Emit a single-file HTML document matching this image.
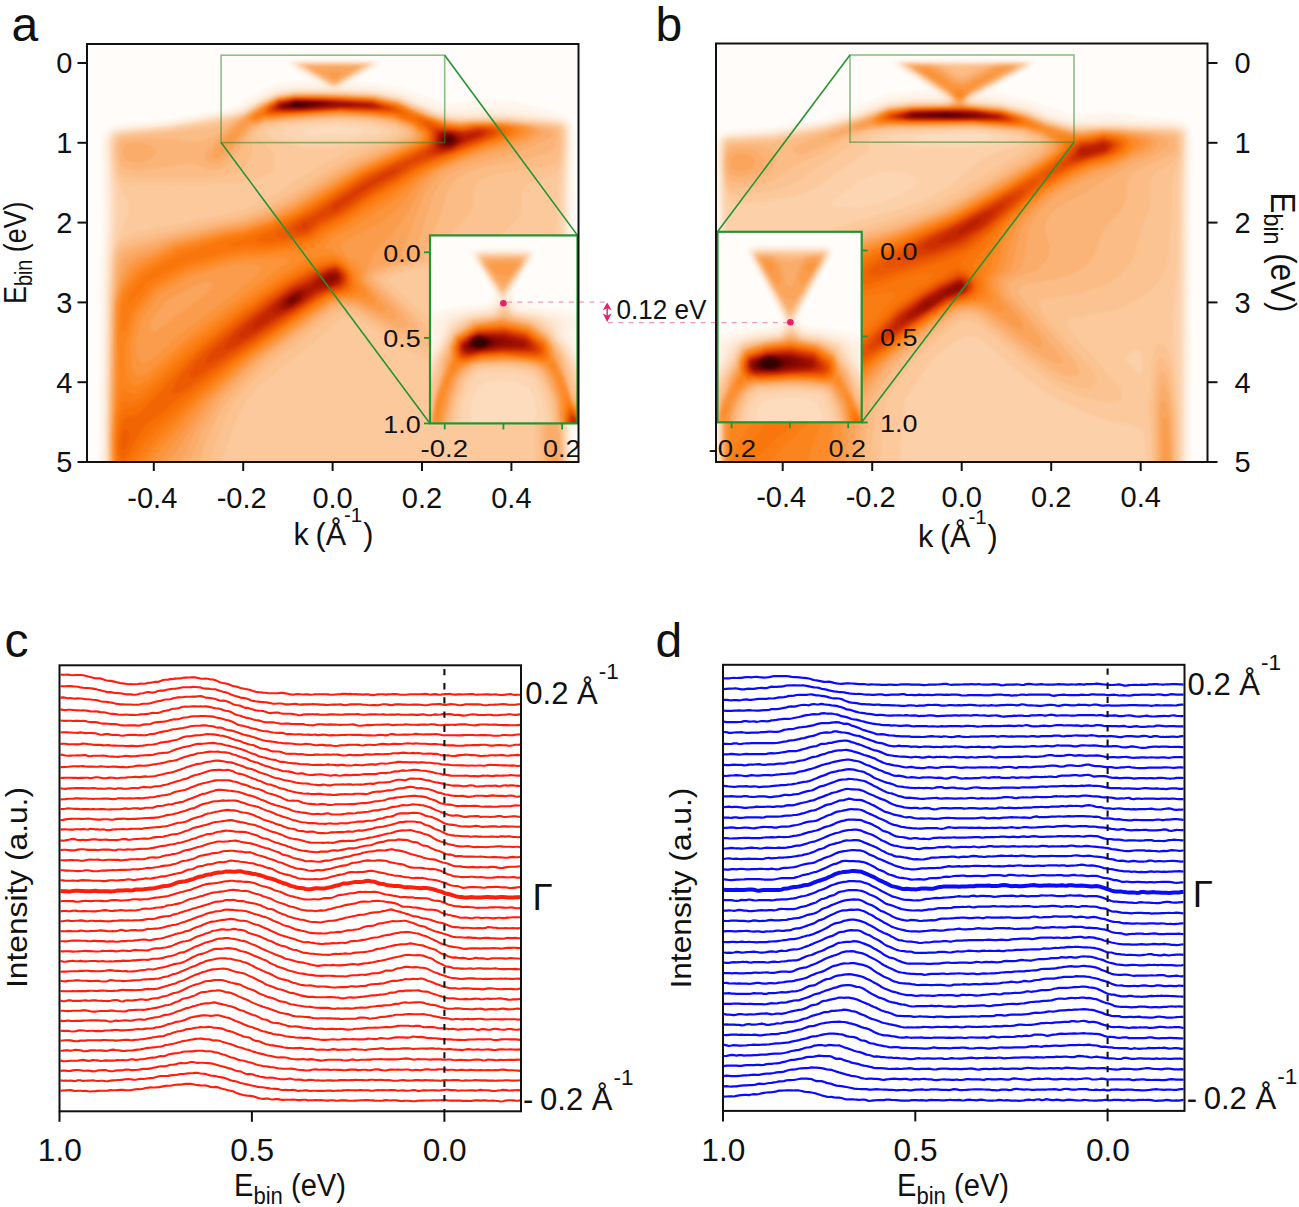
<!DOCTYPE html>
<html><head><meta charset="utf-8"><title>ARPES figure</title>
<style>
html,body{margin:0;padding:0;background:#fff;}
svg{display:block;}
text{font-family:"Liberation Sans",sans-serif;fill:#111;}
</style></head>
<body>
<svg width="1299" height="1207" viewBox="0 0 1299 1207">
<rect width="1299" height="1207" fill="#fff"/>
<defs><filter id="hb" x="-2%" y="-2%" width="104%" height="104%" color-interpolation-filters="sRGB"><feGaussianBlur stdDeviation="1.3"/></filter>
<clipPath id="cpa"><rect x="88" y="45" width="489.5" height="416"/></clipPath>
<clipPath id="cpb"><rect x="717" y="44.5" width="489.5" height="416.5"/></clipPath>
<clipPath id="cpia"><rect x="430" y="235.4" width="147.5" height="188"/></clipPath>
<clipPath id="cpib"><rect x="717.5" y="231.8" width="144.2" height="190.5"/></clipPath>
</defs>
<g clip-path="url(#cpa)"><g filter="url(#hb)"><rect x="84" y="41" width="498" height="425" fill="rgb(255,252,249)"/>
<path fill="#fff7ef" fill-rule="evenodd" d="M574 466l-475 0 1-196 2-48-2-74 1-10 3-6 6-5 8-3 52-5 60-11 9-4 13-9 22-11 20-3 15-1 0 0-2-2-15-10-4-4 0-2 2-2 8-1 68 0 10 1 4 2 0 2-1 2-19 12-3 2 0 2 17 1 28 4 34 13 8 3 10 0 18-3 20 0 22 1 44 11 8 4 4 4 3 4 1 10 0 152 0 180 0 0z"/>
<path fill="#fef3e9" fill-rule="evenodd" d="M572 466l-471 0 2-198 2-46-2-74 1-10 2-4 4-5 8-3 52-5 62-11 9-4 13-8 22-11 18-2 18-1 5 0-1-2-2-2-20-13-4-3 0-2 2-1 8-1 66 0 8 1 4 1-1 4-24 14-3 2 0 2 4 2 20 0 26 5 36 15 10 2 12 1 16-2 30 0 16 2 20 4 18 3 8 3 4 3 1 4 1 8-1 62 0 194 1 74 0 2z"/>
<path fill="#fef0e1" fill-rule="evenodd" d="M570 466l-467 0 2-198 2-48-2-72 1-10 2-4 4-4 6-2 52-6 65-12 8-2 11-8 22-11 18-2 24-1 4 0-1-2-4-4-23-13-2-3 0-2 2 0 6-1 64 0 10 1 2 2-1 2-24 14-5 4-1 2 5 1 24 2 26 4 22 9 12 6 10 2 12 2 18-1 20-1 20 2 44 6 8 2 4 6 1 8-1 54 0 100 0 178z"/>
<path fill="#feead9" fill-rule="evenodd" d="M570 466l-466 0 1-162 1-42 2-42-1-72 0-8 2-6 3-3 8-2 50-5 66-12 8-4 12-7 20-10 18-3 31 0 1-2-1 0-3-4-25-14-4-4 0 0 1-2 8-1 62 0 10 1 1 2-2 2-27 16-4 4 0 2 4 1 28 1 26 5 35 15 10 2 11 2 38-1 20 1 44 5 4 1 4 2 3 4 1 8-2 56 0 154 2 122z"/>
<path fill="#fde6d0" fill-rule="evenodd" d="M568 466l-463 0 1-162 1-44 3-42 0-24-2-46 0-8 2-6 4-3 6-1 50-5 66-12 8-3 12-8 20-10 20-3 28 0 4-1 0-2-3-2-27-16-4-4 0 0 2-2 6 0 62 0 8 0 2 2 0 0-2 2-29 18-3 2-1 2 5 2 30 1 26 5 34 14 9 4 13 2 38-2 20 1 44 5 6 3 4 4 0 7-1 56 0 162 1 114z"/>
<path fill="#fde0c7" fill-rule="evenodd" d="M568 466l-462 0 1-162 2-44 2-26 0-16 0-24-2-44 0-10 2-4 4-4 7-2 48-4 64-12 10-4 12-7 22-10 18-3 30 0 6 0 1-2-34-20-3-4 0 0 2-1 6-1 60 0 6 0 2 2 0 0-2 2-26 16-9 6 0 2 7 1 32 1 26 5 36 15 16 4 10 1 32-1 12 0 50 5 8 3 3 4 1 6-2 54 0 122 0 76 2 80z"/>
<path fill="#fddbbd" fill-rule="evenodd" d="M336 87l-6-1-28-17-4-3-1-2 1 0 8-2 44 0 16 1 4 1 1 0-1 2-2 2-32 19zM566 466l-459 0 1-162 2-44 3-28 0-16 0-22-2-26-1-18 1-10 1-4 4-3 6-2 48-5 62-11 12-3 14-9 18-9 20-3 38 0 40 2 26 5 36 16 16 3 54 0 50 5 8 2 2 4 1 8-2 52-1 116 1 82 2 72 0 8-1 0z"/>
<path fill="#fcd5b3" fill-rule="evenodd" d="M336 86l-2 0-4-1-27-17-5-4 4-1 18 0 42 0 6 1 2 0-5 4-29 18zM566 466l-458 0-1-22 2-140 2-46 3-26 1-14 0-24-3-22-1-16 0-14 2-6 3-2 6-2 48-5 60-10 12-4 16-9 18-9 20-3 38 0 40 2 26 5 34 15 18 4 10 1 14-1 30 0 50 5 6 2 3 3 1 8-3 54 0 114 0 70 3 72 0 20 0 0zM346 136l13-2 3-2 1-2-4-2-5 0-18-2-21 2-10 2-3 2 2 2 12 2 14 0 16 0z"/>
<path fill="#fcd0a9" fill-rule="evenodd" d="M336 85l-2 0-4-1-26-16-3-2-1-2 4-1 16 0 42 0 6 1-1 2-3 2-28 17zM566 466l-458 0 0-22 2-142 2-46 5-26 1-16 0-18-4-22-2-16 0-14 2-7 4-3 6-1 46-5 58-10 15-4 15-10 18-9 20-3 38 0 40 2 26 5 35 15 17 5 10 1 14-1 30 0 48 5 8 2 2 4 1 6-1 22-3 34-1 172 1 22 3 36 2 44zM340 140l30-4 9-2 1-2 1-2-3-2-8-2-30-3-24 1-20 2-12 4-3 2 3 4 18 4 18 1 20-1z"/>
<path fill="#fcc99d" fill-rule="evenodd" d="M336 85l-4 0-2-2-25-15-3-2 0-1 12-1 46 0 6 0 1 2-1 0-3 2-27 17zM564 466l-455 0-1-20 2-114 3-72 3-15 12-31 1-6-1-6-10-18-2-9-3-23 1-8 2-6 3-2 5-2 46-4 56-10 18-6 14-9 18-9 20-3 38 0 40 2 24 5 38 15 16 5 10 0 14-1 30 1 48 4 7 2 2 2 1 4-1 20-1 12-4 24-1 42-3 26-6 43-13 47 2 4 9 8 4 7 4 7 2 6 4 22 3 22 1 44zM326 148l32-5 20-4 12-4 2-3 0-2 0-1-4-1-18-5-30-2-24 1-32 3-12 4-2-1-3 4 1 4 4 2 18 6 18 4 18 0z"/>
<path fill="#fbc391" fill-rule="evenodd" d="M336 84l-2 0-4-1-24-15-3-2 3-2 16 0 38 0 4 0 1 2-3 2-26 16zM220 466l-111 0 0-22 2-140 3-46 2-8 2-7 6-6 8-4 112-23 22-11 22-13 1-2 3-2 44-25 14-7 42-11 6-5 1-2-1-2-4-4-7-2-17-3-30-2-25 1-33 3-12 3-2 0-11 6 0 4 3 4 12 10 3 4 0 10-1 4-2 4-8 4-12 4-20 3-18 1-76 1-8-1-6-1-2-2-4-5-2-12-1-16 1-6 2-4 2-2 6-1 44-4 50-8 24-8 14-10 20-9 18-3 44 1 34 1 24 5 36 16 18 4 8 1 16-1 30 0 47 6 5 0 2 2 2 2 0 4 0 20-2 8-2 8-6 5-19 7-8 4-3 6 0 14-2 8-5 8-6 6-13 10-30 14-10 8-57 14-8 2-3 4 1 2 4 4 31 28 18 20 5 8 2 6 0 6-3 4-4 3-4 1-6-1-6-2-30-15-40-26-10-1-4 1-4 3-1 1-15 14-41 32-21 18-13 14-7 13-6 13-14 40zM564 466l-29 0-1-38 0-22 2-8 3-6 1-4 1-2 3-2 2 0 2 2 2 2 4 5 4 6 2 7 2 18 2 40 0 2z"/>
<path fill="#fbbc86" fill-rule="evenodd" d="M334 84l-4-1-21-13-3-2-1-2 5-1 12 0 36 0 5 1 0 0-2 2-23 14-4 2zM208 466l-98 0 0-22 2-140 3-44 2-8 2-4 5-5 6-3 92-21 20-3 19-8 7-2 24-13 42-27 18-9 14-6 32-11 6-4 2-4-4-4-10-4-22-4-19-2-11 0-24 1-34 3-14 2 0-1-14 7-1 4-2 6 1 10-1 6-3 6-4 5-6 4-8 3-8 2-10 1-74 0-12-1-4-2-2-2-3-12-1-12 1-6 2-2 4-2 5-2 42-3 38-4 8-2 28-11 14-10 18-9 20-3 44 0 34 2 24 5 28 12 14 5 10 3 10 1 16-1 32 0 44 5 4 2 3 2 2 6-1 14-2 9-4 4-6 3-54 8-4 2-11 4-3 4-2 2-1 6 0 12-2 8-5 6-14 14-6 8-6 9-5 11-44 12-7 2-4 4 0 2 4 6 27 24 13 14 5 8 3 6 1 4-1 4-4 2-4 0-20-7-12-6-30-19-10-4-10-1-6 2-61 47-21 19-19 21-7 12-7 16-13 38zM562 466l-22 0-1-38 0-14 3-11 2-3 2-2 4 1 4 2 2 5 4 10 2 16 1 32 0 2-1 0z"/>
<path fill="#fbb478" fill-rule="evenodd" d="M336 83l-6-1-20-12-4-4 4-1 14 0 32 0 4 1 2 0-6 4-20 13zM198 466l-87 0-1-22 3-140 4-42 1-6 2-4 4-5 8-2 40-11 52-12 18-3 26-10 24-12 42-26 20-11 50-21 6-3 0-4-1-2-3-2-12-5-24-5-30-1-24 1-50 4-12 6-5 6-9 16-10 12-8 6-8 2-6-1-14-5-6 0-38 5-14 1-8-1-6-3-3-8 0-10 1-4 2-3 2-1 6-1 18-1 24 1 20 3 10-1 12-5 17-12 13-8 15-10 13-6 6-3 18-3 44 1 34 1 24 5 28 13 14 5 10 2 10 1 16-1 32 1 18 2 23 4 5 1 3 1 1 6-2 7-2 6-6 4-20 6-40 7-14 4-6 2-10 6-6 6-4 6-7 24-13 30-5 16-37 10-7 4-4 2 0 4 3 4 25 24 11 12 5 10 0 2-1 3-4 1-4 1-12-4-14-7-24-14-8-4-12 0-7 2-66 50-16 16-23 24-8 12-8 16-7 16-7 22 0 0zM562 466l-18 0-2-38 2-14 2-4 2-2 4 0 2 3 4 6 1 7 3 36 0 6 0 0z"/>
<path fill="#faac6a" fill-rule="evenodd" d="M336 82l-4 0-2-2-18-10-3-2 1-2 14 0 34 0 1 2-3 2-20 12zM188 466l-77 0 0-22 3-139 4-40 4-9 2-3 6-3 42-13 52-12 18-3 28-10 24-12 40-25 22-12 51-23 5-2 2-4-1-2-3-4-16-7-24-4-30-1-58 4-14 2-2-1-8 4-6 1-16 22-12 11-6 5-4 0-4-1-2-1-2-4-1-2 1-4 7-8 15-16 8-6 24-15 18-10 18-2 20-1 58 3 24 5 26 12 16 5 10 3 10 1 16-1 32 0 23 4 17 4 4 2 1 2-3 4-16 8-22 8-46 12-16 8-6 4-4 6-4 6-4 8-19 62-33 9-6 4-3 5 0 2 4 6 21 20 8 10 4 6 0 4-2 1-6 1-8-3-32-16-10-4-10 0-10 3-69 52-16 16-24 24-8 14-10 16-15 36zM140 162l-10 0-6-3-1-3-1-4 1-4 1-3 6-2 10 0 10 2 5 3 2 4-3 4-6 4-8 2zM560 466l-13 0-1-40 2-6 2-2 4 1 3 5 3 22 0 20z"/>
<path fill="#faa45c" fill-rule="evenodd" d="M336 81l-4-1-16-10-2-2 0 0 4-1 26 0 10 0 0 1-2 2-16 11zM178 466l-66 0-1-22 2-52 1-88 6-30 2-8 2-6 3-2 5-3 40-15 52-13 18-3 28-9 25-13 39-24 24-13 52-23 5-4 1-4-1-2-5-5-16-7-24-3-30-2-24 1-50 4-8 4-7 2-15 17-6 6-8 7-6 2-2 0-2-2 4-10 14-16 9-8 21-15 18-9 18-3 20 0 58 2 24 6 25 11 15 5 10 3 12 1 16-1 18 0 14 1 23 3 6 2 4 4 1 2-3 2-9 6-20 7-41 11-15 6-14 8-9 10-7 10-25 66-23 7-6 4-3 5 0 4 5 6 22 24 3 6-1 3-4 1-6-2-26-12-10-3-12 0-8 3-73 54-18 16-23 24-18 27-20 39zM558 466l-7 0 1-20 0-7 2-1 2 9 2 19z"/>
<path fill="#fa9c4c" fill-rule="evenodd" d="M336 79l-4-1-6-6 2 0 4-1 8 1 2 0-6 7zM166 466l-53 0-1-22 2-54 1-86 3-13 2-12 4-8 3-5 3-4 4-3 40-17 50-13 20-3 26-9 26-12 40-25 22-13 54-25 6-4 1-2-2-4-5-6-18-7-22-3-32-2-24 1-34 3-14 2-2-1-8 4-8 1-5 4-13 16-6 3-4 1 0 0 0-2 2-6 8-8 7-8 7-5 4-5 16-10 12-6 18-3 20 0 58 3 24 5 18 9 22 8 10 3 12 1 16-1 28 0 22 3 6 2 3 2 1 2-1 2-7 5-18 6-26 7-22 8-21 10-12 8-8 10-15 27-8 11-6 8-18 18-2 4 0 4-4 6-3 8-1 4 0 2 19 24 3 4 0 3-4 1-4-1-20-8-10-3-8 1-6 1-5 2-8 6-67 50-35 32-8 8-10 14-35 52zM156 332l50-38 6-6 1-2 0-2-1-1-4-1-14 3-28 16-16 21 0 6 2 3 2 1 2 0z"/>
<path fill="#fb943b" fill-rule="evenodd" d="M156 466l-43 0 0-20 2-60 1-80 2-13 4-9 4-9 4-7 4-3 4-3 36-18 52-13 18-3 28-9 25-13 39-24 24-14 54-25 5-3 2-4 0-2-2-2-7-7-18-7-22-3-32-2-24 1-48 5-2-1-8 4-6 1-2-1-2-2 0-2 2-2 17-12 11-5 16-3 38 0 40 2 26 5 18 9 22 9 10 2 12 2 16-2 26 1 19 2 6 2 3 2 0 4-7 4-55 18-22 8-11 6-15 11-20 25-14 12-8 6-24 12-11 6-2 4 1 4 6 8 8 3 4 5 2 4-1 10 12 16 2 4 0 4-1 0-4 0-11-4-11-1-8 0-6 1-12 7-34 25-39 28-42 40-51 66zM145 364l9-6 26-23 72-55 8-8 1-4-1-1-2-2-6-1-12 0-8 1-20 5-22 7-30 17-18 24-4 13-2 15 0 9 4 7 2 2 3 0z"/>
<path fill="#fc8c2a" fill-rule="evenodd" d="M146 466l-32 0-1-10 0-20 4-56 0-50 1-25 2-9 3-10 5-8 6-8 4-3 10-7 28-14 50-13 18-3 28-9 26-13 38-24 24-15 56-25 6-4 1-4 0-2-2-2-9-8-18-7-22-3-32-1-24 1-46 4-6-1-6 3-4 1-2 0-2-1 0-2 2-2 16-12 10-5 16-3 32 0 46 2 26 6 18 9 30 11 14 1 16-1 24 0 18 3 4 1 3 2 0 2-2 2-9 5-32 9-14 6-36 16-12 8-20 18-10 7-40 26-11 5-7 4-7 8 0 2 1 2 4-1 10 6 6 4 4 5 6 4 2 4 1 8 7 10 1 6 0 2-3 0-18-1-10 1-8 3-38 27-43 32-45 40-56 66zM140 376l6-2 6-4 32-29 10-8 86-65 6-4 3-2 0-2-3-2-4-1-34 2-16 2-44 12-32 18-19 25-7 30 1 14 1 10 4 5 2 1 2 0z"/>
<path fill="#fc841c" fill-rule="evenodd" d="M140 466l-25 0-1-16 1-22 4-56-1-44 1-22 2-10 3-7 13-17 16-10 24-14 49-14 18-2 28-10 26-12 64-39 56-27 5-4 2-4-1-2-2-3-10-8-18-6-22-3-32-2-58 4-12 1-4 0-2-1-4 3-6 1-2-1 0-1 3-4 13-10 10-5 18-3 42 1 34 2 26 5 18 9 30 11 14 2 16-2 22 0 13 2 6 2 3 2 0 2-2 2-8 4-40 14-29 12-13 6-10 6-26 20-46 29-17 9-17 14-10 3-20 1-14 2-20 1-21 3-41 12-32 18-20 26-9 32 0 16 1 12 4 8 2 2 2 2 6-1 8-5 38-36 52-39 46-32 15-9 7-5 26-4 10 4 4 4 8 9 2 8 4 8 0 4-4 2-20 3-9 3-38 26-46 34-45 40-37 40-21 26 0 0z"/>
<path fill="#fa7d14" fill-rule="evenodd" d="M122 332l-1-4 0-10 0-10 1-7 6-12 14-17 36-21 48-14 18-4 28-9 27-12 63-40 58-27 4-4 2-3 0-4-1-2-13-10-18-6-22-3-32-1-58 3-12 1-6 0-6 2-3 0 0-2 3-2 10-8 8-6 2-1 18-2 42 0 34 2 26 6 18 9 30 11 14 1 16-1 20 0 14 2 3 1 2 2-1 4-6 3-39 13-32 14-12 6-7 4-22 15-17 11-33 22-22 12-14 10-10 2-32 5-20 1-18 2-46 13-33 19-20 26-5 16-2 3-2 1zM134 466l-18 0 0-6-1-16 1-26 4-21 2-7 2 0 6 3 4 1 4-1 6-4 13-11 31-30 12-10 42-32 44-30 22-13 24-5 8 2 7 6 3 4 3 6 2 12 0 2-1 1-10 4-10 1-8 3-37 25-49 36-28 24-28 26-26 27-12 14-12 15z"/>
<path fill="#f9760c" fill-rule="evenodd" d="M128 304l0-2 2-7 14-18 15-11 19-10 48-17 18-3 28-10 28-13 8-5 54-35 57-27 6-4 3-4 0-4-2-2-13-10-19-7-22-2-32-2-68 5-6-1-2-1-4 1 6-7 12-8 18-3 18 0 58 2 26 7 16 9 32 10 14 2 16-2 18 0 13 3 4 2-1 4-5 2-37 14-34 14-14 6-24 17-18 10-34 23-20 11-14 10-10 3-32 5-22 0-16 2-46 12-36 19-14 17-6 5zM130 466l-12 0-2-10 0-14 2-22 2-11 2-7 2-1 10 0 8-4 18-17 27-26 14-12 43-34 42-30 24-12 22-6 8 2 6 5 4 5 2 4 1 10-1 4-8 3-14 3-10 5-33 23-50 36-48 40-35 34-12 13-10 17-2 2z"/>
<path fill="#f76f05" fill-rule="evenodd" d="M270 246l-12 0-12-1-12 1-4 0-2-2 8-2 10-3 11-5 17-6 26-14 64-40 56-27 7-5 2-6-1-4-1-2-13-10-18-6-56-3-68 4-6 0-2-1 0-2 2-4 12-8 18-3 40 1 36 2 24 6 18 10 10 2 20 8 16 2 16-2 18 0 10 2 4 2-2 4-4 2-67 26-19 8-20 14-20 11-34 24-20 10-12 10-12 2-28 5zM122 466l-2-2-2-4-1-8 0-8 2-22 1-6 4-6 2-1 10-2 6-4 20-19 27-28 12-10 41-34 46-32 22-12 24-7 6 3 6 4 3 4 2 6 0 6-2 4-5 4-16 4-8 4-34 24-52 36-54 44-30 26-10 13-12 18-2 3-4 2z"/>
<path fill="#f26503" fill-rule="evenodd" d="M408 116l-12-3-56-3-68 4-6 0-1-2 4-6 9-5 18-3 20 0 58 2 22 7 12 9zM270 243l-10-1-3 0-1-2 5-4 13-6 38-20 52-35 50-23 12-7 4-5 0-4-1-4-2-4-10-8 0-2 7 2 18 6 14 2 8 0 12-2 12 0 10 2 3 0 3 2-1 4-8 4-63 23-16 8-20 13-21 12-33 23-20 10-14 10-10 2-28 4zM124 460l-2-1-2-2-2-11 2-16 2-7 2-4 2-2 12-2 4-4 44-47 9-10 16-14 31-26 28-20 18-12 22-12 16-5 8-2 6 2 6 5 3 4 1 4 0 6-2 4-6 3-16 4-10 6-79 55-45 33-16 11-14 13-18 13-6 10-11 20-3 4z"/>
<path fill="#ec5b02" fill-rule="evenodd" d="M292 113l-20 0-4-1-1-2 3-4 8-5 18-3 18 0 58 3 21 5 3 2 3 2 0 2-1 0-10 0-48-2-48 3zM294 238l-12 0-6-2-1 0 3-4 5-4 31-18 50-33 48-23 15-8 3-6 1-6-2-4-7-8 4-1 16 5 16 3 6 0 12-2 8 0 12 1 4 2 1 2-2 2-7 4-42 16-20 7-16 7-18 12-22 12-34 23-20 10-12 10-14 3zM174 394l-2-1-1-1 4-8 8-12 13-15 36-31 38-30 20-13 22-12 14-5 10-2 6 3 4 5 2 4 0 8-1 2-5 4-14 4-10 5-36 24-88 60-12 8-8 3zM124 450l-2 0-1-2 0-10 3-7 2-2 3 3 0 4-2 10-3 4z"/>
<path fill="#e75100" fill-rule="evenodd" d="M284 113l-12 0-3-1-1-2 3-4 7-5 18-3 34 1 42 2 16 5 5 2 2 2-3 1-6 0-46-2-56 4zM300 235l-12-1-3 0 0-2 6-6 13-8 12-6 23-16 27-18 24-12 20-9 14-8 6-5 2-4 0-6-2-8 0 0 30 4 6 0 12-3 14 1 5 2 0 2-2 2-6 4-37 15-24 7-14 6-19 12-21 12-34 24-20 9-12 10-8 2zM194 378l-4 0-1 0 0-2 1-4 9-12 9-10 37-32 41-31 26-15 16-6 6-1 2 0 5 3 4 4 2 4 0 6-1 2-4 5-14 4-10 5-106 69-18 11z"/>
<path fill="#df4600" fill-rule="evenodd" d="M296 112l-22 0-3 0-1-2 3-4 5-4 18-3 34 0 42 3 14 4 5 2-1 2-6 0-44-1-44 3zM304 232l-8-1-2-1 0-2 8-6 14-7 17-13 33-22 26-14 18-6 16-10 4-4 2-4 1-6 0-6 1-2 28 3 14-3 6 0 9 2 3 2-1 2-5 2-36 16-24 6-16 5-16 13-24 12-34 24-20 8-10 11-4 1zM210 363l-2 0-2-1 1-4 6-8 11-10 26-24 40-30 23-12 17-7 6-1 4 3 4 3 2 4 0 6-1 2-3 4-16 4-8 4-68 44-27 16-13 7z"/>
<path fill="#d73b00" fill-rule="evenodd" d="M286 112l-12-1-2-1-1-2 3-2 4-4 20-3 34 1 40 2 11 4 4 2 0 0-9 2-38-1-54 3zM436 155l-8 0-2-1 7-10 1-6 1-8 1-1 14 1 12 1 16-2 8 1 4 2 0 0-2 2-8 5-12 4-18 8-14 4zM336 210l-4 0-2 0 4-6 19-12 27-16 13-6 5-2-1 2-4 4-23 12-34 24zM306 228l-3 0-1-2 1-2 3-1 1 1-1 4zM228 349l-4 0 0-1 5-8 8-10 15-12 40-31 14-7 8-5 16-7 6-1 4 3 4 3 1 3 0 4-1 2-3 4-17 6-6 3-16 11-25 14-21 14-16 10-12 5z"/>
<path fill="#cf3000" fill-rule="evenodd" d="M300 111l-22 0-4-1-1-2 2-2 4-4 17-3 27 1 49 2 9 4 2 2-1 0-6 1-36-1-40 3zM442 153l-8 0-2-1 3-10 1-10 2-2 4 0 8 0 14 2 14-2 5 0 3 2-2 4-6 2-10 4-16 8-10 3zM244 338l-4 0-1-2 2-4 7-8 26-23 18-13 16-7 6-5 16-7 6-1 4 2 2 4 2 4-1 4-3 4-16 5-8 3-20 15-22 11-18 12-12 6z"/>
<path fill="#c42700" fill-rule="evenodd" d="M290 111l-12-1-3 0-1-2 6-5 16-4 32 1 44 3 4 1 4 2-2 2-4 0-34 0-50 3zM442 152l-6-1-1-1-1-2 3-14 3-3 10 0 14 2 14-2 4 1 0 2-4 3-10 4-16 8-10 3zM256 328l-4 0 3-6 25-24 12-9 16-6 7-5 14-8 7-1 5 5 2 4-3 6-24 9-22 15-20 10-18 10z"/>
<path fill="#b81f00" fill-rule="evenodd" d="M302 110l-20 0-4-1-2-1 1-2 3-3 16-3 32 0 41 4 5 0 2 2-4 2-32-1-38 3zM448 150l-8 0-3-2-1-2 2-10 1-2 1-2 10-1 16 4 12-2 1 1-1 1-8 3-14 8-8 4zM276 314l-2 0-2-2 1-2 3-6 8-8 10-6 16-6 6-5 14-8 6-1 5 4 0 4-2 6-5 2-18 5-4 3-10 9-8 4-10 5-8 2z"/>
<path fill="#ab1600" fill-rule="evenodd" d="M298 110l-16-1-4-1-1-2 3-2 16-4 40 2 32 2 4 2-3 0-29 1-42 3zM448 149l-6 0-4-1 0-4 0-4 1-4 1-3 4-1 8 0 12 6 0 2-5 4-11 5zM286 310l-6 0-2-2 0-2 5-6 9-7 6-3 14-4 4-5 9-7 4-2 7 0 3 2 1 4 0 2-2 3-8 3-16 3-14 13-8 5-6 3z"/>
<path fill="#9e1000" fill-rule="evenodd" d="M306 109l-24 0-2-1-2-2 2-2 16-4 33 2 26 2-4 2-11 0-34 3zM450 148l-6 0-4-2-1-4 0-4 1-3 2-1 4-1 6 0 9 5 0 2-2 2-5 4-4 2zM330 285l-8-1-2 0 0-2 4-4 4-4 6-1 4 1 1 2-1 4-3 2-5 3zM288 308l-4 0-3-2 1-4 5-4 9-6 6-2 4 1-1 3-4 6-7 5-6 3z"/>
<path fill="#900c00" fill-rule="evenodd" d="M300 109l-16-1-4 0-1-2 1-1 4-1 12-3 28 1 14 2 1 0-14 2-25 3zM450 147l-6 0-3-1-1-6 1-4 2-2 3-1 6 0 6 5 1 2-1 2-3 2-5 3zM332 283l-6-1-1 0 1-4 4-3 6 0 1 1 0 2-3 3-2 2zM290 306l-4 0-2-2 1-2 2-4 9-5 4-1 2 2 0 2-2 4-6 4-4 2z"/>
<path fill="#820800" fill-rule="evenodd" d="M306 108l-14 0-8 0-3-2 1 0 4-2 10-3 29 1 6 2 1 0-26 4zM450 146l-4 0-4-2-1-4 3-5 2-1 4 0 4 2 2 2 1 2-1 2-6 4zM332 280l-2 0 0-2 0 0 4-1 0 1-2 2zM292 304l-4 0-1 0 1-4 7-6 4 0 1 2-1 2-7 6z"/>
<path fill="#730400" fill-rule="evenodd" d="M302 108l-13 0-4-2 0 0 4-2 7-2 22 0 6 2 1 0-23 4zM450 145l-4 0-3-1-1-4 2-4 6-1 2 1 3 2 1 2-1 2-5 3zM292 302l-2 0 0-2 1-2 3-1 2 0-1 3-3 2z"/>
<path fill="#630300" fill-rule="evenodd" d="M306 107l-10 0-7-1-2 0 4-2 5-2 18 1 3 1 1 0-12 3zM450 144l-4 0-2-1-1-3 2-4 5 0 3 2 1 2-4 4z"/>
<path fill="#530100" fill-rule="evenodd" d="M300 107l-6 0-4-1 3-2 3-1 13 1 2 0-11 3zM450 143l-4 0-1-1 0-2 1-3 4 0 2 1 0 2-2 3z"/>
<path fill="#430000" fill-rule="evenodd" d="M300 106l-4 0-2 0-1-2 3-1 7 1-3 2zM448 141l-1-1 0 0 1-2 2 2-2 1z"/></g></g>
<g clip-path="url(#cpb)"><g filter="url(#hb)"><rect x="713" y="40" width="498" height="426" fill="rgb(255,252,249)"/>
<path fill="#fff7ef" fill-rule="evenodd" d="M1190 466l-476 0 0-144 2-58-1-110 0-12 3-6 4-5 6-1 46-3 43-7 12-4 15-5 20-8 22-9 24-3 18-1-1-2-2-2-25-16-5-4-1-2 2-3 2-1 6-1 116 0 10 1 4 1 1 1 0 2-3 3-31 17-7 6-2 2 40 8 20 8 20 6 12 0 16-2 10 0 48 6 18 1 8 3 4 3 3 5 1 10-1 326-1 0z"/>
<path fill="#fef3e9" fill-rule="evenodd" d="M1188 466l-472 0 0-146 2-58-1-106 0-12 3-7 2-3 6-2 46-3 55-9 17-6 40-16 26-3 22-1 1-2-4-4-29-19-6-5 0-2 2-1 8-1 112 0 12 1 2 1 1 2-3 3-40 23-4 2-1 2 1 2 18 2 26 6 20 9 22 6 10 0 20-2 6 1 20 2 48 2 4 1 4 2 5 5 1 10-1 44 0 282-1 0z"/>
<path fill="#fef0e1" fill-rule="evenodd" d="M1186 466l-469 0 0-146 2-60 0-50-1-52 0-14 2-6 4-3 4-1 46-4 53-8 19-6 42-16 24-3 24 0 4-1-1-2-4-4-33-21-4-5 0-2 2 0 6-1 112 0 10 0 3 3-3 3-40 23-6 4-2 2 4 2 18 2 26 6 22 9 22 6 12 1 20-2 72 4 8 2 2 2 2 4 1 10-1 44-1 280-1 0z"/>
<path fill="#feead9" fill-rule="evenodd" d="M1186 466l-468 0 0-146 2-62 0-48-1-52 0-14 2-6 3-2 4-1 46-3 54-10 27-8 33-12 24-3 26 0 5-1-1-2-5-6-33-21-5-5 0 0 1-2 8-1 64 1 44-1 12 1 2 2-2 3-43 23-7 6-1 2 0 0 25 4 18 4 10 2 21 10 21 5 38-1 64 3 6 1 3 2 4 4 0 10 0 42-1 282 0 0z"/>
<path fill="#fde6d0" fill-rule="evenodd" d="M1184 466l-466 0 1-146 2-42 0-22 0-46-2-50 1-14 2-6 2-3 4-1 46-3 55-9 27-8 32-13 24-3 30 0 3-2-1-2-5-4-35-23-4-5 0-1 2-1 8-1 60 1 46-1 10 1 2 1 1 1-3 3-43 23-8 6-1 2 0 2 4 1 24 2 16 4 12 3 20 8 22 6 40 0 62 2 6 1 2 1 3 2 1 4 0 8-1 42-1 282z"/>
<path fill="#fde0c7" fill-rule="evenodd" d="M1184 466l-465 0 0-146 3-42 0-24 0-44-2-50 1-14 1-6 4-2 4-1 44-3 54-9 28-9 32-12 24-2 30-1 5-1-1-4-4-4-36-23-5-5 1 0 1-2 7 0 60 1 44-1 11 0 2 2 1 0-2 3-42 23-11 6-1 4 2 1 28 3 16 4 10 3 22 9 22 5 40 0 62 2 8 2 3 5 1 8-2 42 0 282z"/>
<path fill="#fddbbd" fill-rule="evenodd" d="M1182 466l-462 0 0-148 3-42 0-24 0-42-2-50 1-14 1-6 3-2 4-1 44-2 50-9 34-10 30-11 24-3 30 0 6-2 1 0-1-2-4-4-38-26-4-4 2-1 6-1 58 1 46-1 10 1 2 1-1 2-42 24-11 6-2 2 0 2 4 2 28 3 14 3 12 4 20 8 24 6 42 0 60 2 4 1 4 1 2 4 1 8-2 42-1 282z"/>
<path fill="#fcd5b3" fill-rule="evenodd" d="M1182 466l-462 0 0-150 1-14 3-26 1-20 0-44-3-48 0-16 2-6 2-3 4-1 44-2 48-8 36-10 30-12 24-3 32 0 6-2-1-3-4-4-38-26-3-2-1-2 1-1 8 0 38 1 60-1 14 0 1 1-3 4-37 20-13 8-3 2 0 2 0 2 5 1 28 3 14 3 12 3 20 8 24 7 40-1 60 3 6 1 2 1 3 3 1 8-2 40-1 158 1 126zM975 142l14-2 3-1 2-1-3-2-4-2-12-2-7 0-40 2-10 2-5 2 0 0 5 2 12 2 22 1 23-1z"/>
<path fill="#fcd0a9" fill-rule="evenodd" d="M1180 466l-459 0 0-152 1-16 5-30 1-22-1-34-3-24-2-20 1-18 1-8 3-2 3-1 44-2 48-8 36-11 30-11 24-3 32-1 6-1 1-4-5-4-38-26-3-2 0-2 1 0 6-1 40 1 28 0 28-1 14 1 2 0 0 2-3 2-37 19-12 8-4 3 0 4 4 1 30 3 12 3 14 4 20 8 24 7 40-1 60 3 8 2 2 4 1 8-3 38 0 84-2 72 2 82 0 46 0 0zM973 148l27-4 8-2 2-4-2-2-9-2-25-3-41 1-27 1-14 2-3 1-2 2 1 3 4 2 20 4 28 1 33 0zM852 208l26-4 11-4 10-4 7-4 6-4 4-6-1-4-2-2-5-3-12-2-14 1-14 4-10 6-12 9-13 9-2 4 1 2 4 1 16 1z"/>
<path fill="#fcc99d" fill-rule="evenodd" d="M1178 466l-31 0-2-26-1-7-4-4-8-4-20-3-24-8-30-14-16-10-28-22-29-26-9-5-8-1-6 2-8 4-22 18-27 40-6 66-178 0 1-156 1-12 3-12 2-9 4-7 4-2 6-3 96-37 22-8 37-10 28-10 11-6 14-8 32-27 11-5 27-9 3-3 1-2-2-4-24-4-24-3-82 3-18 3-6 5 0 2 1 6 0 2-3 3-26 17-18 14-6 4-13 6-19 4-26 4-20 2-6-1-2-2-2-4-2-6-2-15-1-14 1-12 2-7 2-2 4-1 42-2 48-8 38-12 28-11 24-3 34 0 4-1 2-1-1-4-5-5-37-25-3-2 0-2 2 0 4-1 42 2 26 0 26-2 14 1 2 0 0 2-2 2-48 27-5 3 0 4 3 2 32 3 12 3 14 4 18 8 26 7 40-1 60 3 6 2 3 3 1 10-4 36 0 72-2 31-4 41 4 52 2 22 1 64 0 2-1 0zM1140 374l2-3 0-5 0-10-4-6-4 0-6 4-2 2 0 4 3 4 5 6 4 3 2 1z"/>
<path fill="#fbc391" fill-rule="evenodd" d="M880 466l-158 0 0-150 2-17 4-13 4-5 4-3 64-24 60-26 40-12 40-15 22-12 28-18 32-19 8-7 2-3 0-2-3-2-7-4-24-4-24-2-82 2-20 2-18 7-6 8-6 5-26 16-16 12-8 4-10 4-13 4-15 2-16 1-6 0-2-2-2-3-2-6-2-12 0-12 1-10 1-6 3-2 4 0 41-2 24-4 20-4 12-3 30-10 28-11 24-3 34-1 6-2 1-2-1-2-4-5-38-25-3-2 1-2 6 0 42 2 20 0 30-2 14 0 1 2-1 0-3 2-46 26-4 4-1 2 0 2 4 2 32 3 10 3 16 4 18 8 26 7 12 1 18-2 14 1 56 3 4 1 2 1 2 4 0 4 0 13-2 9-5 14-1 6 0 24-3 44-2 14-5 10-6 8-6 8-10 6-10 6-10 5-12 3-36 6-3 2-2 2 2 6 7 10 5 6 19 20 8 11 11 11 3 8 0 4-1 2-3 2-6 1-16-2-18-5-22-10-34-25-26-23-15-12-5-3-4-1-4-1-5 1-3 0-11 8-35 30-28 40-2 18-4 48 0 0zM1178 466l-26 0-1-28-3-26 0-8 5-50 3-7 2-3 2-1 4 2 4 6 3 9 3 17 3 43 1 46z"/>
<path fill="#fbbc86" fill-rule="evenodd" d="M870 466l-148 0 1-148 1-16 4-12 2-3 6-3 64-25 60-26 40-12 46-17 20-11 58-36 14-10 1-3 1-2-5-4-13-6-46-5-84 1-20 2-20 6-32 18-28 13-14 11-9 4-13 5-18 1-4 0-4-1-2-2-2-6-1-9 0-10 1-9 2-5 2-2 6-1 38-1 22-3 34-9 34-12 24-10 24-3 34 0 4-1 3-2 1-2-1-2-5-5-40-27 0 0 2-1 4-1 16 0 20 3 12 1 12-1 26-3 18 1 1 1-3 2-46 26-4 4-1 2 0 2 5 3 32 3 12 3 14 4 18 8 26 7 12 0 18-1 14 0 54 5 6 2 2 3 1 7-1 7-4 7-4 4-8 5-6 3-3 4-3 4 0 4 0 16-1 8-8 22-6 24-4 8-5 7-6 6-6 5-17 8-21 6-32 4-4 1-1 3 0 2 1 4 8 14 37 40 7 8 4 8 0 4-2 3-4 3-8 0-12-3-14-6-30-22-28-23-20-16-4-1-6-1-9 2-7 4-16 12-30 26-14 17-15 23-3 16-4 50zM1176 466l-22 0-2-54 1-14 3-32 2-6 4-3 2 3 4 6 3 12 1 10 3 32 1 44 0 2 0 0z"/>
<path fill="#fbb478" fill-rule="evenodd" d="M864 466l-141 0 0-146 1-17 4-9 2-4 6-2 64-25 60-27 40-11 36-13 16-8 16-8 65-40 9-6 2-4 0-2-3-6-17-7-50-5-84 1-18 2-20 4-36 17-16 5-4-1-2-2-1-2 1-4 15-6 55-21 24-10 24-3 34-1 8-2 1-1-1-2-6-7-33-23-5-4 0-1 6 0 12 0 11 1 9 3 10 6 4 1 4-1 12-6 10-3 16-1 12 0 1 1-3 4-44 24-5 4-1 4 2 2 4 1 32 3 10 3 14 4 20 9 26 7 12 0 18-2 16 1 32 3 20 3 4 2 2 2 0 6-2 4-2 4-35 16-3 2-4 4-3 8 0 12-3 8-4 8-12 12-4 6-3 6-5 16-4 6-4 6-8 6-10 5-14 4-28 5-6 2-3 4 0 4 4 6 15 18 28 32 10 12 3 8 0 2-1 3-4 1-6 0-8-2-8-4-24-16-27-22-21-16-6-3-6 0-6 0-6 2-12 7-22 19-22 19-14 18-16 22-3 18-3 48zM746 182l-8 0-4 0-4-2-2-3-2-6 0-9 0-8 2-6 3-2 3-1 18 0 12 1 9 4 3 4 0 4-1 6-3 6-6 4-5 4-7 2-8 2zM1174 466l-18 0-1-64 3-24 2-6 2-1 4 3 2 6 4 22 2 18 0 46z"/>
<path fill="#faac6a" fill-rule="evenodd" d="M858 466l-135 0 1-144 1-14 3-11 2-3 6-3 64-25 60-26 40-12 40-16 14-6 45-26 38-22 9-8 2-4 0-2-2-4-4-4-18-6-50-4-84 0-18 2-12 3-8 0-20 7-5 0 0 0 1-2 12-6 30-12 8-4 10-5 24-3 36 0 7-2 1-2-1-2-5-7-36-23-3-4 2 0 13-1 12 2 6 3 12 8 6 1 4-1 16-8 7-2 11-2 10-1 4 1 2 0-5 4-27 15-14 8-6 7-1 2 0 2 5 2 32 3 10 2 16 5 20 8 26 8 10 0 22-2 16 1 31 3 13 4 4 2 1 4-1 2-14 9-8 4-14 5-22 13-12 7-10 7-28 15-5 4-7 8-3 8 0 6 5 16-1 6-1 4-11 12-21 8-4 4-3 2 0 6 3 6 43 52 7 10 1 4-1 1-4 1-6-2-20-11-36-27-14-11-8-2-6-1-6 1-7 1-11 8-16 12-33 28-16 18-15 22-3 20-3 46zM742 177l-8-1-4-2-1-2-1-6-1-6 1-5 2-3 6-3 10 0 8 1 7 4 2 2 2 4-1 4-2 4-2 3-6 3-12 3zM1172 466l-14 0 0-58 2-16 2-8 2 1 4 8 3 23 2 48 0 2-1 0z"/>
<path fill="#faa45c" fill-rule="evenodd" d="M852 466l-128 0 0-144 2-14 2-8 4-3 4-3 64-25 60-27 40-12 43-16 11-6 46-26 38-22 10-8 3-4 1-2-3-6-7-5-18-6-24-2-26-2-84 1-12 1-6-1-10 3-6 0-4-1 0-2 36-16 24-3 36-1 8-2 1-2-1-2-6-8-34-22-2-2 0-2 10 0 10 2 7 2 15 10 6 2 6-2 22-12 8-2 12 0 3 0 0 2-4 2-25 14-14 9-8 7-1 2 1 2 6 2 32 3 8 2 18 5 20 9 26 8 10 0 22-2 14 0 28 4 7 3 3 2 1 2 0 4-2 2-4 4-7 4-12 3-14 8-8 4-16 5-18 8-23 14-13 12-7 10-5 12-3 24-5 14-14 8-3 4 0 4 1 6 3 6 14 14 19 26 3 6-1 3-4 0-6-3-40-28-12-6-8-2-8 0-8 2-7 4-10 6-21 16-28 24-15 18-16 22-3 20-4 46zM744 171l-8-1-4-2-1-6 1-4 2-2 4-2 6 0 6 2 4 2 1 4-1 4-4 3-6 2zM1172 466l-12 0 0-50 1-12 3-5 0 1 2 4 4 16 2 46z"/>
<path fill="#fa9c4c" fill-rule="evenodd" d="M960 101l-2 0-10-11-29-20-3-2 8-1 9 1 21 14 8 2 6-2 27-14 9-1 6 1-3 2-37 21-4 3-6 7zM846 466l-121 0 0-142 1-14 3-6 3-4 4-2 64-25 60-28 40-13 54-22 46-26 40-24 11-8 2-2 2-4-1-2-2-4-8-6-20-6-50-4-30 1-54 0-12 1-6-1-12 2-2-1 0 0 12-6 8-6 10-4 24-3 36-1 12-2 8 2 32 4 8 1 18 6 20 9 26 7 10 1 22-3 10 1 26 4 6 2 4 2 1 2 0 4-3 2-4 3-12 5-6 4-8 4-10 3-16 5-16 8-24 14-16 14-9 10-5 8-3 8-8 36-11 7-2 3 0 4 3 12 18 22 4 8 0 2-1 1-2 0-6-2-23-15-9-4-12-2-12 1-4 2-8 5-25 18-33 28-6 6-15 16-14 18-4 24-3 42zM1170 466l-8 0 1-46 1-3 3 3 3 46z"/>
<path fill="#fb943b" fill-rule="evenodd" d="M960 100l-2-1-10-11-21-14-5-4 4-1 4 1 22 14 6 2 4 0 8-2 26-12 4-2 2 0-30 18-4 4-6 7-2 1zM838 466l-113 0 1-140 2-13 2-7 2-2 5-2 51-20 26-11 46-23 40-14 54-22 48-26 39-24 12-10 3-2 1-4 0-2-3-4-10-7-20-6-50-3-62 1-22-1-12 1-7-1 0-2 1-2 8-6 10-4 22-3 36 0 12-2 8 2 32 3 6 1 20 7 20 9 24 7 12 1 20-3 12 1 22 4 8 3 2 4-3 4-4 2-7 3-8 5-16 7-16 5-18 7-24 15-17 14-12 14-6 8-3 8-9 34-7 6-3 6 1 6 9 20 0 2 0 2-5-1-16-6-6-1-14 1-10 3-19 12-17 14-32 26-12 12-24 28-5 22-5 44 0 0z"/>
<path fill="#fc8c2a" fill-rule="evenodd" d="M960 98l-2 0-1-2-3-4 0-2 8-1 3 1-1 4-4 4zM828 466l-101 0 1-136 1-12 3-6 6-5 48-19 32-14 42-23 40-15 55-22 50-28 37-24 14-10 2-2 2-4-1-2-3-4-12-9-20-4-50-4-94 1-6-2-1 0 1-2 5-4 11-5 22-3 36-1 12-1 40 4 6 2 20 6 20 10 24 7 12 1 20-3 8 0 14 2 14 5 2 4-2 2-14 11-16 6-17 5-18 8-25 14-17 14-13 14-6 8-5 8-5 14-5 22-5 4-2 4-1 8 4 12-1 4-4 1-14-1-11 2-9 2-6 4-33 22-33 28-24 24-15 16-5 10-5 20-5 36 0 0z"/>
<path fill="#fc841c" fill-rule="evenodd" d="M960 97l-2-1-1-2 1-2 4 2-1 2-1 1zM1040 128l-6 0-10-2-12 0-38-3-30 1-62-1-4-1-3-2 4-4 11-5 22-3 36-1 12-1 40 5 6 1 18 6 13 8 3 2zM806 466l-78 0 3-56 2-72 1-10 3-4 6-4 29-11 14-8 26-17 8-4 18-14 22-12 92-38 57-32 36-22 14-10 3-4 0-4-1-2-4-6 1-1 16 2 16-1 14-3 6 1 14 2 8 6 2 2-1 2-5 6-4 2-16 8-18 4-19 8-23 15-24 19-16 18-4 6-5 10-7 18-2 10-3 4-1 2 1 16-1 5-4 2-24 5-11 4-33 24-45 36-27 27-6 5-3 6-14 22-6 16-7 22z"/>
<path fill="#fa7d14" fill-rule="evenodd" d="M1030 125l-18 0-38-3-62 1-28-1-5 0-1-2 2-4 7-4 11-2 14-2 36 0 12-1 42 4 18 7 9 4 1 3zM766 466l-35 0 1-12 6-12 18-24 54-53 40-35 7-8 3-4 0-4-3-2-21-5-4 2-4 0-4-2-4-4-1-5 1-4 6-5 3-7 7-8 11-8 13-9 94-40 56-31 34-21 14-11 5-6 3-9 24-2 14-3 16 2 4 2 4 2 1 4 0 2-3 4-4 4-14 6-18 5-20 8-24 14-18 15-17 16-8 10-7 10-10 18-3 8 0 6-1 4 2 16-2 4-8 4-20 6-8 4-33 22-19 16-19 14-44 40-31 31-16 15-18 20z"/>
<path fill="#f9760c" fill-rule="evenodd" d="M1022 124l-12 0-36-2-66 0-24-1-3-1-1 0 2-4 6-4 12-2 12-1 48-2 42 5 19 6 3 4 0 0-2 2zM746 466l-4-1-1-1 0-4 12-20 14-18 50-52 57-50 21-24 0-2 0-2-3 0-38 6-8 0-6-2-2-2-2-2 0-4 1-4 4-6 9-10 8-6 16-8 50-23 30-13 56-31 30-19 17-12 7-6 4-8 2-1 34-6 14 2 4 2 4 2 1 3-1 4-2 3-6 3-10 5-18 5-20 8-24 14-18 14-21 20-10 12-23 30-1 4 6 12 2 6-1 6-4 5-4 3-22 6-38 26-18 15-21 15-81 66-16 12-18 19-12 9z"/>
<path fill="#f76f05" fill-rule="evenodd" d="M1014 124l-40-2-30 0-38 0-20-1-4-1 0-2 2-2 6-3 18-3 52-2 40 4 15 4 6 4 1 2-1 0-7 2zM796 410l-1 0 0-2 7-12 8-10 12-14 54-48 18-18 22-18 14-8 4-6 0-2-2 0-6 0-18 4-34 12-14 3-10-1-3-4-1-2 1-4 4-6 9-9 14-9 18-8 32-16 30-13 56-31 26-16 20-13 8-7 6-8 2-2 8-2 12-2 12-2 12 2 7 4 2 2-1 4-3 2-4 4-11 4-18 5-18 8-26 14-37 33-29 29-16 13-1 4 8 6 7 8 2 4 0 6-2 4-2 2-8 5-14 3-9 6-31 21-20 15-68 51-14 9-14 6z"/>
<path fill="#f26503" fill-rule="evenodd" d="M1016 123l-10 0-32-2-66 1-22-2-2-1 0-1 6-5 22-4 48-1 42 4 15 6 2 2 0 2-3 1zM868 284l-8-1-2-2-1-3 1-4 2-4 9-6 16-10 23-12 48-22 74-42 16-10 14-11 14-14 6-3 12-1 12-3 11 2 4 2 3 2 0 2 0 4-3 2-5 4-8 3-18 5-20 8-24 14-37 32-23 22-10 8-10 6-12 6-18 6-28 8-26 9-12 3zM822 387l-1-1 2-4 6-10 8-8 41-38 18-18 22-16 32-20 6-3 6 1 4 1 6 7 3 4 1 6-1 4-3 2-6 4-14 4-7 4-33 22-20 16-46 31-18 10-6 2z"/>
<path fill="#ec5b02" fill-rule="evenodd" d="M1014 122l-8 0-32-1-62 0-20-1-5-2-1 0 1-2 3-2 22-4 48-1 40 4 14 5 2 2 0 0-2 2zM880 276l-8 0-3 0-1-2 1-4 3-2 11-10 33-18 40-19 82-46 24-17 10-12 4-2 4-3 12-1 12-3 10 3 4 2 2 2 0 2-1 2-7 6-6 2-18 5-20 7-26 14-54 50-12 9-12 8-32 12-52 15zM846 370l-4 0-1-2 2-2 19-22 18-17 16-17 24-17 20-12 18-9 8 2 6 6 2 4 0 4 0 3-4 3-6 3-14 5-6 3-34 22-28 21-36 22z"/>
<path fill="#e75100" fill-rule="evenodd" d="M1010 122l-36-1-62 0-18-2-6-1 0-2 2-1 3-1 19-4 48-1 40 4 10 3 4 4-1 0-3 2zM1046 177l-2 0-1-1 21-18 10-12 6-3 24-5 9 2 4 4 1 2-2 2-3 4-7 3-18 5-20 7-22 10zM892 268l-7 0-1-2 0-2 7-6 18-12 17-10 28-13 70-38 10-5 5 0-3 4-22 22-28 24-18 14-8 4-28 10-18 5-22 5zM864 356l-4 0-1 0 0-2 3-6 5-6 31-31 22-16 20-12 18-9 4 0 4 2 5 4 2 4 0 4-1 2-3 4-5 2-12 4-7 4-35 22-22 17-14 9-10 4z"/>
<path fill="#df4600" fill-rule="evenodd" d="M1010 121l-8 0-28-1-62 1-16-2-6-1 0-2 0-1 5-1 17-4 48-1 16 1 24 3 10 5 1 2-1 1zM1064 166l-2 0-1 0 13-18 6-5 12-1 12-3 8 3 3 2 0 2-1 2-8 6-18 5-14 4-10 3zM912 260l-9 0-2-2 0-2 5-6 10-6 12-7 28-13 52-29 13-5 4 0-2 4-9 10-28 24-16 11-10 6-16 6-18 5-14 4zM870 350l-2 0 0-2 0-2 8-10 22-24 22-16 20-12 18-8 8 1 4 5 2 2 0 4-4 5-22 10-36 23-20 14-12 7-8 3z"/>
<path fill="#d73b00" fill-rule="evenodd" d="M1004 121l-30-1-30 1-32-1-16-1-4-3 0 0 5-2 15-3 48-1 16 1 24 3 7 2 2 2-1 2-4 1zM1076 162l-6 0-2-2 7-10 6-6 11-1 12-3 6 2 3 2 0 2-1 2-6 5-30 9zM920 255l-6-1-2 0 0-2 5-6 10-6 27-14 48-26 9-4 3 0 1 0-3 6-20 20-8 6-14 9-10 6-10 4-16 5-14 3zM880 343l-4 0 1-3 14-18 9-9 22-16 20-12 16-8 6 1 6 4 1 4-1 2-1 2-3 3-22 9-36 23-16 11-12 7z"/>
<path fill="#cf3000" fill-rule="evenodd" d="M1004 120l-92 0-12-2-6-2 1 0 4-2 13-3 48-1 16 1 24 3 6 4 0 0-2 2zM1078 160l-4-1-2-1 1-2 4-6 5-5 10-1 12-3 4 1 3 2 0 2-1 2-4 4-28 8zM934 249l-8 0-2-1-1 0 2-4 5-4 44-24 22-10 6-3 3 1-3 4-11 12-7 6-10 6-16 9-24 8zM890 336l-4 0-1-2 4-6 7-10 4-4 22-16 20-12 14-7 4-1 2 1 4 1 2 2 1 6-1 2-3 2-21 9-46 30-8 5z"/>
<path fill="#c42700" fill-rule="evenodd" d="M956 120l-44-1-12-1-3-2 0 0 5-2 10-3 46-1 18 1 15 3 9 1 4 3 0 1-4 0-44 1zM1084 157l-6 0-2 0 0-1 2-6 4-4 12-1 10-3 3 2 2 2-1 2-2 3-22 6zM944 243l-6 0-1-1 0 0 7-6 28-16 14-8 8-2 0 2-5 6-6 6-8 6-17 9-14 4zM896 330l-2 0-2 0 1-4 7-10 23-18 19-11 16-7 2-1 2 1 5 4 1 2 0 2-4 5-20 7-14 10-34 20z"/>
<path fill="#b81f00" fill-rule="evenodd" d="M1000 119l-56 0-32 0-10-1-2-2 0 0 4-2 8-2 48-1 16 1 23 4 3 2-2 1zM1084 155l-4 0-1-1 1-4 2-2 12-1 10-3 2 2 0 3-22 6zM960 234l-2 0-2 0 6-6 10-6 8-3 2 0 0 1-3 2-7 6-12 6zM900 325l-1-1 0 0 3-7 22-18 18-11 14-7 6-1 4 4 1 4-3 4-20 7-19 13-25 13z"/>
<path fill="#ab1600" fill-rule="evenodd" d="M964 119l-20 0-32 0-7-1-2-2-1 0 4-2 6-2 46-1 18 1 22 4 0 2-6 0-28 1zM908 319l-2-1 0 0 2-4 16-14 32-18 4-1 3 1 2 2 0 4-3 3-18 7-17 12-12 6-7 3z"/>
<path fill="#9e1000" fill-rule="evenodd" d="M952 119l-40-1-6-1-1-1 3-2 4-2 46 0 18 1 10 1 6 2-5 2-35 1zM916 313l-1-1 1-2 8-8 14-7 6-5 14-7 3-1 3 2 0 4-2 2-18 7-16 11-12 5z"/>
<path fill="#900c00" fill-rule="evenodd" d="M966 118l-22 0-31 0-5-2-1 0 1-2 4-1 34-1 28 1 11 3-1 1-18 1zM946 294l-2 0 0 0 0-2 11-6 5-2 3 2-1 2-2 2-14 4zM924 307l0-1 2-3 5-1-3 4-4 1z"/>
<path fill="#820800" fill-rule="evenodd" d="M954 118l-42-1-2-1 2-2 34-2 25 2 7 0 1 2-25 2zM956 290l-1-2 1 0 4-1-1 1-3 2z"/>
<path fill="#730400" fill-rule="evenodd" d="M962 117l-18 0-32-1 3-2 31-1 17 1 7 0 1 2-9 1z"/>
<path fill="#630300" fill-rule="evenodd" d="M950 117l-23-1 2-2 15-1 18 1-1 2-11 1z"/>
<path fill="#530100" fill-rule="evenodd" d="M948 116l-6 0 4-2 1 0 1 2 0 0z"/></g></g>
<g clip-path="url(#cpia)"><g filter="url(#hb)"><rect x="427" y="232" width="154" height="195" fill="rgb(255,252,249)"/>
<path fill="#fff7ef" fill-rule="evenodd" d="M580 427l-153-1 1-113 22-5 20-3 16-2 4-2 4-5-2-6-20-32-1-6 3-2 6-2 24 0 22 0 6 2 3 2-1 6-20 32-1 4 1 4 4 4 4 2 36 4 12 3 10 3 0 21-1 5 1 4 0 83z"/>
<path fill="#fef3e9" fill-rule="evenodd" d="M580 427l-153-1 1-75 4-9 2-6 0-4-4-6 0-4 2-3 5-3 11-4 22-4 18-2 4-2 4-6 0-2-2-5-20-33-1-4 1-3 6-1 24-1 22 1 6 1 1 3-1 4-20 32-1 6 1 2 4 6 4 2 22 3 16 4 12 3 4 3 2 3 0 4-3 6-1 4 3 8 5 9 0 74z"/>
<path fill="#fef0e1" fill-rule="evenodd" d="M580 427l-153-1 1-69 10-20 1-5-1-6 1-4 5-4 8-4 18-4 20-2 4-3 4-6 0-3-2-5-21-33-1-4 2-2 6-2 42 0 6 1 2 2 0 3-1 2-19 32-3 4 0 4 5 6 4 4 22 3 14 3 9 4 4 4 1 4-1 6 0 4 13 23 0 68z"/>
<path fill="#feead9" fill-rule="evenodd" d="M580 427l-153-1 1-64 13-24 4-16 5-4 12-4 10-2 18-3 4-2 5-7 0-4-3-4-20-32-1-4 1-4 6-1 42 0 4 1 3 2 0 2-1 4-20 30-2 6 0 2 6 9 3 3 31 6 8 2 5 4 1 4 1 10 6 8 11 20 0 63z"/>
<path fill="#fde6d0" fill-rule="evenodd" d="M580 427l-153-1 1-59 16-29 4-14 4-4 10-4 10-3 20-3 4-2 5-8-4-10-20-30-1-4 2-3 6-1 38 0 6 0 2 2 0 2-2 4-19 30-3 8 0 2 7 8 3 3 18 3 10 2 8 4 5 4 3 12 8 10 10 18 2 6 0 57z"/>
<path fill="#fde0c7" fill-rule="evenodd" d="M504 298l-4-2-20-32-3-8 1-2 6-1 38 0 4 0 3 1 0 4-3 6-20 32-2 2zM580 427l-152 0 0-54 2-9 8-14 4-7 9-19 5-4 12-4 24-4 4-3 4-6 4-2 4 2 4 7 4 2 22 4 8 4 5 2 3 4 4 10 8 10 10 18 4 12 0 51z"/>
<path fill="#fddbbd" fill-rule="evenodd" d="M504 296l-2 0-2-2-17-26-5-10 0-2 1-2 5-1 38 0 4 1 2 2 0 2-3 6-21 32zM580 427l-152 0 0-49 4-12 20-40 6-4 10-5 26-4 2-3 4-5 4-2 2 1 6 7 4 2 20 4 8 3 4 4 4 3 5 11 10 14 8 14 5 15 0 46z"/>
<path fill="#fcd5b3" fill-rule="evenodd" d="M504 295l-2-1-2-2-18-26-3-8 0-2 1-1 4-1 36 0 4 0 3 2 0 2-3 8-18 26-2 3zM580 427l-48-1 4-6 1-10-2-10-5-11-7-5-5-2-16-2-16 2-6 3-4 5-4 11-2 9 1 10 4 6-47 1 0-43 6-18 18-37 8-6 10-5 24-4 3-2 5-6 2-1 2 1 6 6 2 2 18 4 8 2 5 4 5 5 6 10 9 11 9 16 6 20 0 41z"/>
<path fill="#fcd0a9" fill-rule="evenodd" d="M504 294l-4-2-17-26-3-8 0-3 6 0 34 0 4 0 2 1 0 4-3 6-17 25-2 3zM580 427l-33-1-4-24-7-17-4-7-4-2-8-3-18-1-22 1-2 1-4 6-4 6-7 16-3 24-32 1 0-37 7-22 3-10 14-27 6-5 9-6 7-2 20-3 2-2 6-5 2-1 2 1 4 5 4 2 18 4 10 5 8 8 10 14 2 3 10 19 8 23 0 36z"/>
<path fill="#fcc99d" fill-rule="evenodd" d="M504 293l-4-2-17-25-2-6-1-2 2-2 4-1 32 0 5 1 2 0 0 4-2 6-17 24-2 3zM580 427l-28-1-6-27-6-16-6-8-4-3-10-2-18-2-18 1-6 1-2 2-4 4-6 7-6 19-5 24-27 1 0-29 0-5 12-35 13-26 7-6 9-6 7-1 18-3 3-2 7-5 2 0 4 5 4 2 18 4 8 4 10 10 12 16 8 18 6 16 4 11 0 32z"/>
<path fill="#fbc391" fill-rule="evenodd" d="M504 291l-2 0-2-1-14-22-4-8-1-2 1-1 6-1 30 0 4 0 2 2 0 2-2 6-18 25zM580 427l-26-1-4-26-7-18-7-9-4-3-12-2-18-2-18 1-8 2-8 6-4 7-7 18-5 26-24 1 0-17 3-16 11-36 12-24 8-7 8-6 6-2 18-2 3-1 7-5 2 1 8 5 16 4 8 4 12 10 10 16 4 7 10 28 6 12 0 29z"/>
<path fill="#fbbc86" fill-rule="evenodd" d="M504 290l-2 0-2-2-12-17-5-9-1-4 1 0 5-1 30 0 4 0 2 1-1 4-2 4-17 24zM580 427l-24-1-4-28-7-18-7-9-6-3-10-2-20-2-20 1-8 3-3 2-9 10-2 7-5 13-5 26-22 0 0-2 0-5 4-10 2-15 5-18 3-16 5-10 2-6 5-10 6-4 12-8 6-2 16-2 10-4 10 4 16 4 6 4 13 10 13 20 10 34 8 11 0 26z"/>
<path fill="#fbb478" fill-rule="evenodd" d="M504 289l-4-2-14-20-2-5-1-2 1-2 4 0 30 0 4 0 0 1 0 5-4 5-12 17-2 3zM580 427l-22-1-2-19-2-9-7-18-7-10-8-4-10-2-20-1-20 1-8 2-4 3-6 5-4 6-2 4-5 16-6 26-17 0 0-4 2-5 4-25 6-17 2-15 4-8 2-8 4-9 6-4 12-9 6-1 16-2 10-3 10 4 16 3 4 3 14 11 12 19 12 39 2 3 6 5 0 24z"/>
<path fill="#faac6a" fill-rule="evenodd" d="M504 287l-4-2-10-14-5-7 0-2 1-2 4-1 26 0 4 0 1 1-1 4-4 7-12 16zM580 427l-21-1-3-28-8-19-7-11-7-3-12-2-20-1-20 1-10 2-7 5-7 9-6 16-7 31-14 0 0-4 5-28 6-19 4-15 3-6 1-8 5-10 19-13 20-3 10-3 10 4 14 3 5 2 15 11 6 11 1 4 4 6 13 40 2 3 6 4 0 22z"/>
<path fill="#faa45c" fill-rule="evenodd" d="M504 283l-4-2-8-9-5-8 0-2 1-1 28-1 3 2 0 4-5 6-6 8-4 3zM580 427l-20-1-3-28-7-20-7-10-9-4-12-2-20-1-20 1-10 2-9 6-6 8-7 20-7 28-11 0 0-6 4-24 14-42 1-8 4-10 19-12 20-3 8-2 26 6 4 1 15 12 5 9 20 53 2 3 6 3 0 21z"/>
<path fill="#fa9c4c" fill-rule="evenodd" d="M508 275l-8 0-4-1-5-6-2-4 5-1 20 0 2 0 1 3-3 3-2 3-4 3zM580 427l-19-1-2-28-7-20-7-10-11-5-12-2-20-1-20 1-10 2-10 6-7 9-6 16-7 30-1 2-8 0 0-4 3-23 15-43 0-8 5-11 4-3 14-9 28-5 24 5 4 2 16 12 5 7 3 10 10 21 8 25 2 3 6 3 0 19z"/>
<path fill="#fb943b" fill-rule="evenodd" d="M580 427l-18-1-2-30-7-20-7-10-10-4-14-2-20-1-20 1-10 2-12 6-6 8-4 10-4 12-6 26-2 2-3 0-1-2-1-4 3-19 8-22 8-21 0-10 4-10 20-13 26-4 24 5 4 2 16 12 4 6 2 4 1 6 11 23 8 24 2 3 6 3 0 18z"/>
<path fill="#fc8c2a" fill-rule="evenodd" d="M580 427l-17-1-1-30-6-20-8-11-12-4-2 0-12-2-18-1-22 1-11 3-11 5-9 11-7 18-6 23-1 3-1 0-1-6 1-11 8-23 4-8 5-16 0-10 3-10 18-11 4-2 26-3 26 7 16 11 2 4 2 6 1 8 3 2 5 14 3 6 6 14 4 10 2 3 6 3 0 17z"/>
<path fill="#fc841c" fill-rule="evenodd" d="M452 371l0-1-1-2 3-8-1-12 4-8 3-4 14-8 4-2 26-2 24 5 17 13 4 10 1 7-2 2-2 1-4 0-6-2-14-2-18-1-22 1-12 3-12 4-6 6zM554 368l-3-2 0-2 1-1 0 0 2 2 0 3zM580 427l-16-1 0-10 2-22 8 15 6 3 0 15z"/>
<path fill="#fa7d14" fill-rule="evenodd" d="M464 363l-6 0-2-1 0-2-2-10 2-8 2-3 3-3 13-7 4-2 26-2 24 5 16 12 3 6 1 4 0 6-4 3-22-3-20-2-20 2-18 5zM580 427l-15-1 0-12 1-8 2-5 0 0 2 2 6 8 4 2 0 14z"/>
<path fill="#f9760c" fill-rule="evenodd" d="M464 362l-6-1-2-5-1-8 2-8 3-2 14-8 4-2 26-2 24 5 16 12 3 9-1 6-4 1-20-2-20-1-20 1-18 5zM580 427l-14-1-1-4 1-7 1-7 1-3 2 0 6 7 4 2 0 13z"/>
<path fill="#f76f05" fill-rule="evenodd" d="M464 361l-5-1-3-4 0-8 2-8 16-10 4-1 26-2 22 5 18 12 2 6-1 6-1 1-2 1-40-3-20 1-18 5zM580 427l-13-1-1-4 0-6 2-6 2-3 2 1 4 5 4 3 0 11z"/>
<path fill="#f26503" fill-rule="evenodd" d="M464 360l-4-1-3-5-1-6 2-7 16-10 4-2 26-2 22 5 17 12 1 6 0 4-3 2-3 0-2 1-34-3-20 1-18 5zM580 427l-13-1 0-4 0-6 1-5 2-2 2 1 4 5 4 2 0 10z"/>
<path fill="#ec5b02" fill-rule="evenodd" d="M466 359l-6-1-2-4-1-6 2-6 15-11 4-1 26-2 22 5 16 13 1 2 0 4-1 2-6 2-34-3-20 2-16 4zM580 427l-12-1-1-4 1-4 1-4 1-3 2 0 4 5 4 2 0 9z"/>
<path fill="#e75100" fill-rule="evenodd" d="M466 358l-4-1-3-3-1-6 1-6 15-10 4-1 26-2 22 5 11 8 5 6-1 4-5 3-34-2-20 1-16 4zM580 427l-11-1-1-4 0-4 2-3 1-3 1 1 4 4 4 3 0 6 0 1z"/>
<path fill="#df4600" fill-rule="evenodd" d="M466 357l-4 0-2-3-1-6 1-6 10-7 8-4 26-1 22 5 10 9 4 4-1 4-3 1-34-1-22 2-14 3zM578 427l-8-1-1-6 3-6 2 1 2 4 4 2 0 3-2 3z"/>
<path fill="#d73b00" fill-rule="evenodd" d="M470 356l-6 0-2-2-3-4 1-6 2-3 7-5 9-4 26-1 22 5 9 8 3 4-2 3-4 1-30-1-22 2-10 3zM576 427l-5-1-1-1 0-5 1-4 1 0 2 1 4 5 0 2-2 3z"/>
<path fill="#cf3000" fill-rule="evenodd" d="M472 355l-4 0-6-1-2-4 1-6 9-8 8-3 26-1 22 5 6 5 3 6 0 2-1 0-4 1-28 0-22 2-8 2zM576 427l-4-1-1-2 0-4 1-3 2 1 2 4 1 2-1 3z"/>
<path fill="#c42700" fill-rule="evenodd" d="M472 354l-4 0-4-1-3-3 0-6 8-6 9-5 26 0 20 5 2 1 3 3 3 4 0 3-4 1-26 0-22 2-8 2zM574 426l-1 0-1-2 0-4 2-1 2 3 0 3-2 1z"/>
<path fill="#b81f00" fill-rule="evenodd" d="M468 354l-4-1-1-1-1-4 0-4 8-6 8-4 26 0 5 2 17 4 2 2 2 4-2 2-4 1-22 0-22 2-12 3z"/>
<path fill="#ab1600" fill-rule="evenodd" d="M468 353l-2-1-2-2-2-5 8-7 8-4 26 1 22 6 1 3-1 2-2 2-22 0-34 5z"/>
<path fill="#9e1000" fill-rule="evenodd" d="M470 352l-4 0-1-2-2-2 1-2 7-8 7-3 26 2 15 5 5 2-1 2-5 0-16 1-32 5z"/>
<path fill="#900c00" fill-rule="evenodd" d="M482 350l-14 0-2 0-2-3 6-7 8-5 26 4 9 3 0 2-3 0-12 2-16 4z"/>
<path fill="#820800" fill-rule="evenodd" d="M478 350l-8-1-2-1-1-2 1-2 2-4 6-4 4 0 6 0 16 6 0 0-2 2-8 2-14 4z"/>
<path fill="#730400" fill-rule="evenodd" d="M482 349l-6 0-6-1-1-2 0-2 3-5 6-3 9 2 5 2 3 2-1 2-3 2-9 3z"/>
<path fill="#630300" fill-rule="evenodd" d="M484 348l-6 0-6 0-2-2 0-2 3-4 5-3 8 1 5 2 1 2-1 2-7 4z"/>
<path fill="#530100" fill-rule="evenodd" d="M480 348l-4 0-4-2-1-2 1-2 2-3 4-2 6 1 5 2 1 2-1 2-4 2-5 2z"/>
<path fill="#430000" fill-rule="evenodd" d="M482 347l-4 0-4-1-2-2 0-2 2-2 4-2 6 1 3 1 1 2-1 2-5 3z"/>
<path fill="#340000" fill-rule="evenodd" d="M478 347l-2-1-3-2 1-2 2-2 2-2 4 1 2 1 3 2 0 2-1 1-8 2z"/></g></g>
<g clip-path="url(#cpib)"><g filter="url(#hb)"><rect x="714" y="228" width="151" height="198" fill="rgb(255,252,249)"/>
<path fill="#fff7ef" fill-rule="evenodd" d="M864 426l-150 0 0-90 26-6 34-4 4-2 3-4-1-3-2-5-30-56-1-6 0-2 2-2 7-1 68 0 6 1 3 2 0 4-2 6-29 52-2 4 0 4 2 5 6 3 34 4 22 6 0 90z"/>
<path fill="#fef3e9" fill-rule="evenodd" d="M864 426l-150 0 0-64 2-4-2-12 1-2 3-2 4-2 16-6 10-2 28-4 4-2 3-4-1-4-2-7-30-53-2-6 1-2 1-2 8-2 64 0 6 1 3 3 0 4-2 6-29 51-2 5 0 4 4 5 4 3 24 4 14 3 14 5 6 4 0 6-1 8 1 7 0 61z"/>
<path fill="#fef0e1" fill-rule="evenodd" d="M864 426l-150 0 0-57 5-9 2-10 1-4 7-6 11-4 16-3 20-3 5-2 3-6 0-4-4-7-28-51-2-8 0-2 2-1 6-2 64 0 4 1 4 2 0 4-2 6-28 51-3 7 0 4 3 5 4 3 20 3 18 4 10 4 5 5 1 2 1 12 5 11 0 55z"/>
<path fill="#feead9" fill-rule="evenodd" d="M864 426l-150 0 0-53 7-11 6-16 6-4 9-5 36-5 4-4 4-4-1-4-3-9-29-51-2-8 1-2 6-2 64 0 4 1 3 1 0 4-2 6-29 51-2 7-1 4 5 6 4 4 16 2 18 4 8 4 6 4 5 16 7 13 0 51z"/>
<path fill="#fde6d0" fill-rule="evenodd" d="M864 426l-150 0 0-49 9-13 7-16 6-6 8-3 14-3 20-3 5-3 4-6-1-4-4-10-28-50-3-6 1-4 6-1 60 0 6 0 4 1 1 4-3 6-28 50-4 12 6 8 4 3 16 2 16 5 7 2 5 6 7 16 9 16 0 46z"/>
<path fill="#fde0c7" fill-rule="evenodd" d="M864 426l-150 0 0-45 19-33 5-5 6-3 14-3 22-3 4-3 5-7-35-64-2-6 2-4 6 0 60 0 6 0 1 2 1 2-3 6-27 50-6 14 8 8 2 2 16 2 14 4 8 3 4 5 17 28 3 8 0 42z"/>
<path fill="#fddbbd" fill-rule="evenodd" d="M790 321l-2-1-2-3-30-55-3-8 0-2 1-1 6-1 60 0 4 1 3 1-1 4-2 6-30 56-4 3zM864 426l-150 0 0-41 4-8 13-19 3-8 6-6 4-3 8-2 26-4 4-2 6-6 4-1 10 9 16 3 10 2 10 4 4 4 18 30 4 10 0 38z"/>
<path fill="#fcd5b3" fill-rule="evenodd" d="M792 319l-2 0-3-3-30-54-3-6 0-2 2-2 6-1 26 1 32-1 4 0 2 1 0 4-2 6-32 57zM864 426l-41 0-1-12-3-8-3-4-8-4-18-1-26 3-4 4-4 8 0 8 0 6-42 0 0-37 6-11 12-19 4-9 4-5 6-3 8-2 26-4 2-2 6-5 4-1 2 2 8 6 16 2 8 3 10 4 4 3 18 30 6 14 0 34z"/>
<path fill="#fcd0a9" fill-rule="evenodd" d="M792 318l-2 0-2-2-26-46-7-12 0-4 1-2 6 0 28 0 28 0 6 0 1 2 0 4-2 4-31 56zM864 426l-31 0-5-16-4-10-4-5-12-2-18-1-29 2-7 6-5 10-4 16-31 0 0-33 8-15 11-18 4-8 3-6 6-3 8-2 26-4 4-2 4-5 4 0 10 7 20 4 10 3 6 4 18 31 8 17 0 30z"/>
<path fill="#fcc99d" fill-rule="evenodd" d="M790 317l-2-2-28-47-4-10-1-4 1-1 8-1 34 1 20-1 4 1 2 1 0 6-6 9-26 46-2 2zM864 426l-27 0-5-18-5-10-5-6-2-1-12-1-18-1-28 2-2-1-6 5-6 8-3 7-4 16-27 0 0-28 13-26 7-10 4-10 4-5 4-3 10-2 24-4 8-6 4-1 9 7 19 3 10 4 7 5 6 12 3 2 4 8 14 28 0 26z"/>
<path fill="#fbc391" fill-rule="evenodd" d="M790 316l-1 0-1-2-26-46-6-10 0-2 2-2 8-1 14 1 16 1 22-2 4 0 2 1-1 4-5 10-26 46-2 2zM864 426l-24 0-5-18-7-14-6-4-14-2-18-1-28 2-2-1-4 1-7 7-6 12-5 18-24 0 0-19 3-9 10-22 7-12 3-8 5-8 4-3 8-2 12-3 14-2 10-5 2 0 10 6 14 2 8 3 6 3 6 4 6 12 7 9 9 20 6 11 0 23z"/>
<path fill="#fbbc86" fill-rule="evenodd" d="M790 314l0 0-2-2-26-43-5-11 0-2 1-2 8 0 16 2 12 0 24-2 4 0 1 2-1 4-4 9-26 43-2 2zM864 426l-22 0-5-18-6-14-7-6-14-2-20 0-30 1 0-1-4 2-6 3-3 5-5 9-7 21-20 0-1-11 2-4 4-13 8-22 7-12 3-8 4-7 6-3 10-3 22-4 10-5 2 0 9 6 15 2 5 2 7 3 8 5 6 12 6 10 9 22 7 10 0 20z"/>
<path fill="#fbb478" fill-rule="evenodd" d="M790 312l0 0-2-2-24-40-6-10 0-2 1-2 3-1 6 0 18 3 12 0 16-3 6 0 2 1-1 4-5 10-26 42zM864 426l-20 0-5-20-7-13-6-6-16-2-20-1-30 2-2-1-4 2-4 3-5 4-5 8-2 4-5 20-16 0-1-6 6-22 8-22 6-10 2-8 4-8 4-2 6-2 14-4 14-2 10-4 2 0 10 4 14 3 4 1 8 4 7 6 6 12 6 8 9 26 3 4 5 4 0 18z"/>
<path fill="#faac6a" fill-rule="evenodd" d="M792 308l-2 0-2 0-12-18-14-25-3-5 1-4 4 0 6 0 14 5 6 1 6-1 14-5 8 0 2 1 1 3-5 9-14 23-10 16zM864 426l-19 0-5-20-6-14-4-4-4-2-16-2-20-1-30 2-2-1-6 2-4 2-4 6-6 8-2 4-5 20-13 0-1-4 5-22 6-12 4-14 5-6 2-10 4-8 5-2 8-3 10-2 14-2 10-4 12 4 16 3 8 4 8 6 4 8 2 6 5 6 11 29 4 4 4 3 0 16z"/>
<path fill="#faa45c" fill-rule="evenodd" d="M794 299l-4 0-4 0-6-7-16-25-3-7-1-2 1 0 5-1 6 1 4 2 3 2 3 6 4 16 2 2 2 1 2 0 2-3 4-16 4-6 4-4 4-1 6 0 4 1-1 2-1 5-10 15-8 13-6 6zM864 426l-17 0-5-20-7-14-4-6-3-1-18-3-20 0-30 2-2-1-6 2-4 2-6 5-5 8-2 6-5 16-2 4-9 0-1-4 4-20 12-28 4-5 1-9 5-8 4-3 12-4 6-2 14-1 10-4 12 4 14 3 10 4 8 7 4 8 2 5 3 7 15 31 2 2 4 3 0 14z"/>
<path fill="#fa9c4c" fill-rule="evenodd" d="M778 285l-4-5-8-10-3-8 0-2 3-1 5 1 3 2 2 2 3 6 2 8-1 5 0 1-2 1zM802 285l-2-1 0-1-1-5 2-8 3-6 2-2 3-2 5-1 3 1 0 2-3 8-8 10-4 5zM864 426l-16 0-4-22-7-12-5-7-10-2 0 0-12-2-20 0-32 2 0-1-10 3-8 7-6 12-6 18-1 2-1 2-6 0-1-6 3-16 13-28 3-6 1-8 5-10 4-3 14-4 18-3 10-2 12 3 14 2 18 11 3 8 2 8 19 36 2 4 4 2 0 12z"/>
<path fill="#fb943b" fill-rule="evenodd" d="M772 271l-2 0-2-4-2-3 0-1 4 0 2 2 1 3-1 3zM810 271l-2 0-1-1 0-2 0-2 3-3 4 0 0 3-4 5zM864 426l-15 0-4-24-6-12-7-7-22-2-20-1-32 2 0-1-12 3-7 8-7 10-6 20-2 2-2 0-2-2 0-2 2-13 17-35 1-10 4-9 6-4 16-4 14-2 10-2 26 5 17 10 3 8 2 8 19 38 3 4 4 2 0 10z"/>
<path fill="#fc8c2a" fill-rule="evenodd" d="M864 426l-14 0-3-22-3-10-2-4-4-4-4-5-10 0-2 0-12-1-20 0-32 1-2 0-10 1-11 10-7 10 0 0 2-6 3-6 4-12 3-4 0-10 4-10 4-3 18-5 14-2 10-2 24 5 6 2 13 9 3 8 0 9 4 3 3 10 5 6 10 19 2 3 4 3 0 7zM724 418l-2 0 0 0 0-6 6-10 0 0 0 6-4 10z"/>
<path fill="#fc841c" fill-rule="evenodd" d="M740 385l-2-1 0-2 2-5 1-1 0-10 1-6 3-6 5-3 16-5 24-3 24 4 6 3 12 8 3 8 0 6-1 5-1 1-3 2-6 0-2 0-12-1-20 0-32 2-2-1-6 1-6-1-4 5zM862 426l-10 0-2-12 0-6 1-2 3 2 6 10 4 2 0 4-1 2-1 0z"/>
<path fill="#fa7d14" fill-rule="evenodd" d="M766 380l-8 0-2-1-8 1-3-2-1-1-2-5-1-6 3-8 2-4 20-7 26-3 24 5 16 11 2 6 0 6 0 3-2 3-4 1-6 0-12-1-20 0-24 2zM860 426l-7 0-1-4 0-6 0-4 2-2 2 2 5 10 1 2-2 2z"/>
<path fill="#f9760c" fill-rule="evenodd" d="M772 379l-22 0-4-2-3-3-1-6 1-6 3-6 4-3 16-5 26-3 24 4 15 11 2 6 0 8-1 2-4 1-4 1-14-1-20 0-18 2zM860 426l-5 0-1-2-1-4 1-6 2 1 4 5 0 4 0 2z"/>
<path fill="#f76f05" fill-rule="evenodd" d="M758 379l-2-1-8 0-3-2-2-6 1-8 2-6 2-1 18-7 24-2 24 4 5 2 11 10 2 4 0 4-1 4-3 2-4 1-14 0-20 0-32 2zM858 425l-2 0-1-1 0-4 1-2 0 0 2 2 0 5z"/>
<path fill="#f26503" fill-rule="evenodd" d="M764 378l-14-1-2-1-2-2-2-2 0-6 1-4 2-6 5-2 14-5 26-2 22 4 16 11 1 4 0 4-1 4-6 3-34-1-26 2z"/>
<path fill="#ec5b02" fill-rule="evenodd" d="M772 377l-16 0 0-1-6 0-2-1-2-3-2-4 1-6 2-4 5-3 14-5 24-3 24 5 16 12-1 8-5 3-34 0-18 2z"/>
<path fill="#e75100" fill-rule="evenodd" d="M758 377l-8-2-3-3-2-6 1-6 2-3 2-1 18-6 22-2 24 4 10 8 5 6-1 4-4 4-34 0-32 3z"/>
<path fill="#df4600" fill-rule="evenodd" d="M766 376l-10 0-8-3-1-3-1-4 2-8 4-2 16-5 22-2 24 5 10 8 4 6-1 2-1 2-4 1-32 1-24 2z"/>
<path fill="#d73b00" fill-rule="evenodd" d="M774 375l-18 0-2-1-4 0-2-2-1-4 0-4 1-4 4-3 16-5 22-2 24 4 7 8 4 6-1 2-6 2-28 1-16 2z"/>
<path fill="#cf3000" fill-rule="evenodd" d="M778 374l-22 0-2-1-2 0-3-3-1-2-1-4 1-4 4-2 16-6 22-1 24 5 6 6 3 4-1 4-6 1-38 3z"/>
<path fill="#c42700" fill-rule="evenodd" d="M770 374l-14 0-4-2-2-2-2-2 1-8 3-2 16-5 22-1 24 5 4 5 2 4-1 2-5 2-24 2-20 2z"/>
<path fill="#b81f00" fill-rule="evenodd" d="M774 373l-20 0-2-2-2-3-1-2 0-4 3-3 16-5 22-1 22 5 3 2 2 4 0 2-1 2-6 2-20 1-16 2z"/>
<path fill="#ab1600" fill-rule="evenodd" d="M778 372l-10 0-14 0-4-4 0-6 2-2 16-6 22 0 22 5 3 5 0 2-5 3-20 1-12 2z"/>
<path fill="#9e1000" fill-rule="evenodd" d="M774 372l-8 0-12-1-3-3-1-6 12-6 6-1 4 0 18 0 17 5 6 2-1 4-2 1-36 5z"/>
<path fill="#900c00" fill-rule="evenodd" d="M776 371l-10 0-12-1-2-3-1-3 10-6 9-3 21 1 12 4 4 4-2 2-4 0-25 5z"/>
<path fill="#820800" fill-rule="evenodd" d="M772 371l-8 0-8-2-2-1-2-2 0-2 8-6 8-2 22 2 7 2 2 2-1 2-3 2-23 5z"/>
<path fill="#730400" fill-rule="evenodd" d="M774 370l-6 0-8-1-4-1-1-2 0-2 5-4 8-4 10 1 12 3 2 2 0 2-2 0-16 6z"/>
<path fill="#630300" fill-rule="evenodd" d="M772 370l-6 0-6-2-3-2 0-2 4-4 7-3 10 1 7 4 0 2-2 2-5 2-6 2z"/>
<path fill="#530100" fill-rule="evenodd" d="M774 369l-6 0-6-1-3-2-1-2 4-4 6-3 8 1 6 4 0 2-1 2-7 3z"/>
<path fill="#430000" fill-rule="evenodd" d="M770 369l-4-1-4-1-2-3 0-2 4-2 4-2 8 1 4 3 0 2-1 2-4 2-5 1z"/>
<path fill="#340000" fill-rule="evenodd" d="M772 368l-4 0-4-1-3-3 0-2 3-2 4-1 7 1 3 2 1 2-3 2-4 2z"/></g></g>
<rect x="221.1" y="55.2" width="223.6" height="87.4" fill="none" stroke="#2f8a2f" stroke-opacity="0.55" stroke-width="1.6"/>
<rect x="850" y="55.0" width="224" height="87.2" fill="none" stroke="#2f8a2f" stroke-opacity="0.55" stroke-width="1.6"/>
<line x1="221.1" y1="142.6" x2="430" y2="423.4" stroke="#239433" stroke-width="1.6"/>
<line x1="444.7" y1="55.2" x2="577.5" y2="235.4" stroke="#239433" stroke-width="1.6"/>
<line x1="850" y1="55.0" x2="717.5" y2="231.8" stroke="#239433" stroke-width="1.6"/>
<line x1="1074" y1="142.2" x2="861.7" y2="422.3" stroke="#239433" stroke-width="1.6"/>
<rect x="430.0" y="235.4" width="147.5" height="188.0" fill="none" stroke="#239433" stroke-width="2.2"/>
<rect x="717.5" y="231.8" width="144.2" height="190.5" fill="none" stroke="#239433" stroke-width="2.2"/>
<line x1="424.0" y1="252.3" x2="430.0" y2="252.3" stroke="#239433" stroke-width="1.8"/>
<text x="420.8" y="261.6" font-size="23.8" text-anchor="end" fill="#111" textLength="37.5" lengthAdjust="spacingAndGlyphs">0.0</text>
<line x1="424.0" y1="337.9" x2="430.0" y2="337.9" stroke="#239433" stroke-width="1.8"/>
<text x="420.8" y="347.2" font-size="23.8" text-anchor="end" fill="#111" textLength="37.5" lengthAdjust="spacingAndGlyphs">0.5</text>
<line x1="424.0" y1="423.4" x2="430.0" y2="423.4" stroke="#239433" stroke-width="1.8"/>
<text x="420.8" y="432.7" font-size="23.8" text-anchor="end" fill="#111" textLength="37.5" lengthAdjust="spacingAndGlyphs">1.0</text>
<line x1="444.7" y1="423.4" x2="444.7" y2="429.4" stroke="#239433" stroke-width="1.8"/>
<line x1="503.4" y1="423.4" x2="503.4" y2="429.4" stroke="#239433" stroke-width="1.8"/>
<line x1="562.1" y1="423.4" x2="562.1" y2="429.4" stroke="#239433" stroke-width="1.8"/>
<clipPath id="clipA"><rect x="87.0" y="44.0" width="491.5" height="418.0"/></clipPath>
<g clip-path="url(#clipA)">
<text x="420.5" y="457.1" font-size="23" text-anchor="start" fill="#111" textLength="47.5" lengthAdjust="spacingAndGlyphs">-0.2</text>
<text x="543.0" y="457.1" font-size="23" text-anchor="start" fill="#111" textLength="37.5" lengthAdjust="spacingAndGlyphs">0.2</text>
</g>
<line x1="861.7" y1="250.5" x2="867.7" y2="250.5" stroke="#239433" stroke-width="1.8"/>
<text x="879.9" y="259.8" font-size="23.8" text-anchor="start" fill="#111" textLength="37.5" lengthAdjust="spacingAndGlyphs">0.0</text>
<line x1="861.7" y1="336.5" x2="867.7" y2="336.5" stroke="#239433" stroke-width="1.8"/>
<text x="879.9" y="345.8" font-size="23.8" text-anchor="start" fill="#111" textLength="37.5" lengthAdjust="spacingAndGlyphs">0.5</text>
<line x1="861.7" y1="422.5" x2="867.7" y2="422.5" stroke="#239433" stroke-width="1.8"/>
<text x="879.9" y="431.8" font-size="23.8" text-anchor="start" fill="#111" textLength="37.5" lengthAdjust="spacingAndGlyphs">1.0</text>
<line x1="731.6" y1="422.3" x2="731.6" y2="428.3" stroke="#239433" stroke-width="1.8"/>
<line x1="789.9" y1="422.3" x2="789.9" y2="428.3" stroke="#239433" stroke-width="1.8"/>
<line x1="848.2" y1="422.3" x2="848.2" y2="428.3" stroke="#239433" stroke-width="1.8"/>
<text x="708.5" y="456.5" font-size="23" text-anchor="start" fill="#111" textLength="47.5" lengthAdjust="spacingAndGlyphs">-0.2</text>
<text x="828.5" y="456.5" font-size="23" text-anchor="start" fill="#111" textLength="37.5" lengthAdjust="spacingAndGlyphs">0.2</text>
<line x1="507" y1="302.1" x2="606" y2="302.1" stroke="#f29ab6" stroke-width="1.3" stroke-dasharray="5,5.3"/>
<line x1="608" y1="322.6" x2="787" y2="322.6" stroke="#f29ab6" stroke-width="1.3" stroke-dasharray="5,5.3"/>
<circle cx="503.4" cy="303.3" r="3.3" fill="#e8206a"/>
<circle cx="790.4" cy="322.3" r="3.3" fill="#e8206a"/>
<line x1="607.2" y1="306" x2="607.2" y2="318.5" stroke="#e8206a" stroke-width="1.4"/>
<path d="M607.2,302.4 L611.6,310.2 L607.2,308.2 L602.8,310.2 Z M607.2,322 L611.6,313.6 L607.2,315.8 L602.8,313.6 Z" fill="#e8206a"/>
<text x="616.5" y="318.5" font-size="28" text-anchor="start" textLength="90" lengthAdjust="spacingAndGlyphs">0.12 eV</text>
<rect x="87.0" y="44.0" width="491.5" height="418.0" fill="none" stroke="#111" stroke-width="2"/>
<rect x="716.0" y="43.5" width="491.5" height="418.5" fill="none" stroke="#111" stroke-width="2"/>
<line x1="77.5" y1="63.0" x2="87.0" y2="63.0" stroke="#111" stroke-width="2"/>
<text x="72.5" y="73.3" font-size="29" text-anchor="end" >0</text>
<line x1="1207.5" y1="63.0" x2="1217.5" y2="63.0" stroke="#111" stroke-width="2"/>
<text x="1234.5" y="73.3" font-size="29" text-anchor="start" >0</text>
<line x1="77.5" y1="142.8" x2="87.0" y2="142.8" stroke="#111" stroke-width="2"/>
<text x="72.5" y="153.1" font-size="29" text-anchor="end" >1</text>
<line x1="1207.5" y1="142.8" x2="1217.5" y2="142.8" stroke="#111" stroke-width="2"/>
<text x="1234.5" y="153.1" font-size="29" text-anchor="start" >1</text>
<line x1="77.5" y1="222.6" x2="87.0" y2="222.6" stroke="#111" stroke-width="2"/>
<text x="72.5" y="232.9" font-size="29" text-anchor="end" >2</text>
<line x1="1207.5" y1="222.6" x2="1217.5" y2="222.6" stroke="#111" stroke-width="2"/>
<text x="1234.5" y="232.9" font-size="29" text-anchor="start" >2</text>
<line x1="77.5" y1="302.4" x2="87.0" y2="302.4" stroke="#111" stroke-width="2"/>
<text x="72.5" y="312.7" font-size="29" text-anchor="end" >3</text>
<line x1="1207.5" y1="302.4" x2="1217.5" y2="302.4" stroke="#111" stroke-width="2"/>
<text x="1234.5" y="312.7" font-size="29" text-anchor="start" >3</text>
<line x1="77.5" y1="382.2" x2="87.0" y2="382.2" stroke="#111" stroke-width="2"/>
<text x="72.5" y="392.5" font-size="29" text-anchor="end" >4</text>
<line x1="1207.5" y1="382.2" x2="1217.5" y2="382.2" stroke="#111" stroke-width="2"/>
<text x="1234.5" y="392.5" font-size="29" text-anchor="start" >4</text>
<line x1="77.5" y1="462.0" x2="87.0" y2="462.0" stroke="#111" stroke-width="2"/>
<text x="72.5" y="472.3" font-size="29" text-anchor="end" >5</text>
<line x1="1207.5" y1="462.0" x2="1217.5" y2="462.0" stroke="#111" stroke-width="2"/>
<text x="1234.5" y="472.3" font-size="29" text-anchor="start" >5</text>
<line x1="153.8" y1="462.0" x2="153.8" y2="471" stroke="#111" stroke-width="2"/>
<text x="152.3" y="508.2" font-size="29" text-anchor="middle" >-0.4</text>
<line x1="782.7" y1="462.0" x2="782.7" y2="471" stroke="#111" stroke-width="2"/>
<text x="781.2" y="506.5" font-size="29" text-anchor="middle" >-0.4</text>
<line x1="243.2" y1="462.0" x2="243.2" y2="471" stroke="#111" stroke-width="2"/>
<text x="241.7" y="508.2" font-size="29" text-anchor="middle" >-0.2</text>
<line x1="872.2" y1="462.0" x2="872.2" y2="471" stroke="#111" stroke-width="2"/>
<text x="870.7" y="506.5" font-size="29" text-anchor="middle" >-0.2</text>
<line x1="332.6" y1="462.0" x2="332.6" y2="471" stroke="#111" stroke-width="2"/>
<text x="332.6" y="508.2" font-size="29" text-anchor="middle" >0.0</text>
<line x1="961.7" y1="462.0" x2="961.7" y2="471" stroke="#111" stroke-width="2"/>
<text x="961.7" y="506.5" font-size="29" text-anchor="middle" >0.0</text>
<line x1="422.0" y1="462.0" x2="422.0" y2="471" stroke="#111" stroke-width="2"/>
<text x="422.0" y="508.2" font-size="29" text-anchor="middle" >0.2</text>
<line x1="1051.2" y1="462.0" x2="1051.2" y2="471" stroke="#111" stroke-width="2"/>
<text x="1051.2" y="506.5" font-size="29" text-anchor="middle" >0.2</text>
<line x1="511.4" y1="462.0" x2="511.4" y2="471" stroke="#111" stroke-width="2"/>
<text x="511.4" y="508.2" font-size="29" text-anchor="middle" >0.4</text>
<line x1="1140.7" y1="462.0" x2="1140.7" y2="471" stroke="#111" stroke-width="2"/>
<text x="1140.7" y="506.5" font-size="29" text-anchor="middle" >0.4</text>
<text x="293.5" y="545.4" font-size="30.5">k</text>
<text x="315.5" y="545.4" font-size="30.5">(Å</text>
<text x="344.0" y="522.3" font-size="20.5">-1</text>
<text x="363.2" y="545.4" font-size="30.5">)</text>
<text x="917.9" y="546.6" font-size="30.5">k</text>
<text x="939.9" y="546.6" font-size="30.5">(Å</text>
<text x="968.4" y="523.5" font-size="20.5">-1</text>
<text x="987.6" y="546.6" font-size="30.5">)</text>
<text transform="translate(25.6,304) rotate(-90)" font-size="31" textLength="102.5" lengthAdjust="spacingAndGlyphs">E<tspan font-size="23" dy="6.5">bin</tspan><tspan dy="-6.5"> (eV)</tspan></text>
<text transform="translate(1271.0,192.5) rotate(90)" font-size="35" textLength="120" lengthAdjust="spacingAndGlyphs">E<tspan font-size="26" dy="7.5">bin</tspan><tspan dy="-7.5"> (eV)</tspan></text>
<text x="11.5" y="40.5" font-size="48" text-anchor="start" >a</text>
<text x="655.5" y="40.5" font-size="48" text-anchor="start" >b</text>
<text x="4.5" y="656.5" font-size="48" text-anchor="start" >c</text>
<text x="655.5" y="656.5" font-size="48" text-anchor="start" >d</text>
<path d="M60.5 674.6l2.5 0.2 2.5-0.1 2.5-0.1 2.5 0.4 2.5 0.2 2.5-0.2 2.5 0 2.5 0 2.5 0.3 2.5 0.5 2.5 0.6 2.5 0.6 2.5 0.8 2.5 0.5 2.5 0.1 2.5 0 2.5 0.9 2.5 0.9 2.5 0.5 2.5 0.2 2.5 0.5 2.5 0.5 2.5 0.6 2.5 0.8 2.5 0.1 2.5 0.4 2.5 0.4 2.5-0.1 2.5 0.1 2.5 0 2.5-0.2 2.5-0.4 2.5 0.1 2.5-0.1 2.5-0.7 2.5-0.2 2.5-0.5 2.5-0.4 2.5 0.1 2.5-0.8 2.5-1.1 2.5-0.2 2.5-0.2 2.5-0.5 2.5-0.2 2.5-0.3 2.5-0.1 2.5-0.1 2.5-0.6 2.5-0.2 2.5-0.1 2.5-0.1 2.5-0.2 2.5 0.2 2.5 0.6 2.5 0.6 2.5 0.2 2.5-0.3 2.5 0.3 2.5 0.6 2.5 0.1 2.5 0.8 2.5 1.1 2.5 1.1 2.5 0.5 2.5 0.4 2.5 0.6 2.5 1 2.5 1.1 2.5 0.4 2.5 0.6 2.5 0.9 2.5 0.5 2.5 0.5 2.5 0.4 2.5 0.7 2.5 0.8 2.5 0.8 2.5 0.4 2.5 0.1 2.5 0.4 2.5 0.2 2.5 0.4 2.5 0.1 2.5 0 2.5-0.1 2.5 0.1 2.5-0.4 2.5 0 2.5 0.5 2.5 0.3 2.5 0.7 2.5 0.4 2.5-0.6 2.5-0.2 2.5 0.3 2.5 0.2 2.5-0.1 2.5 0 2.5 0.3 2.5-0.2 2.5-0.3 2.5 0.1 2.5 0 2.5-0.1 2.5 0.1 2.5 0.1 2.5 0.3 2.5 0 2.5-0.2 2.5-0.2 2.5-0.2 2.5-0.4 2.5 0.2 2.5 0.2 2.5-0.2 2.5 0.3 2.5-0.1 2.5 0.3 2.5 0 2.5 0.2 2.5-0.2 2.5-0.2 2.5 0.7 2.5 0.2 2.5-0.4 2.5-0.3 2.5-0.1 2.5 0 2.5 0.3 2.5-0.2 2.5-0.1 2.5-0.2 2.5-0.1 2.5 0.2 2.5 0.5 2.5 0 2.5 0.1 2.5-0.3 2.5-0.3 2.5 0 2.5 0 2.5 0.1 2.5 0 2.5-0.2 2.5-0.2 2.5 0.4 2.5 0.5 2.5-0.4 2.5-0.3 2.5 0.5 2.5 0.2 2.5-0.6 2.5-0.1 2.5-0.1 2.5-0.1 2.5 0.6 2.5 0.1 2.5-0.2 2.5-0.1 2.5 0.2 2.5-0.2 2.5-0.1 2.5-0.2 2.5 0.1 2.5 0.6 2.5-0.1 2.5-0.1 2.5 0 2.5-0.2 2.5 0.1 2.5 0.2 2.5-0.1 2.5-0.1 2.5 0.3 2.5 0.3 2.5-0.1 2.5-0.3 2.5-0.4 2.5-0.1 2.5 0.6 2.5 0.2 2.5-0.2 2 0.1 M60.5 686.2l2.5 0 2.5 0.1 2.5-0.2 2.5 0 2.5 0.3 2.5 0.1 2.5 0.2 2.5 0.7 2.5 0.4 2.5 0.2 2.5 0 2.5 0.3 2.5 0.3 2.5 0.5 2.5 0.6 2.5 0.5 2.5 0.7 2.5 0.7 2.5 0.5 2.5 0 2.5 0.5 2.5 0.4 2.5 0.1 2.5 0.1 2.5 0.5 2.5 0.6 2.5 0.1 2.5 0 2.5 0.2 2.5 0.1 2.5-0.5 2.5-0.7 2.5-0.3 2.5-0.7 2.5-0.5 2.5 0.4 2.5 0.2 2.5-0.7 2.5-0.9 2.5-0.4 2.5 0 2.5-0.5 2.5-0.6 2.5-0.4 2.5-0.3 2.5-0.2 2.5-0.3 2.5-0.6 2.5-0.4 2.5 0 2.5-0.1 2.5 0 2.5-0.3 2.5 0.1 2.5 0.2 2.5 0.2 2.5 0.8 2.5 0.4 2.5 0 2.5 0.4 2.5 0.2 2.5 0.1 2.5 0.9 2.5 0.9 2.5 0.6 2.5 0.5 2.5 0.9 2.5 1.1 2.5 1 2.5 0.8 2.5 0.7 2.5 0.9 2.5 0.3 2.5 0.3 2.5 0.7 2.5 1.3 2.5 0.7 2.5 0.4 2.5 0.3 2.5 0.3 2.5 0.2 2.5 0.2 2.5 0.3 2.5 0.5 2.5 0.6 2.5 0 2.5-0.2 2.5 0 2.5 0.3 2.5 0.6 2.5 0 2.5-0.2 2.5-0.2 2.5-0.1 2.5 0.4 2.5 0.3 2.5-0.2 2.5-0.1 2.5 0.1 2.5-0.1 2.5-0.2 2.5 0.1 2.5 0.2 2.5 0.2 2.5 0 2.5 0.3 2.5 0.1 2.5-0.3 2.5-0.2 2.5 0.1 2.5-0.1 2.5-0.1 2.5 0.5 2.5 0.3 2.5-0.4 2.5-0.4 2.5 0 2.5 0 2.5-0.2 2.5 0.1 2.5 0.4 2.5 0 2.5 0.3 2.5 0.2 2.5-0.2 2.5 0.1 2.5 0.1 2.5-0.5 2.5-0.4 2.5-0.1 2.5 0.4 2.5 0.5 2.5-0.2 2.5-0.5 2.5-0.2 2.5 0.2 2.5 0.2 2.5 0 2.5 0.1 2.5 0 2.5-0.2 2.5 0.1 2.5 0 2.5 0.1 2.5 0.3 2.5 0.2 2.5-0.2 2.5-0.5 2.5-0.3 2.5 0.1 2.5-0.3 2.5 0.1 2.5 0.7 2.5 0.1 2.5-0.4 2.5-0.4 2.5 0.2 2.5 0.2 2.5 0.5 2.5 0.3 2.5-0.4 2.5-0.6 2.5-0.1 2.5 0.2 2.5 0 2.5-0.1 2.5 0.1 2.5 0.1 2.5 0.5 2.5 0.2 2.5-0.2 2.5-0.3 2.5 0 2.5-0.1 2.5-0.1 2.5-0.2 2.5-0.2 2.5 0.1 2.5 0.4 2.5 0.1 2.5 0.1 2.5-0.1 2.5-0.5 2 0.1 M60.5 697.6l2.5-0.2 2.5 0.4 2.5 0.4 2.5-0.1 2.5 0.4 2.5 0.1 2.5-0.3 2.5 0.2 2.5 0.3 2.5 0.4 2.5 0.1 2.5 0.2 2.5 0.3 2.5 0.2 2.5 0.4 2.5 0.8 2.5 0.5 2.5 0 2.5 0.4 2.5 0.4 2.5 0.4 2.5 0.7 2.5 0.4 2.5 0.4 2.5-0.1 2.5 0.2 2.5 0 2.5 0 2.5 0.3 2.5 0 2.5-0.1 2.5-0.4 2.5-0.5 2.5-0.1 2.5-0.1 2.5-0.4 2.5-0.8 2.5-0.6 2.5-0.6 2.5-0.3 2.5-0.8 2.5-0.6 2.5 0 2.5-0.2 2.5-1 2.5-0.6 2.5-0.3 2.5-0.2 2.5 0 2.5-0.4 2.5-0.1 2.5 0.1 2.5-0.2 2.5 0 2.5-0.3 2.5-0.2 2.5 0.5 2.5 1 2.5 0.2 2.5 0.3 2.5 0.4 2.5 0.6 2.5 0.8 2.5 0.8 2.5-0.1 2.5 0.3 2.5 0.8 2.5 1.1 2.5 1.4 2.5 0.8 2.5 0.3 2.5 0.5 2.5 1.2 2.5 0.9 2.5 0 2.5 0.9 2.5 0.8 2.5 0.7 2.5 0.3 2.5 0.2 2.5 0.2 2.5 0.7 2.5 1.1 2.5 0.3 2.5-0.3 2.5-0.2 2.5 0 2.5 0.6 2.5 0.4 2.5 0.2 2.5 0 2.5 0 2.5 0.3 2.5 0.4 2.5 0.6 2.5 0.1 2.5-0.6 2.5-0.3 2.5 0.1 2.5-0.1 2.5 0 2.5 0.1 2.5 0 2.5 0.3 2.5 0.1 2.5 0 2.5-0.2 2.5-0.2 2.5-0.1 2.5 0.2 2.5 0.1 2.5 0.1 2.5-0.1 2.5-0.3 2.5 0.1 2.5-0.2 2.5 0.1 2.5 0 2.5-0.2 2.5 0.4 2.5 0.3 2.5-0.1 2.5-0.2 2.5-0.1 2.5-0.1 2.5 0.1 2.5 0.1 2.5 0 2.5-0.1 2.5 0.2 2.5 0.1 2.5-0.1 2.5 0 2.5 0 2.5-0.3 2.5 0.3 2.5 0.2 2.5 0 2.5-0.1 2.5-0.2 2.5 0.1 2.5 0.3 2.5 0 2.5-0.3 2.5-0.3 2.5 0.5 2.5 0.5 2.5-0.1 2.5-0.5 2.5-0.3 2.5 0.4 2.5-0.3 2.5-0.5 2.5 0.3 2.5-0.2 2.5 0 2.5 0.5 2.5 0.4 2.5-0.1 2.5 0.2 2.5 0.5 2.5-0.1 2.5-0.5 2.5-0.5 2.5-0.2 2.5 0.2 2.5 0.4 2.5 0.1 2.5 0 2.5 0 2.5-0.3 2.5 0.1 2.5 0.3 2.5 0.2 2.5 0 2.5-0.3 2.5-0.2 2.5-0.1 2.5-0.4 2.5-0.1 2.5 0.5 2.5 0.2 2.5-0.3 2-0.4 M60.5 709.4l2.5 0.5 2.5 0.2 2.5-0.3 2.5-0.1 2.5 0.3 2.5 0.3 2.5 0.1 2.5 0.1 2.5-0.2 2.5 0.2 2.5 0.4 2.5 0.5 2.5 0.1 2.5-0.2 2.5 0.3 2.5 0.5 2.5 0.1 2.5 0.3 2.5 0.8 2.5 0.4 2.5 0.2 2.5 0.2 2.5 0.4 2.5 0.2 2.5 0.1 2.5-0.2 2.5 0.1 2.5 0.2 2.5 0 2.5 0.1 2.5-0.2 2.5-0.4 2.5-0.1 2.5-0.2 2.5-0.2 2.5-0.6 2.5-0.4 2.5 0.1 2.5 0 2.5-0.7 2.5-1 2.5-0.5 2.5-0.4 2.5-0.8 2.5-0.8 2.5-0.2 2.5-0.4 2.5-0.8 2.5-0.6 2.5-0.2 2.5 0.1 2.5-0.2 2.5-0.1 2.5 0 2.5 0.1 2.5-0.1 2.5 0.1 2.5-0.1 2.5 0.2 2.5 0.5 2.5 0.7 2.5 0.4 2.5 0.3 2.5 0.6 2.5 0.8 2.5 0.8 2.5 0.3 2.5 0.8 2.5 1.3 2.5 1.5 2.5 0.7 2.5 0.4 2.5 1 2.5 0.9 2.5 0.3 2.5 0.6 2.5 0.9 2.5 0.6 2.5 0.4 2.5 0.5 2.5 0.9 2.5 0.5 2.5 0.1 2.5 0 2.5-0.1 2.5 0.5 2.5 0.4 2.5 0.4 2.5 0.2 2.5-0.2 2.5-0.1 2.5 0.4 2.5 0.1 2.5 0.1 2.5 0 2.5 0 2.5 0 2.5 0.6 2.5 0.3 2.5 0.3 2.5 0.1 2.5-0.6 2.5-0.5 2.5 0 2.5 0.1 2.5 0.2 2.5 0 2.5-0.2 2.5 0.2 2.5 0 2.5 0.2 2.5 0.1 2.5-0.1 2.5 0 2.5-0.1 2.5-0.2 2.5-0.1 2.5 0.5 2.5 0.7 2.5 0.2 2.5-0.3 2.5-0.3 2.5-0.3 2.5 0.2 2.5-0.1 2.5-0.2 2.5-0.1 2.5 0 2.5-0.1 2.5-0.1 2.5-0.1 2.5 0.3 2.5 0.5 2.5-0.3 2.5-0.2 2.5 0.1 2.5-0.1 2.5-0.3 2.5 0.1 2.5 0.3 2.5 0 2.5 0 2.5 0.1 2.5-0.3 2.5-0.1 2.5 0.1 2.5 0.1 2.5-0.4 2.5 0 2.5 0.3 2.5 0.4 2.5 0.2 2.5-0.1 2.5-0.4 2.5 0.2 2.5-0.1 2.5 0 2.5 0.1 2.5-0.4 2.5-0.2 2.5 0.1 2.5 0 2.5 0.3 2.5 0.3 2.5 0.2 2.5 0.2 2.5-0.5 2.5-0.4 2.5 0 2.5 0 2.5 0.1 2.5 0.2 2.5-0.2 2.5-0.1 2.5 0.4 2.5 0.1 2.5 0.1 2.5 0 2.5 0 2.5 0.1 2.5 0.1 2.5 0 2.5-0.2 2-0.2 M60.5 720.5l2.5 0.2 2.5 0.2 2.5-0.2 2.5 0.1 2.5 0.2 2.5-0.1 2.5 0 2.5 0.1 2.5-0.2 2.5 0.3 2.5 0.6 2.5 0.4 2.5 0 2.5 0 2.5 0.5 2.5 0.7 2.5 0.3 2.5 0 2.5 0.1 2.5 0.4 2.5 0 2.5 0 2.5 0.4 2.5 0.8 2.5 0.1 2.5 0.1 2.5-0.1 2.5 0 2.5-0.2 2.5 0.2 2.5 0.4 2.5-0.4 2.5-0.8 2.5-0.2 2.5-0.1 2.5-0.3 2.5-0.9 2.5-0.8 2.5-0.2 2.5-0.2 2.5-0.2 2.5-0.3 2.5-0.6 2.5-0.7 2.5-0.7 2.5 0 2.5-0.1 2.5-0.7 2.5-0.8 2.5-0.3 2.5-0.2 2.5-0.8 2.5-0.3 2.5 0.1 2.5-0.1 2.5-0.2 2.5 0 2.5 0 2.5 0.2 2.5 0.2 2.5 0.2 2.5 0.7 2.5 0.6 2.5 0.3 2.5 0.7 2.5 0.8 2.5 0.6 2.5 0.8 2.5 0.9 2.5 1.4 2.5 1.4 2.5 0.6 2.5 0.3 2.5 0.7 2.5 0.7 2.5 0.8 2.5 0.7 2.5 0.3 2.5 0.8 2.5 0.7 2.5 0.6 2.5 0.2 2.5 0.2 2.5 0.6 2.5 0.5 2.5 0.3 2.5 0.1 2.5-0.1 2.5 0.1 2.5 0.8 2.5 0.4 2.5 0 2.5 0.2 2.5 0.2 2.5-0.2 2.5-0.1 2.5 0.4 2.5 0.2 2.5-0.2 2.5 0.3 2.5-0.2 2.5-0.1 2.5 0.5 2.5-0.2 2.5-0.3 2.5 0.2 2.5 0.5 2.5 0.1 2.5-0.3 2.5 0.1 2.5 0 2.5-0.2 2.5 0 2.5 0 2.5-0.2 2.5 0 2.5 0.1 2.5 0 2.5-0.1 2.5 0.1 2.5 0.3 2.5 0.1 2.5 0.1 2.5 0 2.5 0.1 2.5 0 2.5-0.6 2.5 0 2.5 0.1 2.5 0.4 2.5-0.3 2.5-1 2.5 0 2.5 0.5 2.5 0.2 2.5-0.1 2.5-0.2 2.5 0.1 2.5 0 2.5-0.1 2.5-0.2 2.5-0.4 2.5 0.2 2.5 0.1 2.5 0.3 2.5-0.1 2.5-0.1 2.5 0.1 2.5-0.1 2.5-0.2 2.5 0.1 2.5 0.5 2.5 0.5 2.5 0.1 2.5 0 2.5 0 2.5-0.1 2.5 0 2.5 0.2 2.5 0 2.5-0.3 2.5-0.1 2.5 0 2.5 0 2.5 0 2.5 0.2 2.5 0 2.5-0.1 2.5-0.1 2.5 0.1 2.5 0.1 2.5 0.1 2.5 0.4 2.5 0 2.5 0.1 2.5-0.3 2.5-0.5 2.5 0 2.5 0.2 2.5 0 2.5-0.1 2.5-0.3 2.5-0.3 2 0 M60.5 732.5l2.5-0.2 2.5-0.1 2.5 0.2 2.5 0.1 2.5 0.2 2.5 0.1 2.5 0.1 2.5-0.5 2.5 0.3 2.5 0.4 2.5-0.1 2.5 0 2.5 0.1 2.5 0.2 2.5 0.6 2.5 0.8 2.5-0.1 2.5-0.5 2.5 0 2.5 0.5 2.5 0.4 2.5-0.1 2.5 0.1 2.5 0.5 2.5 0.2 2.5-0.4 2.5-0.3 2.5-0.1 2.5 0 2.5-0.1 2.5 0.4 2.5-0.1 2.5 0.1 2.5 0.1 2.5-0.5 2.5-0.7 2.5-0.2 2.5-0.3 2.5-0.9 2.5-0.6 2.5-0.5 2.5-0.4 2.5-0.3 2.5-1 2.5-0.6 2.5-0.1 2.5-0.4 2.5-0.4 2.5-0.4 2.5-0.5 2.5-0.5 2.5-0.8 2.5-0.2 2.5-0.2 2.5 0 2.5-0.2 2.5-0.3 2.5 0.1 2.5 0.4 2.5 0.2 2.5 0.3 2.5 0.9 2.5 0.4 2.5-0.1 2.5 0.8 2.5 1.2 2.5 0.5 2.5 0.4 2.5 0.5 2.5 0.8 2.5 0.8 2.5 0.9 2.5 1 2.5 0.7 2.5 0.5 2.5 0.7 2.5 0.8 2.5 0.7 2.5 0.9 2.5 0.9 2.5 0.6 2.5 0.5 2.5 0.4 2.5 0.3 2.5 0.3 2.5 0.4 2.5 0.5 2.5 0.2 2.5 0.5 2.5 0.1 2.5 0 2.5 0.1 2.5 0.3 2.5 0.3 2.5 0.2 2.5 0.2 2.5-0.3 2.5-0.3 2.5 0.1 2.5 0.2 2.5 0.6 2.5 0.4 2.5-0.1 2.5-0.4 2.5 0.2 2.5 0.5 2.5 0 2.5-0.1 2.5 0.4 2.5 0.3 2.5-0.2 2.5-0.4 2.5-0.1 2.5-0.1 2.5-0.3 2.5-0.2 2.5 0.1 2.5 0 2.5 0.1 2.5 0.4 2.5 0.2 2.5-0.5 2.5-0.2 2.5 0 2.5 0.2 2.5 0 2.5-0.5 2.5-0.4 2.5-0.2 2.5 0.2 2.5 0.3 2.5-0.2 2.5-0.3 2.5 0 2.5 0.2 2.5-0.1 2.5-0.2 2.5-0.3 2.5-0.3 2.5 0.3 2.5 0.3 2.5-0.4 2.5 0.1 2.5 0.3 2.5-0.1 2.5 0.1 2.5 0.2 2.5 0.2 2.5-0.1 2.5-0.1 2.5 0.3 2.5 0.2 2.5 0.2 2.5 0.4 2.5 0.3 2.5 0 2.5-0.1 2.5 0.3 2.5 0.2 2.5 0 2.5-0.1 2.5-0.3 2.5-0.1 2.5 0 2.5-0.3 2.5 0.1 2.5 0 2.5-0.2 2.5-0.2 2.5 0.1 2.5 0.4 2.5 0.4 2.5 0 2.5-0.3 2.5-0.2 2.5 0 2.5 0.1 2.5 0.1 2.5 0.3 2.5 0.1 2.5-0.4 2.5-0.5 2.5-0.1 2-0.1 M60.5 743.9l2.5-0.2 2.5 0 2.5 0.5 2.5 0 2.5 0 2.5 0.2 2.5 0 2.5-0.3 2.5-0.5 2.5 0.2 2.5 0.3 2.5 0.1 2.5 0.5 2.5 0.2 2.5-0.1 2.5 0.1 2.5 0.5 2.5-0.2 2.5-0.1 2.5 0.3 2.5 0.2 2.5 0 2.5 0.2 2.5-0.1 2.5 0 2.5 0.3 2.5 0.1 2.5-0.2 2.5 0 2.5 0.2 2.5 0.2 2.5-0.5 2.5-0.2 2.5-0.4 2.5-0.4 2.5-0.1 2.5-0.2 2.5-0.4 2.5-0.7 2.5-0.8 2.5-0.4 2.5-0.3 2.5-0.3 2.5-0.5 2.5-0.6 2.5-0.5 2.5-0.6 2.5-1.1 2.5-1.1 2.5-0.7 2.5-0.3 2.5 0 2.5-0.5 2.5-0.3 2.5-0.2 2.5-0.1 2.5-0.4 2.5-0.5 2.5-0.1 2.5 0.1 2.5 0.2 2.5 0.2 2.5 0.5 2.5 0.6 2.5 0.1 2.5 0.6 2.5 0.8 2.5 0.9 2.5 1 2.5 0.8 2.5 0.7 2.5 0.7 2.5 1.1 2.5 0.8 2.5 0.9 2.5 0.6 2.5 0.3 2.5 1 2.5 1.3 2.5 1 2.5 0.5 2.5 0.3 2.5 0.5 2.5 1.1 2.5 0.7 2.5 0.1 2.5 0 2.5 0.3 2.5 1 2.5 0.8 2.5 0.1 2.5 0.2 2.5-0.1 2.5 0 2.5 0.4 2.5-0.1 2.5 0.2 2.5 0.4 2.5 0.2 2.5 0.1 2.5-0.1 2.5-0.3 2.5 0 2.5 0.2 2.5-0.1 2.5-0.1 2.5 0 2.5 0.1 2.5-0.2 2.5 0 2.5 0.1 2.5 0.5 2.5 0.4 2.5 0 2.5-0.6 2.5 0 2.5 0.3 2.5-0.1 2.5 0 2.5 0.2 2.5-0.4 2.5-0.5 2.5 0 2.5 0.2 2.5-0.1 2.5-0.4 2.5 0 2.5 0.2 2.5 0 2.5-0.3 2.5 0 2.5-0.2 2.5-0.5 2.5 0 2.5 0.1 2.5-0.4 2.5-0.4 2.5 0.3 2.5 0.4 2.5-0.1 2.5-0.3 2.5 0.4 2.5-0.2 2.5 0.2 2.5 0.4 2.5 0 2.5-0.1 2.5-0.1 2.5 0.4 2.5-0.1 2.5 0.3 2.5 1 2.5 0.4 2.5 0 2.5-0.2 2.5 0.4 2.5 0.3 2.5-0.1 2.5-0.5 2.5-0.3 2.5-0.1 2.5-0.4 2.5 0.1 2.5 0.4 2.5 0 2.5 0.2 2.5 0.3 2.5 0.4 2.5-0.1 2.5-0.2 2.5-0.1 2.5-0.3 2.5 0 2.5 0.1 2.5-0.2 2.5-0.1 2.5 0 2.5 0.4 2.5 0.2 2.5-0.3 2.5-0.1 2.5-0.2 2.5-0.2 2 0.3 M60.5 754.7l2.5 0.2 2.5 0.6 2.5 0.3 2.5-0.2 2.5-0.1 2.5 0 2.5-0.2 2.5 0.2 2.5-0.4 2.5-0.1 2.5 1.1 2.5 0.1 2.5-0.5 2.5 0 2.5 0.1 2.5-0.1 2.5-0.2 2.5 0.3 2.5 0.4 2.5 0.3 2.5 0.1 2.5 0.2 2.5 0.1 2.5-0.4 2.5-0.3 2.5-0.4 2.5 0.2 2.5 0.4 2.5-0.2 2.5 0 2.5-0.3 2.5-0.4 2.5-0.1 2.5-0.2 2.5-0.1 2.5 0 2.5-0.4 2.5-0.7 2.5-0.6 2.5-0.2 2.5-0.3 2.5-0.1 2.5-0.2 2.5-1 2.5-1.1 2.5-0.9 2.5-0.9 2.5-0.8 2.5-0.6 2.5-0.6 2.5-0.4 2.5-0.5 2.5-0.8 2.5-0.7 2.5-0.5 2.5 0.1 2.5-0.2 2.5-0.2 2.5-0.2 2.5-0.2 2.5-0.2 2.5 0.4 2.5 0.5 2.5-0.1 2.5 0.7 2.5 0.8 2.5 0.4 2.5 0.7 2.5 0.7 2.5 0.5 2.5 0.8 2.5 0.7 2.5 0.8 2.5 1 2.5 1.1 2.5 1 2.5 0.8 2.5 0.8 2.5 1.4 2.5 0.9 2.5 0.5 2.5 0.4 2.5 0.7 2.5 0.8 2.5 0.4 2.5 0.3 2.5 1.2 2.5 0.8 2.5-0.2 2.5 0.5 2.5 0.5 2.5 0.3 2.5 0.4 2.5 0 2.5 0.4 2.5 0.5 2.5-0.1 2.5 0 2.5 0.2 2.5 0.3 2.5 0.3 2.5-0.1 2.5 0 2.5-0.1 2.5 0.2 2.5-0.2 2.5-0.4 2.5 0.3 2.5 0.1 2.5 0.3 2.5 0.3 2.5-0.5 2.5 0 2.5 0.5 2.5 0.1 2.5 0 2.5-0.3 2.5-0.4 2.5 0.2 2.5 0.3 2.5-0.1 2.5-0.4 2.5-0.2 2.5-0.2 2.5 0 2.5 0.2 2.5-0.5 2.5-0.6 2.5 0 2.5 0.2 2.5-0.2 2.5-0.5 2.5-0.3 2.5-0.3 2.5-0.5 2.5 0 2.5 0.3 2.5-0.1 2.5 0.1 2.5 0.2 2.5-0.2 2.5 0 2.5 0.4 2.5-0.2 2.5-0.1 2.5 0.3 2.5 0.2 2.5 0 2.5 0.4 2.5 0.2 2.5 0.1 2.5 0.6 2.5 0.4 2.5 0.1 2.5 0 2.5 0.4 2.5 0.3 2.5 0 2.5 0 2.5 0.1 2.5-0.1 2.5 0.2 2.5 0.3 2.5-0.3 2.5 0 2.5 0.2 2.5-0.2 2.5 0 2.5 0.2 2.5-0.1 2.5-0.6 2.5-0.1 2.5 0.1 2.5 0 2.5 0.1 2.5 0.1 2.5 0.2 2.5 0 2.5 0.1 2.5 0.1 2.5-0.2 2.5 0.3 2.5 0.3 2-0.2 M60.5 767.1l2.5-0.1 2.5 0 2.5-0.2 2.5-0.3 2.5-0.3 2.5 0.1 2.5 0.1 2.5-0.2 2.5-0.1 2.5 0.4 2.5 0.1 2.5-0.1 2.5 0.1 2.5 0.1 2.5 0 2.5-0.3 2.5 0.1 2.5 0.3 2.5 0.1 2.5-0.2 2.5-0.1 2.5 0 2.5 0.3 2.5 0.2 2.5-0.2 2.5 0.3 2.5-0.1 2.5-0.3 2.5-0.2 2.5-0.6 2.5-0.4 2.5 0 2.5 0.1 2.5-0.1 2.5-0.2 2.5-0.4 2.5-0.6 2.5-0.1 2.5-0.5 2.5-0.4 2.5-0.5 2.5-0.7 2.5-0.7 2.5-0.4 2.5-0.3 2.5-0.4 2.5-0.9 2.5-1.1 2.5-0.9 2.5-0.7 2.5-0.7 2.5-0.9 2.5-0.3 2.5-0.9 2.5-0.8 2.5-0.2 2.5-0.3 2.5-0.5 2.5-0.3 2.5-0.3 2.5 0.1 2.5 0 2.5-0.1 2.5 0.4 2.5 0.2 2.5 0.2 2.5 0.3 2.5 0.8 2.5 0.9 2.5 0.6 2.5 1.1 2.5 1 2.5 0.6 2.5 0.5 2.5 1.3 2.5 1.2 2.5 0.7 2.5 0.8 2.5 0.6 2.5 1.3 2.5 1 2.5 0.8 2.5 0.6 2.5 1 2.5 0.8 2.5 0.7 2.5 0.4 2.5 0.8 2.5 1 2.5 0 2.5 0.2 2.5 0.5 2.5 0.5 2.5 0.9 2.5 0.5 2.5-0.4 2.5 0 2.5 0.9 2.5 0.5 2.5 0.2 2.5-0.1 2.5-0.3 2.5-0.1 2.5-0.2 2.5 0.2 2.5 0.5 2.5 0.3 2.5 0.4 2.5-0.4 2.5-0.2 2.5 0.4 2.5 0.2 2.5-0.4 2.5-0.4 2.5 0.2 2.5 0.2 2.5-0.4 2.5-0.2 2.5 0.2 2.5-0.2 2.5-0.5 2.5-0.1 2.5-0.1 2.5 0.1 2.5 0 2.5 0 2.5-0.5 2.5-0.6 2.5 0 2.5 0.1 2.5-0.3 2.5-0.3 2.5-0.7 2.5-0.4 2.5 0 2.5-0.7 2.5-0.3 2.5 0.3 2.5-0.2 2.5-0.3 2.5-0.3 2.5-0.1 2.5 0.2 2.5 0.5 2.5 0.2 2.5 0.1 2.5 0.6 2.5 0.3 2.5 0.5 2.5 0.9 2.5 0.4 2.5 0.3 2.5 0.9 2.5 0.1 2.5 0.3 2.5 0.5 2.5 0.2 2.5-0.1 2.5 0.1 2.5-0.1 2.5 0.1 2.5-0.2 2.5 0.1 2.5 0.5 2.5-0.1 2.5 0 2.5 0.3 2.5-0.4 2.5-0.4 2.5 0.1 2.5-0.1 2.5 0.4 2.5 0.1 2.5-0.5 2.5-0.1 2.5 0.2 2.5-0.1 2.5-0.1 2.5 0 2.5-0.4 2.5 0.2 2.5 0.2 2.5 0.1 2 0 M60.5 778l2.5-0.1 2.5-0.1 2.5 0 2.5 0 2.5 0.1 2.5-0.1 2.5 0.3 2.5-0.2 2.5 0 2.5-0.2 2.5 0.1 2.5 0.4 2.5-0.5 2.5-0.5 2.5 0.1 2.5 0.5 2.5 0.5 2.5-0.1 2.5-0.3 2.5-0.3 2.5 0.2 2.5 0.3 2.5 0.1 2.5-0.4 2.5-0.1 2.5-0.1 2.5-0.3 2.5 0 2.5-0.3 2.5-0.3 2.5 0.4 2.5 0 2.5-0.5 2.5-0.2 2.5 0.3 2.5-0.2 2.5-0.2 2.5-0.3 2.5-0.8 2.5-0.4 2.5-0.6 2.5-0.6 2.5-0.6 2.5-0.4 2.5-0.5 2.5-0.9 2.5-0.9 2.5-0.8 2.5-0.9 2.5-1 2.5-0.8 2.5-0.8 2.5-0.8 2.5-0.8 2.5-0.5 2.5-0.2 2.5-0.6 2.5-0.9 2.5-0.5 2.5-0.1 2.5-0.6 2.5-0.4 2.5 0 2.5 0.3 2.5 0.4 2.5 0.4 2.5 0.5 2.5 0.2 2.5 0.5 2.5 0.8 2.5 1.1 2.5 0.6 2.5 0.9 2.5 1.2 2.5 0.9 2.5 0.4 2.5 0.7 2.5 1 2.5 1.2 2.5 1 2.5 0.8 2.5 0.8 2.5 0.8 2.5 1 2.5 1.2 2.5 0.7 2.5 0.2 2.5 0.7 2.5 0.8 2.5 0.7 2.5 0.4 2.5 0.4 2.5 0.6 2.5 0.7 2.5 0.4 2.5 0.3 2.5 0.3 2.5 0 2.5 0.1 2.5 0.6 2.5 0.3 2.5 0.2 2.5 0.4 2.5 0 2.5-0.5 2.5 0.2 2.5 0.6 2.5 0 2.5-0.6 2.5-0.3 2.5 0 2.5 0 2.5-0.1 2.5 0.1 2.5-0.2 2.5 0.1 2.5 0.3 2.5-0.2 2.5 0 2.5 0.1 2.5-0.1 2.5-0.4 2.5-0.4 2.5-0.1 2.5 0.3 2.5-0.5 2.5-0.8 2.5-0.1 2.5 0 2.5-0.1 2.5-0.1 2.5-0.6 2.5-0.8 2.5-0.6 2.5-0.5 2.5 0 2.5 0.2 2.5 0.2 2.5-0.9 2.5-0.8 2.5 0.1 2.5 0.2 2.5-0.1 2.5 0.2 2.5 0.5 2.5 0.6 2.5 0.4 2.5 0.5 2.5 0.8 2.5 0.5 2.5 0.4 2.5 0.5 2.5 0.7 2.5 0.7 2.5 0.2 2.5 0.5 2.5 0.4 2.5 0 2.5 0 2.5 0.1 2.5 0.5 2.5 0.1 2.5-0.5 2.5-0.5 2.5 0.2 2.5 0.7 2.5 0.3 2.5-0.2 2.5-0.1 2.5-0.4 2.5-0.1 2.5 0.2 2.5-0.1 2.5-0.2 2.5 0.5 2.5 0.1 2.5-0.7 2.5-0.1 2.5 0.2 2.5-0.2 2.5-0.2 2.5 0.6 2.5 0.1 2 0.1 M60.5 788.3l2.5 0.5 2.5 0.1 2.5-0.4 2.5-0.1 2.5-0.1 2.5-0.2 2.5 0 2.5 0 2.5-0.1 2.5 0.3 2.5 0.1 2.5-0.2 2.5-0.2 2.5 0.2 2.5 0.5 2.5-0.2 2.5 0.3 2.5-0.1 2.5-0.4 2.5-0.1 2.5 0.6 2.5 0.1 2.5-0.6 2.5 0 2.5 0.3 2.5 0.1 2.5 0.1 2.5-0.5 2.5-0.3 2.5 0 2.5 0.2 2.5-0.7 2.5-0.6 2.5 0.2 2.5 0.2 2.5 0.1 2.5-0.6 2.5-0.5 2.5 0 2.5-0.3 2.5-0.7 2.5-0.5 2.5-0.6 2.5-0.9 2.5-0.7 2.5-0.8 2.5-0.8 2.5-0.6 2.5-1 2.5-0.5 2.5-0.8 2.5-1.3 2.5-1.1 2.5-0.7 2.5-0.6 2.5-0.7 2.5-0.8 2.5-0.8 2.5-0.8 2.5-0.7 2.5-0.6 2.5 0.1 2.5-0.2 2.5 0 2.5 0.3 2.5-0.1 2.5-0.3 2.5 0.7 2.5 0.8 2.5 1.3 2.5 1 2.5 0.3 2.5 0.6 2.5 0.9 2.5 1.1 2.5 1.1 2.5 0.9 2.5 0.8 2.5 1.1 2.5 0.7 2.5 1.1 2.5 1.2 2.5 0.8 2.5 0.4 2.5 0.8 2.5 0.9 2.5 1.1 2.5 0.9 2.5 0.4 2.5 0.9 2.5 0.8 2.5 0.7 2.5 0.6 2.5 0.6 2.5 0.4 2.5 0.4 2.5 0.4 2.5 0.2 2.5-0.2 2.5 0.5 2.5 0.1 2.5 0 2.5-0.2 2.5 0 2.5 0.3 2.5 0.3 2.5 0.1 2.5 0 2.5 0.4 2.5-0.1 2.5-0.3 2.5-0.2 2.5-0.2 2.5-0.1 2.5 0.1 2.5 0.1 2.5-0.2 2.5-0.3 2.5-0.1 2.5 0 2.5 0.2 2.5 0.2 2.5-0.4 2.5-0.8 2.5-0.8 2.5-0.4 2.5-0.2 2.5 0.1 2.5-0.4 2.5-0.4 2.5-0.4 2.5-0.2 2.5-0.2 2.5-0.8 2.5-0.6 2.5-0.2 2.5-0.2 2.5-0.6 2.5-0.5 2.5-0.2 2.5 0.1 2.5 0.7 2.5 0.5 2.5-0.2 2.5 0.4 2.5 0.3 2.5 0.3 2.5 0.7 2.5 0.9 2.5 0.9 2.5 1.1 2.5 0.3 2.5 0.9 2.5 0.7 2.5 0.3 2.5 0.6 2.5 0.4 2.5 0.1 2.5 0.1 2.5-0.1 2.5-0.2 2.5 0.7 2.5 0.5 2.5-0.3 2.5-0.4 2.5-0.5 2.5 0 2.5 0 2.5 0.1 2.5 0.3 2.5-0.2 2.5-0.3 2.5-0.2 2.5 0.3 2.5 0.2 2.5-0.1 2.5 0.1 2.5 0.3 2.5-0.4 2.5-0.3 2.5 0.3 2.5 0.7 2.5 0.2 2-0.4 M60.5 799.5l2.5-0.2 2.5-0.2 2.5-0.3 2.5-0.1 2.5 0 2.5-0.3 2.5 0 2.5 0.2 2.5-0.1 2.5 0 2.5 0.2 2.5 0.1 2.5 0.2 2.5-0.2 2.5-0.1 2.5 0 2.5-0.1 2.5-0.1 2.5 0.1 2.5 0.3 2.5 0.2 2.5-0.2 2.5-0.6 2.5 0 2.5 0.1 2.5 0.1 2.5-0.1 2.5 0 2.5 0.1 2.5-0.2 2.5-0.2 2.5 0.3 2.5-0.2 2.5-0.4 2.5-0.2 2.5-0.3 2.5-0.1 2.5-0.5 2.5-0.6 2.5-0.4 2.5-0.4 2.5-0.2 2.5-0.5 2.5-0.7 2.5-1.1 2.5-1.1 2.5-0.4 2.5-0.6 2.5-0.4 2.5-0.5 2.5-1 2.5-1.2 2.5-0.9 2.5-0.9 2.5-1 2.5-0.9 2.5-0.7 2.5-0.4 2.5-0.6 2.5-0.6 2.5-0.7 2.5-0.5 2.5-0.2 2.5 0 2.5 0.1 2.5-0.1 2.5 0 2.5 0.4 2.5 0.9 2.5 0.3 2.5 0.7 2.5 1.1 2.5 0.8 2.5 0.5 2.5 0.9 2.5 1.2 2.5 0.8 2.5 0.7 2.5 0.6 2.5 0.6 2.5 1 2.5 1.4 2.5 1.1 2.5 0.6 2.5 0.6 2.5 0.8 2.5 1 2.5 0.9 2.5 1.3 2.5 1.2 2.5 0.9 2.5 0.2 2.5-0.1 2.5 0.1 2.5 0.1 2.5 0.9 2.5 1 2.5 0.6 2.5 0.4 2.5 0.2 2.5 0.2 2.5 0.3 2.5 0.1 2.5-0.4 2.5-0.1 2.5 0.2 2.5 0.7 2.5 0.1 2.5-0.3 2.5-0.5 2.5 0.1 2.5 0 2.5-0.1 2.5 0 2.5 0 2.5-0.1 2.5 0 2.5-0.2 2.5-0.4 2.5-0.2 2.5-0.2 2.5 0 2.5-0.4 2.5-0.3 2.5-0.6 2.5-0.5 2.5-0.1 2.5-0.5 2.5-0.2 2.5-0.6 2.5-1 2.5-0.5 2.5-0.3 2.5-0.5 2.5-0.4 2.5-0.1 2.5-0.3 2.5-0.3 2.5-0.3 2.5-0.2 2.5-0.2 2.5 0.1 2.5 0.3 2.5 0.2 2.5 0.2 2.5 0.5 2.5 0.9 2.5 0.9 2.5 0.8 2.5 0.9 2.5 1.4 2.5 1.3 2.5 0.4 2.5 0.6 2.5 0.3 2.5 0 2.5 0.6 2.5 0.5 2.5 0.4 2.5-0.1 2.5-0.2 2.5 0.1 2.5 0.1 2.5 0 2.5-0.1 2.5-0.1 2.5 0.2 2.5 0.5 2.5 0.3 2.5-0.2 2.5-0.1 2.5 0.1 2.5 0.1 2.5 0.1 2.5-0.2 2.5-0.3 2.5-0.1 2.5 0.1 2.5 0 2.5-0.2 2.5-0.4 2.5-0.3 2.5 0.1 2 0 M60.5 809l2.5 0.1 2.5-0.3 2.5-0.4 2.5 0.1 2.5 0.2 2.5 0.2 2.5 0 2.5 0.3 2.5-0.1 2.5-0.1 2.5 0.1 2.5 0.1 2.5-0.1 2.5 0.2 2.5 0 2.5-0.2 2.5 0 2.5 0.2 2.5 0.2 2.5-0.1 2.5-0.1 2.5 0 2.5-0.1 2.5 0 2.5-0.4 2.5-0.4 2.5 0.5 2.5-0.2 2.5-0.4 2.5 0 2.5 0.1 2.5 0.5 2.5-0.5 2.5-0.7 2.5 0.1 2.5 0 2.5-0.1 2.5-1 2.5-0.7 2.5 0 2.5-0.2 2.5-0.7 2.5-0.7 2.5 0.1 2.5-0.4 2.5-1.1 2.5-0.4 2.5-0.5 2.5-0.4 2.5-1.1 2.5-1.1 2.5-0.7 2.5-1 2.5-1.1 2.5-0.9 2.5-1.1 2.5-0.9 2.5-0.2 2.5-0.9 2.5-0.9 2.5-0.6 2.5-0.9 2.5-0.4 2.5 0 2.5 0.1 2.5 0.3 2.5 0.3 2.5 0.1 2.5 0.4 2.5 0.4 2.5 0.3 2.5 0.6 2.5 0.8 2.5 1.1 2.5 0.8 2.5 0.5 2.5 0.6 2.5 1.1 2.5 1 2.5 1.1 2.5 0.9 2.5 0.9 2.5 1.3 2.5 0.9 2.5 0.8 2.5 1 2.5 0.6 2.5 0.8 2.5 0.7 2.5 0.7 2.5 0.7 2.5 1 2.5 1.2 2.5 0.6 2.5 0.2 2.5 0.6 2.5 0.3 2.5 0.3 2.5 0.5 2.5 0.4 2.5 0.5 2.5-0.3 2.5-0.2 2.5 0.4 2.5-0.2 2.5-0.4 2.5-0.3 2.5 0.8 2.5 0.4 2.5 0 2.5 0 2.5 0 2.5-0.4 2.5-0.3 2.5-0.4 2.5 0 2.5 0.1 2.5-0.3 2.5-0.6 2.5 0 2.5-0.3 2.5-0.3 2.5-0.2 2.5-0.6 2.5-0.7 2.5-0.1 2.5 0 2.5-0.8 2.5-0.3 2.5-0.3 2.5-0.7 2.5-0.9 2.5-0.5 2.5-0.2 2.5-0.4 2.5-0.8 2.5-0.4 2.5 0.2 2.5-0.1 2.5-0.4 2.5-0.4 2.5 0.1 2.5 0.3 2.5 0.3 2.5 0.1 2.5 0.7 2.5 0.8 2.5 0.8 2.5 1.2 2.5 1.2 2.5 1 2.5 1 2.5 0.8 2.5 1.1 2.5 1 2.5 0.6 2.5 0.3 2.5-0.3 2.5 0 2.5 0.6 2.5 0.6 2.5 0.4 2.5-0.4 2.5-0.4 2.5 0.1 2.5-0.3 2.5 0.1 2.5 0.8 2.5-0.1 2.5-0.1 2.5 0.1 2.5 0.2 2.5-0.2 2.5-0.2 2.5-0.6 2.5 0 2.5 0.7 2.5 0.3 2.5-0.3 2.5-0.2 2.5-0.2 2.5 0 2.5 0.5 2 0 M60.5 820.2l2.5-0.3 2.5-0.5 2.5-0.4 2.5-0.1 2.5-0.1 2.5 0 2.5 0 2.5 0.1 2.5 0.1 2.5-0.2 2.5-0.2 2.5 0.2 2.5 0.4 2.5 0.2 2.5 0.2 2.5 0 2.5-0.3 2.5-0.1 2.5 0 2.5 0.6 2.5-0.1 2.5-0.6 2.5-0.2 2.5 0 2.5-0.3 2.5 0.1 2.5 0.4 2.5-0.1 2.5-0.1 2.5 0 2.5-0.3 2.5-0.1 2.5-0.3 2.5-0.2 2.5 0 2.5-0.1 2.5 0 2.5-0.3 2.5-0.2 2.5-0.7 2.5-0.5 2.5-0.8 2.5-0.5 2.5-0.2 2.5-0.4 2.5-0.8 2.5-0.5 2.5-0.9 2.5-0.7 2.5-0.6 2.5-1 2.5-1 2.5-0.4 2.5-0.9 2.5-1.3 2.5-1.2 2.5-1 2.5-0.6 2.5-0.3 2.5-0.8 2.5-0.8 2.5-0.2 2.5-0.1 2.5-0.5 2.5-0.3 2.5 0.3 2.5-0.1 2.5-0.1 2.5 0 2.5 0.1 2.5 0.5 2.5 0.8 2.5 0.8 2.5 0.9 2.5 0.8 2.5 0.8 2.5 0.6 2.5 0.5 2.5 0.6 2.5 1.1 2.5 1.1 2.5 1 2.5 1 2.5 0.7 2.5 1 2.5 1.2 2.5 1 2.5 0.8 2.5 1 2.5 0.6 2.5 0.7 2.5 1 2.5 1 2.5 0.4 2.5 0.8 2.5 0.7 2.5 0.3 2.5 0.2 2.5 0.6 2.5 0 2.5 0 2.5 0.2 2.5 0.3 2.5 0.1 2.5 0.1 2.5 0.1 2.5-0.4 2.5-0.1 2.5 0.3 2.5 0.1 2.5-0.2 2.5-0.4 2.5 0.1 2.5 0.1 2.5-0.2 2.5-0.7 2.5-0.2 2.5-0.3 2.5-0.5 2.5 0.1 2.5 0 2.5-0.5 2.5-0.3 2.5-0.1 2.5-0.2 2.5-0.6 2.5-0.9 2.5-0.4 2.5-0.4 2.5-0.9 2.5-0.5 2.5-0.2 2.5-0.5 2.5-1.3 2.5-1 2.5-0.4 2.5 0 2.5 0 2.5 0 2.5-0.4 2.5-0.2 2.5 0.1 2.5 0.1 2.5 0.5 2.5 0.9 2.5 1.3 2.5 0.6 2.5 0.4 2.5 0.9 2.5 1.1 2.5 1.1 2.5 1.3 2.5 1.4 2.5 1.2 2.5 0.6 2.5 0.3 2.5 0.3 2.5 0.4 2.5 0.5 2.5 0.4 2.5 0.3 2.5-0.1 2.5 0.2 2.5 0 2.5-0.4 2.5-0.4 2.5 0.2 2.5 0.6 2.5 0.3 2.5-0.1 2.5-0.2 2.5-0.2 2.5-0.2 2.5 0.2 2.5 0.3 2.5-0.1 2.5-0.2 2.5 0 2.5 0.2 2.5-0.1 2.5 0 2.5 0.3 2.5-0.1 2 0 M60.5 829.6l2.5-0.2 2.5 0 2.5 0.1 2.5 0.1 2.5 0 2.5-0.3 2.5 0 2.5 0.1 2.5-0.4 2.5 0.3 2.5 0.2 2.5-0.7 2.5 0.2 2.5 0.4 2.5 0 2.5 0.3 2.5-0.4 2.5 0.5 2.5 0.4 2.5-0.3 2.5-0.4 2.5-0.1 2.5-0.1 2.5 0 2.5-0.2 2.5 0.1 2.5 0.1 2.5-0.4 2.5-0.1 2.5 0 2.5-0.1 2.5 0.2 2.5-0.3 2.5-0.6 2.5-0.1 2.5-0.2 2.5-0.2 2.5-0.2 2.5-0.2 2.5-0.2 2.5-0.4 2.5-0.3 2.5-0.5 2.5-0.6 2.5-0.8 2.5-0.9 2.5-0.6 2.5-0.2 2.5-0.3 2.5-0.5 2.5-1 2.5-1.3 2.5-1 2.5-0.8 2.5-0.7 2.5-0.5 2.5-1 2.5-1.3 2.5-0.7 2.5-0.3 2.5-0.7 2.5-0.6 2.5-0.4 2.5-0.6 2.5-0.4 2.5-0.4 2.5-0.2 2.5 0.5 2.5 0 2.5 0.2 2.5 0.6 2.5 0.8 2.5 0.5 2.5 0.3 2.5 0.4 2.5 0.8 2.5 0.8 2.5 1.2 2.5 1.1 2.5 1 2.5 1.3 2.5 0.8 2.5 0.7 2.5 0.8 2.5 0.9 2.5 1.2 2.5 0.8 2.5 0.5 2.5 1.2 2.5 1 2.5 0.8 2.5 0.4 2.5 0.2 2.5 0.8 2.5 1.2 2.5 0.3 2.5 0.1 2.5 0.6 2.5 0.2 2.5-0.3 2.5 0 2.5 0.6 2.5 0.7 2.5 0.2 2.5 0 2.5 0.2 2.5-0.3 2.5-0.6 2.5 0 2.5-0.1 2.5-0.2 2.5 0 2.5 0 2.5-0.3 2.5-0.4 2.5 0.2 2.5 0.2 2.5-0.8 2.5-0.6 2.5 0.2 2.5 0 2.5-0.6 2.5-0.6 2.5-0.3 2.5-0.7 2.5-0.8 2.5-0.3 2.5-0.3 2.5-0.3 2.5-0.6 2.5-0.6 2.5-0.5 2.5-0.7 2.5-0.7 2.5-1 2.5-0.5 2.5 0 2.5-0.5 2.5-0.1 2.5 0 2.5 0 2.5 0.3 2.5 0.4 2.5 0.1 2.5 1.4 2.5 1.3 2.5 0.6 2.5 0.9 2.5 1.5 2.5 1.2 2.5 0.7 2.5 1.2 2.5 1.3 2.5 1.2 2.5 0.9 2.5 0.6 2.5 0.3 2.5 0.3 2.5 0.1 2.5 0.2 2.5 0.2 2.5 0 2.5 0.1 2.5 0.5 2.5-0.3 2.5-0.2 2.5 0.3 2.5 0 2.5 0.1 2.5 0 2.5 0 2.5-0.1 2.5-0.1 2.5 0.3 2.5 0.1 2.5-0.7 2.5 0.2 2.5 0.2 2.5-0.4 2.5 0.2 2.5 0.6 2.5 0 2.5 0.2 2-0.2 M60.5 840.4l2.5 0.3 2.5-0.3 2.5-0.5 2.5-0.6 2.5-0.4 2.5 0.5 2.5 0.6 2.5 0.1 2.5-0.3 2.5 0.3 2.5-0.2 2.5-0.3 2.5-0.4 2.5 0.2 2.5 0.3 2.5 0.2 2.5-0.2 2.5-0.2 2.5 0.4 2.5 0.1 2.5 0 2.5 0.1 2.5-0.1 2.5-0.5 2.5-0.5 2.5 0.1 2.5 0.5 2.5 0.1 2.5-0.4 2.5-0.3 2.5 0 2.5-0.2 2.5-0.2 2.5 0 2.5 0.2 2.5-0.5 2.5-0.7 2.5-0.5 2.5-0.1 2.5 0 2.5-0.3 2.5-0.7 2.5-0.5 2.5-0.7 2.5-0.5 2.5-0.2 2.5-0.4 2.5-0.6 2.5-1.2 2.5-0.9 2.5-0.6 2.5-1.1 2.5-1.2 2.5-0.7 2.5-0.5 2.5-0.7 2.5-0.7 2.5-0.5 2.5-0.7 2.5-0.9 2.5-0.8 2.5-0.6 2.5-0.2 2.5-0.3 2.5-0.4 2.5-0.3 2.5-0.4 2.5-0.3 2.5 0.3 2.5 0.7 2.5 0.5 2.5 0.5 2.5 0.3 2.5 0.7 2.5 0.7 2.5 0.5 2.5 0.3 2.5 0.7 2.5 0.9 2.5 0.8 2.5 1.1 2.5 1.1 2.5 0.9 2.5 1.1 2.5 0.7 2.5 0.7 2.5 0.8 2.5 0.9 2.5 1.1 2.5 1.1 2.5 1.1 2.5 0.6 2.5 0.5 2.5 0.4 2.5 0.4 2.5 0.6 2.5 0.7 2.5 0.7 2.5 0.6 2.5 0.5 2.5 0.2 2.5 0 2.5 0 2.5 0 2.5 0.1 2.5-0.1 2.5-0.3 2.5 0.2 2.5 0.2 2.5-0.7 2.5-0.6 2.5-0.5 2.5-0.2 2.5 0.2 2.5-0.2 2.5-0.1 2.5 0.1 2.5-0.3 2.5-0.9 2.5-0.3 2.5-0.4 2.5-0.5 2.5-0.6 2.5-0.4 2.5-0.3 2.5-0.7 2.5-0.6 2.5-0.5 2.5-0.6 2.5-0.8 2.5-0.5 2.5-0.3 2.5-0.8 2.5-0.8 2.5-0.6 2.5-0.4 2.5-0.2 2.5 0.1 2.5-0.2 2.5-0.2 2.5 0.6 2.5 0.8 2.5 0.4 2.5 0.7 2.5 1 2.5 0.7 2.5 0.7 2.5 1.2 2.5 1.6 2.5 1.5 2.5 1.3 2.5 0.8 2.5 0.6 2.5 1 2.5 0.9 2.5 0.7 2.5 0.4 2.5 0.8 2.5 0.5 2.5 0.1 2.5 0.1 2.5-0.3 2.5-0.1 2.5 0.4 2.5 0.5 2.5 0.1 2.5-0.2 2.5 0.1 2.5 0 2.5 0.2 2.5-0.2 2.5-0.2 2.5 0 2.5-0.3 2.5-0.2 2.5 0 2.5 0.3 2.5 0.1 2.5 0 2.5 0.1 2.5 0.2 2.5-0.3 2.5 0 2 0.5 M60.5 850.1l2.5-0.4 2.5 0 2.5 0.3 2.5 0.4 2.5 0 2.5-0.3 2.5-0.5 2.5-0.4 2.5 0.1 2.5 0.2 2.5 0.4 2.5 0 2.5-0.2 2.5 0.2 2.5 0.3 2.5-0.5 2.5-0.2 2.5 0.1 2.5 0 2.5 0.1 2.5 0.5 2.5 0 2.5-0.7 2.5 0 2.5 0.2 2.5-0.1 2.5-0.2 2.5 0.1 2.5 0.1 2.5-0.4 2.5-0.2 2.5-0.1 2.5-0.1 2.5-0.1 2.5 0 2.5-0.4 2.5-0.4 2.5-0.5 2.5-0.7 2.5-0.5 2.5-0.3 2.5-0.2 2.5-0.6 2.5-0.6 2.5-0.2 2.5-0.6 2.5-0.8 2.5-0.2 2.5-0.7 2.5-0.8 2.5-0.6 2.5-1 2.5-0.8 2.5-0.5 2.5-1.2 2.5-0.8 2.5-0.7 2.5-1 2.5-0.6 2.5-0.1 2.5-0.4 2.5-1.1 2.5-0.6 2.5-0.2 2.5-0.5 2.5-0.5 2.5 0.2 2.5 0.1 2.5 0.3 2.5 0.4 2.5 0.2 2.5 0.1 2.5 0 2.5 0.2 2.5 0.7 2.5 0.8 2.5 0.6 2.5 0.7 2.5 0.9 2.5 1.5 2.5 1 2.5 0.3 2.5 0.7 2.5 1.1 2.5 1.2 2.5 0.8 2.5 0.7 2.5 0.8 2.5 0.8 2.5 0.7 2.5 1.1 2.5 0.7 2.5 1 2.5 0.8 2.5 0.8 2.5 0.5 2.5 0.4 2.5 0.2 2.5 0.5 2.5 0.3 2.5 0.2 2.5 0.3 2.5-0.1 2.5-0.5 2.5 0 2.5 0 2.5 0 2.5-0.8 2.5-0.4 2.5 0 2.5 0.3 2.5-0.6 2.5-0.5 2.5-0.5 2.5-0.7 2.5 0 2.5 0 2.5-0.4 2.5-0.5 2.5-0.7 2.5-0.6 2.5-0.5 2.5-0.2 2.5-0.2 2.5-0.9 2.5-1 2.5-0.8 2.5-0.5 2.5-0.2 2.5-0.9 2.5-0.6 2.5-0.1 2.5 0 2.5-0.1 2.5-0.8 2.5 0.2 2.5 0.3 2.5-0.2 2.5 0.5 2.5 1 2.5 0.9 2.5 0 2.5 0.7 2.5 1.6 2.5 1.2 2.5 0.2 2.5 0.5 2.5 1.6 2.5 1.1 2.5 1 2.5 0.7 2.5 0.8 2.5 1.1 2.5 1.4 2.5 0.6 2.5-0.2 2.5 0.8 2.5 1 2.5-0.1 2.5-0.1 2.5 0.4 2.5 0.2 2.5 0 2.5 0 2.5 0 2.5 0.1 2.5 0.1 2.5-0.2 2.5 0.1 2.5 0.3 2.5 0.3 2.5-0.1 2.5-0.2 2.5 0.1 2.5 0.2 2.5 0.1 2.5 0.1 2.5 0.3 2.5-0.2 2.5-0.5 2.5-0.2 2.5 0.3 2.5 0 2-0.5 M60.5 860.2l2.5 0.1 2.5 0.1 2.5-0.1 2.5-0.3 2.5 0.1 2.5 0.1 2.5 0.1 2.5 0.4 2.5 0.1 2.5-0.5 2.5-0.5 2.5-0.3 2.5 0.3 2.5 0 2.5-0.2 2.5 0.4 2.5 0.2 2.5-0.2 2.5-0.2 2.5 0 2.5 0.1 2.5-0.2 2.5 0.2 2.5 0.5 2.5-0.2 2.5-0.3 2.5-0.3 2.5-0.4 2.5 0.1 2.5 0 2.5-0.3 2.5 0.2 2.5 0.1 2.5-0.4 2.5-1 2.5-0.4 2.5-0.1 2.5 0.2 2.5-0.1 2.5-0.6 2.5-0.9 2.5-0.6 2.5-0.2 2.5-0.5 2.5-0.6 2.5-0.4 2.5-0.5 2.5-0.9 2.5-1.2 2.5-0.9 2.5-0.3 2.5-0.5 2.5-0.8 2.5-0.9 2.5-0.7 2.5-0.5 2.5-0.8 2.5-0.9 2.5-0.9 2.5-0.6 2.5-0.5 2.5-0.7 2.5-0.6 2.5 0 2.5 0.2 2.5-0.2 2.5-0.1 2.5-0.4 2.5-0.3 2.5-0.1 2.5 0.5 2.5 0.7 2.5 0.4 2.5 0.4 2.5 0.4 2.5 0.4 2.5 0.5 2.5 0.8 2.5 0.9 2.5 0.8 2.5 0.8 2.5 0.7 2.5 0.6 2.5 0.9 2.5 1 2.5 1 2.5 0.6 2.5 1.3 2.5 1.5 2.5 0.4 2.5 0.5 2.5 1.1 2.5 1.1 2.5 0.6 2.5 0.6 2.5 0.5 2.5 0.7 2.5 1 2.5-0.1 2.5-0.2 2.5 0.2 2.5 0.3 2.5 0.2 2.5-0.1 2.5-0.5 2.5-0.5 2.5 0 2.5-0.4 2.5-0.7 2.5-0.6 2.5-0.4 2.5-0.4 2.5-0.5 2.5-0.7 2.5-0.3 2.5-0.5 2.5-0.9 2.5-0.6 2.5-0.4 2.5-0.5 2.5-1 2.5-0.5 2.5-0.5 2.5-0.2 2.5-0.1 2.5-0.6 2.5-0.4 2.5-0.2 2.5 0.3 2.5-0.1 2.5-0.5 2.5-0.6 2.5 0.1 2.5 0.7 2.5 0.3 2.5 0.5 2.5 0.5 2.5 0.6 2.5 1 2.5 0.9 2.5 0.7 2.5 0.6 2.5 0.7 2.5 0.7 2.5 0.9 2.5 0.8 2.5 0.5 2.5 0.4 2.5 0.2 2.5 0.2 2.5 1.2 2.5 0.9 2.5 0.8 2.5 0.6 2.5 0.6 2.5 1 2.5 1.1 2.5 0.5 2.5-0.1 2.5 0.2 2.5 0.5 2.5 0.1 2.5 0.4 2.5-0.3 2.5-0.2 2.5 0.5 2.5 0 2.5-0.3 2.5 0.2 2.5 0 2.5 0.1 2.5-0.5 2.5-0.2 2.5 0.4 2.5 0.5 2.5 0.4 2.5-0.1 2.5-0.5 2.5-0.4 2.5-0.2 2.5 0 2.5-0.1 2.5-0.2 2-0.2 M60.5 870.3l2.5-0.1 2.5 0.4 2.5-0.1 2.5 0.2 2.5 0.1 2.5 0.2 2.5 0.1 2.5-0.1 2.5-0.3 2.5-0.4 2.5 0 2.5 0.4 2.5 0.4 2.5 0.2 2.5-0.1 2.5-0.4 2.5-0.2 2.5 0 2.5-0.2 2.5-0.2 2.5-0.1 2.5 0.1 2.5-0.2 2.5-0.1 2.5-0.1 2.5 0.1 2.5-0.2 2.5-0.1 2.5-0.4 2.5 0.1 2.5 0.1 2.5-0.4 2.5-0.3 2.5-0.4 2.5-0.5 2.5 0.2 2.5-0.2 2.5-0.5 2.5-0.3 2.5-0.6 2.5-0.5 2.5-0.3 2.5-0.2 2.5-0.3 2.5-0.9 2.5-0.5 2.5-0.7 2.5-1.3 2.5-0.7 2.5-0.2 2.5-0.6 2.5-0.6 2.5-0.6 2.5-1.1 2.5-1.3 2.5-0.9 2.5-0.3 2.5-0.5 2.5-0.5 2.5-0.7 2.5-0.6 2.5 0 2.5-0.3 2.5-0.7 2.5-0.8 2.5-0.3 2.5-0.1 2.5-0.2 2.5 0 2.5 0.4 2.5 0.3 2.5 0.2 2.5 0.2 2.5 0.6 2.5 0 2.5-0.1 2.5 0.9 2.5 1.1 2.5 0.9 2.5 0.6 2.5 0.6 2.5 0.9 2.5 1 2.5 0.8 2.5 0.7 2.5 1 2.5 1.1 2.5 0.7 2.5 0.7 2.5 1.2 2.5 0.9 2.5 1 2.5 0.9 2.5 0.9 2.5 0.5 2.5 0.2 2.5 0.3 2.5 0.5 2.5 0.8 2.5 0.3 2.5 0.1 2.5-0.5 2.5-0.4 2.5 0.4 2.5-0.3 2.5-0.5 2.5-0.4 2.5-0.4 2.5-0.7 2.5-0.9 2.5-0.4 2.5-0.7 2.5-0.5 2.5-0.2 2.5-0.7 2.5-1.1 2.5-0.9 2.5-0.1 2.5-0.3 2.5-0.6 2.5-0.7 2.5-0.4 2.5-0.2 2.5 0.2 2.5 0.1 2.5-0.1 2.5-0.4 2.5 0.2 2.5 0.2 2.5 0.2 2.5 0.7 2.5 0.9 2.5 0.4 2.5 0.5 2.5 0.4 2.5 0.4 2.5 0.4 2.5 1 2.5 1.1 2.5 0.8 2.5 0.2 2.5 0.1 2.5 0 2.5 0.1 2.5 0.3 2.5 0.4 2.5 0.2 2.5 0.4 2.5 0 2.5 0.2 2.5 0.7 2.5 0.8 2.5 1.1 2.5 1.4 2.5 0.9 2.5 0.8 2.5 1 2.5 0.4 2.5 0.1 2.5 0.5 2.5 0.1 2.5-0.1 2.5 0 2.5-0.3 2.5 0 2.5 0.4 2.5 0.2 2.5-0.2 2.5 0.1 2.5 0.4 2.5 0.2 2.5-0.1 2.5-0.1 2.5-0.4 2.5-0.1 2.5 0.1 2.5-0.1 2.5 0.1 2.5 0.3 2.5-0.3 2.5-0.2 2.5 0.4 2.5 0.3 2-0.1 M60.5 880.3l2.5 0.1 2.5 0.4 2.5 0 2.5 0 2.5-0.2 2.5 0.1 2.5 0.2 2.5-0.5 2.5-0.3 2.5 0.3 2.5 0 2.5 0.1 2.5 0.3 2.5-0.1 2.5 0 2.5 0.1 2.5 0.3 2.5 0 2.5-0.5 2.5-0.3 2.5-0.1 2.5 0.3 2.5 0 2.5-0.4 2.5 0 2.5-0.4 2.5-0.3 2.5 0.1 2.5 0.6 2.5-0.2 2.5-0.5 2.5-0.2 2.5-0.3 2.5-0.6 2.5 0.2 2.5 0.3 2.5-0.7 2.5-0.5 2.5-0.3 2.5-0.7 2.5-0.2 2.5-0.2 2.5-0.6 2.5-0.7 2.5-0.7 2.5-0.5 2.5-0.4 2.5-0.4 2.5-0.9 2.5-1.3 2.5-1.1 2.5-0.1 2.5-0.5 2.5-1.4 2.5-1.1 2.5-0.4 2.5-0.3 2.5-0.8 2.5-0.7 2.5-0.2 2.5-0.3 2.5-0.8 2.5-0.7 2.5-0.2 2.5 0.1 2.5-0.3 2.5-0.7 2.5-0.6 2.5 0.2 2.5 0.3 2.5 0.2 2.5 0.4 2.5 0.3 2.5 0.3 2.5 0.5 2.5 0.3 2.5 0.2 2.5 0.9 2.5 1 2.5 0.2 2.5 0.7 2.5 1.2 2.5 0.6 2.5 0.5 2.5 0.9 2.5 1.4 2.5 1.4 2.5 0.9 2.5 0.7 2.5 0.7 2.5 0.5 2.5 0.7 2.5 0.8 2.5 0.9 2.5 0.9 2.5 0.5 2.5 0.1 2.5 0.5 2.5 0 2.5-0.1 2.5 0 2.5-0.1 2.5 0.1 2.5 0 2.5-0.4 2.5-0.4 2.5-0.6 2.5-0.8 2.5-0.8 2.5-0.4 2.5-0.7 2.5-0.5 2.5-0.4 2.5-0.7 2.5-0.9 2.5-0.5 2.5 0 2.5 0.1 2.5-0.1 2.5-0.1 2.5-0.1 2.5-0.3 2.5-0.5 2.5-0.3 2.5 0.1 2.5 0.6 2.5 0.6 2.5 0.5 2.5 0.4 2.5 0.6 2.5 0.7 2.5 0.5 2.5 0.5 2.5 0.4 2.5 0.1 2.5 0.3 2.5 0.7 2.5 0.4 2.5 0.1 2.5 0.4 2.5 0.5 2.5-0.3 2.5-0.1 2.5 0.2 2.5-0.1 2.5 0.6 2.5 0.8 2.5 0.2 2.5 0.2 2.5 0.4 2.5 0.6 2.5 0.9 2.5 0.6 2.5 0.8 2.5 1.2 2.5 1 2.5 0.6 2.5 0.2 2.5 0.1 2.5 1 2.5 0.8 2.5-0.2 2.5-0.5 2.5-0.2 2.5 0.1 2.5 0 2.5 0.2 2.5 0.1 2.5 0.3 2.5-0.1 2.5-0.6 2.5 0.1 2.5-0.1 2.5-0.2 2.5 0.1 2.5 0.4 2.5 0.1 2.5-0.2 2.5 0.5 2.5 0.5 2.5-0.3 2.5-0.3 2.5-0.3 2-0.2 M60.5 901.2l2.5-0.2 2.5 0 2.5 0.1 2.5-0.1 2.5 0.1 2.5 0.5 2.5 0.1 2.5-0.3 2.5-0.4 2.5-0.2 2.5 0.2 2.5 0.1 2.5-0.1 2.5-0.2 2.5 0 2.5 0.1 2.5 0.2 2.5 0.2 2.5-0.4 2.5-0.6 2.5-0.2 2.5-0.1 2.5 0.3 2.5 0.3 2.5-0.1 2.5-0.2 2.5-0.2 2.5-0.3 2.5-0.5 2.5-0.1 2.5 0.2 2.5 0.2 2.5-0.4 2.5 0.1 2.5-0.1 2.5-0.7 2.5-0.5 2.5-0.4 2.5-0.2 2.5-0.3 2.5-0.4 2.5-0.3 2.5-0.4 2.5-0.8 2.5-0.7 2.5-0.7 2.5-0.7 2.5-0.9 2.5-0.5 2.5-0.7 2.5-0.7 2.5-0.4 2.5-1.2 2.5-1 2.5-0.7 2.5-1.1 2.5-0.8 2.5-0.7 2.5-0.5 2.5-0.3 2.5-0.2 2.5-0.3 2.5-0.4 2.5-0.5 2.5-0.5 2.5-0.5 2.5-0.1 2.5-0.3 2.5 0 2.5 0.5 2.5 0.1 2.5 0 2.5 0.3 2.5 0.2 2.5 0 2.5 0.4 2.5 0.5 2.5 0.8 2.5 0.9 2.5 1.1 2.5 0.6 2.5 0.5 2.5 0.8 2.5 0.8 2.5 1.2 2.5 1.1 2.5 0.7 2.5 0.5 2.5 1.2 2.5 1.3 2.5 1 2.5 0.7 2.5 0.4 2.5 0.8 2.5 0.6 2.5 0.7 2.5 0.6 2.5 0.3 2.5 0.1 2.5 0 2.5-0.2 2.5 0 2.5 0.2 2.5-0.4 2.5-0.7 2.5-0.3 2.5 0 2.5-0.1 2.5-0.6 2.5-1 2.5-1.1 2.5-0.4 2.5-0.2 2.5-0.5 2.5-0.5 2.5-0.4 2.5 0 2.5-0.4 2.5-0.8 2.5-0.3 2.5 0.2 2.5-0.2 2.5 0.2 2.5 0 2.5-0.3 2.5 0.2 2.5 0.4 2.5 0.6 2.5 0.8 2.5 0.8 2.5 0.3 2.5 0.3 2.5 0.6 2.5 0.2 2.5 0.6 2.5 0.7 2.5-0.2 2.5 0.1 2.5 0.3 2.5-0.1 2.5 0.1 2.5 0.6 2.5 0 2.5 0.1 2.5 0.1 2.5 0 2.5 0.3 2.5 0.9 2.5 0.9 2.5 0.4 2.5 0.2 2.5 0.4 2.5 0.9 2.5 1 2.5 1.2 2.5 0.7 2.5 0.7 2.5 0.4 2.5 0.2 2.5 0.2 2.5 0.4 2.5-0.1 2.5 0 2.5 0.3 2.5 0.1 2.5 0.4 2.5 0.2 2.5-0.1 2.5-0.1 2.5 0 2.5-0.1 2.5-0.3 2.5 0.1 2.5-0.2 2.5 0 2.5 0.2 2.5 0.2 2.5 0.2 2.5-0.1 2.5-0.5 2.5 0.4 2.5 0.6 2.5 0.1 2-0.2 M60.5 911.4l2.5-0.4 2.5-0.2 2.5 0.4 2.5-0.1 2.5-0.4 2.5-0.1 2.5 0.5 2.5 0.2 2.5-0.3 2.5 0.1 2.5 0.2 2.5 0 2.5 0.1 2.5 0 2.5-0.4 2.5-0.3 2.5-0.3 2.5-0.3 2.5 0.4 2.5 0.5 2.5-0.1 2.5-0.3 2.5-0.1 2.5-0.4 2.5 0.2 2.5 0.3 2.5-0.1 2.5-0.2 2.5 0.2 2.5 0 2.5-0.5 2.5-0.5 2.5-0.7 2.5-0.3 2.5 0.3 2.5-0.2 2.5-0.4 2.5-0.5 2.5-0.2 2.5-0.1 2.5-0.3 2.5-1 2.5-0.8 2.5-0.1 2.5-0.4 2.5-0.7 2.5-0.5 2.5-0.5 2.5-1 2.5-1.2 2.5-1.2 2.5-0.7 2.5-0.6 2.5-0.6 2.5-0.7 2.5-0.8 2.5-0.5 2.5-1.1 2.5-0.8 2.5-0.6 2.5-0.7 2.5-0.3 2.5-0.3 2.5-0.4 2.5-0.1 2.5-0.5 2.5-0.5 2.5-0.5 2.5-0.2 2.5 0.3 2.5 0.3 2.5 0.4 2.5 0.2 2.5-0.2 2.5 0.4 2.5 0.8 2.5 1.1 2.5 0.6 2.5 0.5 2.5 0.8 2.5 1.2 2.5 0.8 2.5 0.7 2.5 0.8 2.5 1.4 2.5 1.2 2.5 1 2.5 1 2.5 0.7 2.5 0.8 2.5 1.1 2.5 0.8 2.5 0.6 2.5 0.7 2.5 0.7 2.5 0.9 2.5 0.6 2.5 0.4 2.5 0.4 2.5-0.3 2.5 0.3 2.5 0.4 2.5-0.5 2.5-0.3 2.5 0.2 2.5-0.4 2.5-0.8 2.5-0.4 2.5-0.8 2.5-0.7 2.5-0.5 2.5-0.6 2.5-0.7 2.5-0.6 2.5-0.5 2.5-0.4 2.5-0.4 2.5-0.4 2.5-0.8 2.5-0.8 2.5-0.3 2.5 0.1 2.5 0.2 2.5-0.3 2.5-0.5 2.5-0.1 2.5-0.2 2.5 0.3 2.5 0.2 2.5 0.5 2.5 0.4 2.5 0.3 2.5 0.5 2.5 0.5 2.5 0.9 2.5 1.4 2.5 1.1 2.5 0 2.5-0.1 2.5 0.3 2.5 0.5 2.5 0 2.5 0.4 2.5 0.5 2.5 0.3 2.5 0.7 2.5 0.3 2.5-0.1 2.5 0.1 2.5 0.4 2.5 0.7 2.5 1.3 2.5 1.1 2.5 0.8 2.5 0.7 2.5 0.6 2.5 0.6 2.5 0.3 2.5 0.7 2.5 0.8 2.5 0.1 2.5-0.3 2.5 0.2 2.5 0.5 2.5-0.1 2.5-0.6 2.5 0 2.5 0.4 2.5 0.1 2.5-0.2 2.5 0 2.5 0.2 2.5 0.4 2.5-0.3 2.5-0.3 2.5 0 2.5 0.3 2.5-0.2 2.5-0.3 2.5-0.1 2.5-0.2 2.5 0 2.5-0.1 2 0 M60.5 921.2l2.5 0 2.5-0.5 2.5-0.1 2.5 0.3 2.5 0.1 2.5-0.2 2.5-0.1 2.5-0.3 2.5 0.2 2.5 0.5 2.5 0.1 2.5-0.4 2.5 0 2.5 0.3 2.5-0.1 2.5-0.1 2.5 0.2 2.5 0.2 2.5 0.1 2.5-0.2 2.5-0.3 2.5-0.1 2.5-0.2 2.5-0.3 2.5 0.1 2.5 0.1 2.5-0.2 2.5 0.2 2.5-0.1 2.5-0.2 2.5 0 2.5-0.1 2.5-0.2 2.5-0.5 2.5-0.4 2.5 0 2.5 0.1 2.5-0.6 2.5-0.9 2.5-0.5 2.5-0.5 2.5-0.3 2.5-0.2 2.5-0.4 2.5-1.1 2.5-0.5 2.5-0.6 2.5-1 2.5-0.8 2.5-0.8 2.5-0.6 2.5-0.7 2.5-1.1 2.5-0.5 2.5-0.8 2.5-0.6 2.5-0.8 2.5-0.8 2.5-0.7 2.5-0.8 2.5-1 2.5-0.7 2.5-0.2 2.5-0.2 2.5-0.4 2.5-1 2.5 0 2.5 0.1 2.5-0.3 2.5 0.4 2.5 0.8 2.5 0.1 2.5 0 2.5 0.7 2.5 0.6 2.5 0.5 2.5 0.4 2.5 0.5 2.5 0.6 2.5 0.9 2.5 1.2 2.5 1.1 2.5 1.1 2.5 0.3 2.5 0.5 2.5 1.4 2.5 1.4 2.5 1 2.5 0.9 2.5 0.9 2.5 1.2 2.5 0.7 2.5 0.8 2.5 0.6 2.5 0.6 2.5 0.8 2.5 0 2.5 0.7 2.5 0.8 2.5 0.4 2.5 0.3 2.5 0 2.5 0.2 2.5 0.3 2.5-0.5 2.5-0.5 2.5-0.5 2.5-0.2 2.5 0 2.5-0.4 2.5-0.7 2.5-0.6 2.5-0.5 2.5-0.9 2.5-0.4 2.5-0.5 2.5-0.6 2.5-0.4 2.5-0.7 2.5-0.4 2.5 0 2.5-0.5 2.5-0.6 2.5-0.7 2.5-0.3 2.5-0.3 2.5-0.2 2.5-0.3 2.5-0.7 2.5-0.4 2.5-0.6 2.5-0.7 2.5 0.5 2.5 0.9 2.5 0.6 2.5 0.5 2.5 0.9 2.5 0.8 2.5 0.5 2.5 1.1 2.5 0.9 2.5 0.3 2.5 0.4 2.5 0.9 2.5 0.5 2.5 0.4 2.5 0.6 2.5 0.6 2.5 0.9 2.5 0.9 2.5 0.7 2.5 0.5 2.5 0.5 2.5 1 2.5 1 2.5 0.9 2.5 0.9 2.5 0 2.5 0.1 2.5 0.5 2.5 0.2 2.5-0.1 2.5 0 2.5 0.2 2.5 0.2 2.5 0 2.5-0.2 2.5 0.1 2.5 0.2 2.5-0.4 2.5-0.8 2.5 0.2 2.5 0.3 2.5 0.2 2.5 0.3 2.5 0.2 2.5-0.1 2.5-0.2 2.5 0.2 2.5 0.1 2.5-0.2 2.5 0.1 2.5 0.2 2-0.4 M60.5 931.2l2.5 0 2.5 0 2.5-0.1 2.5 0 2.5 0.2 2.5-0.1 2.5-0.1 2.5-0.5 2.5 0.1 2.5 0.6 2.5-0.1 2.5-0.2 2.5 0 2.5-0.1 2.5-0.2 2.5-0.3 2.5 0.2 2.5 0.3 2.5 0.4 2.5 0 2.5-0.2 2.5 0.2 2.5-0.6 2.5-0.8 2.5 0.1 2.5 0.9 2.5-0.1 2.5-0.5 2.5-0.3 2.5 0.1 2.5 0.4 2.5-0.1 2.5-0.1 2.5-0.8 2.5-0.7 2.5 0.2 2.5-0.2 2.5-0.2 2.5-0.1 2.5-0.5 2.5-0.5 2.5-0.7 2.5-0.8 2.5-0.4 2.5-0.6 2.5-0.3 2.5-0.6 2.5-1 2.5-0.8 2.5-0.8 2.5-1 2.5-0.7 2.5-1 2.5-1 2.5-1.1 2.5-0.7 2.5-0.8 2.5-1.1 2.5-0.9 2.5-0.6 2.5-0.5 2.5-0.7 2.5-0.2 2.5-0.2 2.5-0.8 2.5-0.7 2.5 0.1 2.5 0.3 2.5 0 2.5 0.3 2.5 0.2 2.5 0.1 2.5 0.2 2.5 0.3 2.5 0.7 2.5 0.9 2.5 0.8 2.5 0.8 2.5 0.6 2.5 1 2.5 0.8 2.5 0.5 2.5 1 2.5 1.2 2.5 1.2 2.5 1.1 2.5 0.9 2.5 1.1 2.5 1.3 2.5 0.8 2.5 0.5 2.5 1 2.5 1 2.5 1.2 2.5 0.5 2.5 0.5 2.5 0.6 2.5 0.6 2.5 0.6 2.5 0.7 2.5 0.2 2.5 0.2 2.5 0.1 2.5-0.2 2.5 0.3 2.5 0 2.5-0.4 2.5-0.6 2.5 0 2.5-0.3 2.5-0.3 2.5 0.2 2.5-0.6 2.5-0.8 2.5-0.3 2.5-0.1 2.5-0.3 2.5-0.5 2.5-0.3 2.5-0.8 2.5-1.2 2.5-0.7 2.5-0.5 2.5-0.1 2.5-0.2 2.5-0.8 2.5-1.1 2.5-0.4 2.5-0.3 2.5-0.6 2.5-0.5 2.5-0.5 2.5-0.5 2.5 0.2 2.5 0.1 2.5-0.3 2.5-0.3 2.5 0.1 2.5 0.6 2.5 0.8 2.5 0.7 2.5 1 2.5 1.3 2.5 0.7 2.5 0.3 2.5 0.9 2.5 1.4 2.5 0.9 2.5 1.2 2.5 0.9 2.5 0.4 2.5 0.8 2.5 0.9 2.5 0.7 2.5 0.7 2.5 1 2.5 0.8 2.5 0.3 2.5 0.1 2.5 0.1 2.5 0.2 2.5 0.3 2.5-0.4 2.5 0.2 2.5 0.3 2.5-0.1 2.5 0.4 2.5 0.2 2.5-0.4 2.5-0.1 2.5 0 2.5 0.2 2.5 0.1 2.5 0.2 2.5 0.2 2.5 0 2.5 0.1 2.5-0.4 2.5-0.4 2.5 0.2 2.5 0 2.5-0.2 2.5 0.4 2 0 M60.5 941.2l2.5 0 2.5 0.2 2.5-0.1 2.5-0.5 2.5-0.2 2.5 0 2.5 0 2.5 0.1 2.5 0 2.5 0.1 2.5 0.3 2.5 0.1 2.5-0.3 2.5 0 2.5 0.2 2.5 0 2.5 0 2.5 0.3 2.5 0.2 2.5-0.2 2.5 0 2.5 0.4 2.5-0.1 2.5-0.5 2.5-0.1 2.5 0 2.5-0.3 2.5 0 2.5-0.2 2.5-0.3 2.5-0.2 2.5-0.4 2.5-0.2 2.5 0.1 2.5 0.6 2.5 0 2.5-0.6 2.5-0.5 2.5-0.3 2.5-0.3 2.5-0.5 2.5-0.7 2.5-0.9 2.5-0.6 2.5-0.8 2.5-1 2.5-0.6 2.5-0.3 2.5-0.8 2.5-1 2.5-0.4 2.5-0.9 2.5-1.4 2.5-1.1 2.5-0.8 2.5-0.7 2.5-1.3 2.5-1 2.5-0.9 2.5-0.9 2.5-0.3 2.5-0.3 2.5-0.6 2.5-0.4 2.5-0.4 2.5-0.3 2.5-0.4 2.5-0.3 2.5 0.2 2.5 0.4 2.5 0.7 2.5 0.5 2.5 0.1 2.5 0.2 2.5 0.6 2.5 1 2.5 1.2 2.5 0.7 2.5 0.6 2.5 0.9 2.5 1.3 2.5 1 2.5 0.9 2.5 1.3 2.5 1.2 2.5 1 2.5 1.3 2.5 0.9 2.5 0.8 2.5 0.9 2.5 0.7 2.5 0.6 2.5 0.8 2.5 0.9 2.5 0.9 2.5 0.8 2.5 0.7 2.5 0.2 2.5-0.2 2.5 0.6 2.5 0.3 2.5 0.4 2.5 0.3 2.5 0.3 2.5 0.1 2.5-0.4 2.5 0 2.5-0.2 2.5-0.3 2.5 0.2 2.5-0.2 2.5-0.4 2.5 0.1 2.5 0.3 2.5-0.9 2.5-0.9 2.5-0.2 2.5-0.1 2.5-0.2 2.5-0.4 2.5-0.5 2.5-0.3 2.5-0.6 2.5-0.8 2.5-0.4 2.5-0.3 2.5-0.3 2.5-0.6 2.5-0.8 2.5-0.6 2.5-0.3 2.5-0.3 2.5-0.9 2.5-0.4 2.5-0.4 2.5-0.6 2.5-0.1 2.5-0.1 2.5-0.1 2.5 0.3 2.5 0.5 2.5 0.4 2.5 0.3 2.5 1 2.5 1 2.5 0.5 2.5 1.1 2.5 1.3 2.5 1.1 2.5 1.2 2.5 1.2 2.5 1.3 2.5 1.1 2.5 0.7 2.5 0.8 2.5 0.6 2.5 0.5 2.5 0.3 2.5 0.3 2.5 0.6 2.5 0.6 2.5 0.2 2.5-0.3 2.5-0.3 2.5 0.1 2.5-0.2 2.5 0.2 2.5 0.2 2.5-0.3 2.5 0.1 2.5 0 2.5-0.2 2.5-0.1 2.5 0.1 2.5 0.1 2.5 0.3 2.5-0.1 2.5-0.5 2.5-0.1 2.5 0 2.5-0.1 2.5 0 2.5 0.3 2-0.1 M60.5 951.2l2.5 0.2 2.5-0.2 2.5 0 2.5 0.2 2.5 0.2 2.5-0.1 2.5-0.1 2.5-0.2 2.5-0.2 2.5-0.1 2.5 0.2 2.5 0 2.5 0.1 2.5 0.3 2.5 0 2.5-0.2 2.5-0.4 2.5 0.1 2.5-0.1 2.5-0.2 2.5 0.2 2.5 0.5 2.5-0.1 2.5-0.5 2.5-0.2 2.5 0.1 2.5 0.2 2.5 0.1 2.5-0.7 2.5-0.4 2.5 0.3 2.5 0.1 2.5 0 2.5 0.2 2.5-0.1 2.5-0.8 2.5-0.8 2.5-0.4 2.5 0 2.5-0.1 2.5-0.5 2.5-0.3 2.5-0.6 2.5-0.5 2.5-1 2.5-1.1 2.5-1 2.5-1 2.5-0.8 2.5-0.3 2.5-0.4 2.5-0.8 2.5-1.4 2.5-1.3 2.5-1.1 2.5-0.6 2.5-0.9 2.5-1.1 2.5-0.7 2.5-1 2.5-1.1 2.5-0.3 2.5-0.5 2.5-0.6 2.5-0.2 2.5 0.4 2.5 0.1 2.5-0.2 2.5-0.6 2.5 0.2 2.5 0.6 2.5 0.2 2.5 0.4 2.5 0.8 2.5 1.6 2.5 0.9 2.5 0.6 2.5 0.7 2.5 0.8 2.5 1.1 2.5 1.1 2.5 1.1 2.5 1.2 2.5 0.8 2.5 1 2.5 1.4 2.5 1 2.5 1 2.5 0.6 2.5 0.6 2.5 1.2 2.5 1 2.5 0.9 2.5 0.3 2.5 0.6 2.5 1.2 2.5 0.8 2.5 0.3 2.5 0.3 2.5 0.5 2.5 0 2.5 0.3 2.5 0.2 2.5 0.3 2.5 0.3 2.5-0.1 2.5 0.2 2.5-0.2 2.5-0.7 2.5-0.2 2.5 0.2 2.5-0.1 2.5-0.1 2.5-0.4 2.5 0.3 2.5 0 2.5-0.6 2.5-0.5 2.5-0.1 2.5-0.2 2.5-0.1 2.5-0.3 2.5-0.4 2.5-0.5 2.5-0.5 2.5-1.1 2.5-0.5 2.5-0.3 2.5-0.6 2.5-0.5 2.5-0.7 2.5-0.6 2.5-0.6 2.5-0.5 2.5-0.3 2.5-0.4 2.5-0.2 2.5 0.1 2.5-0.5 2.5-0.4 2.5 0.3 2.5 0.5 2.5 0.5 2.5 0.4 2.5 0.3 2.5 1 2.5 1.1 2.5 0.8 2.5 0.7 2.5 0.7 2.5 1.8 2.5 1.7 2.5 0.7 2.5 1 2.5 1.3 2.5 0.9 2.5 0.5 2.5-0.2 2.5 0.4 2.5 0.3 2.5-0.2 2.5 0.4 2.5 0.7 2.5 0 2.5-0.6 2.5-0.7 2.5 0.4 2.5 0.3 2.5 0 2.5 0.3 2.5 0.5 2.5-0.6 2.5-0.4 2.5 0.1 2.5 0 2.5 0 2.5 0.1 2.5 0.2 2.5-0.2 2.5-0.3 2.5 0.2 2.5 0.2 2.5 0 2 0.2 M60.5 960.9l2.5 0.7 2.5 0.2 2.5-0.4 2.5-0.4 2.5-0.1 2.5 0.3 2.5 0 2.5-0.3 2.5 0.3 2.5 0.2 2.5-0.2 2.5-0.2 2.5 0 2.5 0 2.5 0.4 2.5-0.2 2.5-0.2 2.5 0.5 2.5 0 2.5-0.2 2.5 0.2 2.5-0.4 2.5 0 2.5 0 2.5-0.5 2.5 0.3 2.5 0 2.5-0.2 2.5-0.3 2.5 0 2.5-0.3 2.5-0.2 2.5-0.1 2.5 0 2.5 0.1 2.5-0.7 2.5-0.4 2.5-0.1 2.5-0.1 2.5-0.2 2.5-0.5 2.5-0.8 2.5-0.7 2.5-0.4 2.5-0.5 2.5-0.8 2.5-1.3 2.5-0.9 2.5-0.1 2.5-0.9 2.5-1.2 2.5-1.2 2.5-1.3 2.5-1.2 2.5-0.9 2.5-1 2.5-1.1 2.5-1.1 2.5-0.6 2.5-0.6 2.5-0.8 2.5-0.9 2.5-0.8 2.5-0.2 2.5-0.2 2.5-0.4 2.5 0 2.5 0.5 2.5 0.3 2.5 0.5 2.5 0.5 2.5 0.7 2.5 0.4 2.5 0.5 2.5 1.1 2.5 1.1 2.5 1 2.5 0.9 2.5 1.1 2.5 1.4 2.5 1.2 2.5 1.1 2.5 1.1 2.5 1 2.5 1.1 2.5 1 2.5 0.9 2.5 0.9 2.5 1.2 2.5 1.3 2.5 0.5 2.5 0.5 2.5 0.7 2.5 0.8 2.5 0.6 2.5 0.3 2.5 0.4 2.5 0.7 2.5 0.5 2.5 0.6 2.5 0.6 2.5 0.6 2.5 0.3 2.5-0.3 2.5-0.3 2.5-0.2 2.5 0.1 2.5 0 2.5-0.3 2.5 0.3 2.5 0.2 2.5 0 2.5-0.3 2.5-0.2 2.5-0.3 2.5-0.3 2.5-0.3 2.5 0.3 2.5 0.3 2.5-0.5 2.5-0.5 2.5-0.3 2.5-0.2 2.5-0.5 2.5-0.3 2.5-0.6 2.5-0.6 2.5-0.3 2.5-0.5 2.5-0.6 2.5-0.6 2.5-0.7 2.5-0.6 2.5-0.5 2.5-0.5 2.5-0.6 2.5-0.6 2.5-0.6 2.5-0.1 2.5 0.1 2.5 0.2 2.5 0.1 2.5-0.2 2.5 0.2 2.5 0.3 2.5 0.9 2.5 0.9 2.5 0.7 2.5 1.2 2.5 1.8 2.5 1.4 2.5 1.1 2.5 1.2 2.5 1.4 2.5 0.4 2.5 0.5 2.5 0.9 2.5 0.2 2.5 0.1 2.5 0.3 2.5 0 2.5 0.1 2.5-0.2 2.5-0.1 2.5 0.3 2.5-0.2 2.5-0.3 2.5 0.1 2.5 0.3 2.5 0 2.5 0 2.5 0.1 2.5-0.2 2.5-0.2 2.5 0.4 2.5 0.3 2.5 0.1 2.5 0 2.5-0.1 2.5 0 2.5 0.1 2.5-0.2 2.5 0.3 2 0.1 M60.5 971.7l2.5-0.1 2.5 0 2.5-0.1 2.5-0.3 2.5 0.1 2.5-0.1 2.5-0.1 2.5-0.2 2.5 0 2.5-0.1 2.5 0 2.5 0.3 2.5 0 2.5 0.1 2.5 0.1 2.5-0.1 2.5-0.2 2.5-0.2 2.5-0.4 2.5-0.3 2.5 0.4 2.5 0.4 2.5-0.1 2.5 0.2 2.5 0.3 2.5-0.2 2.5 0.3 2.5 0.1 2.5-0.1 2.5-0.1 2.5-0.5 2.5-0.5 2.5-0.2 2.5-0.4 2.5-0.5 2.5 0 2.5 0.3 2.5-0.6 2.5-0.6 2.5-0.5 2.5-0.4 2.5-0.6 2.5-0.7 2.5-0.9 2.5-0.8 2.5-0.5 2.5-0.4 2.5-0.4 2.5-0.9 2.5-1.1 2.5-1.3 2.5-1.5 2.5-1.3 2.5-1.1 2.5-1.2 2.5-0.6 2.5-0.5 2.5-1 2.5-1 2.5-1.2 2.5-1 2.5-0.5 2.5-0.2 2.5 0.2 2.5-0.2 2.5-0.5 2.5-0.1 2.5 0.3 2.5 0.3 2.5 0.4 2.5 0.9 2.5 0.9 2.5 0.6 2.5 0.6 2.5 0.9 2.5 0.9 2.5 1.3 2.5 1 2.5 1 2.5 1.1 2.5 1.1 2.5 0.9 2.5 1.3 2.5 1.7 2.5 1.1 2.5 1.1 2.5 1.2 2.5 0.8 2.5 0.8 2.5 1 2.5 1 2.5 0.7 2.5 0.6 2.5 0.6 2.5 0.8 2.5 0.5 2.5 0.1 2.5 0.5 2.5 0.6 2.5 0.2 2.5 0.2 2.5 0.5 2.5 0.2 2.5 0.1 2.5 0 2.5-0.1 2.5 0 2.5-0.1 2.5 0.2 2.5 0.2 2.5 0.1 2.5 0 2.5 0.1 2.5 0.2 2.5-0.4 2.5-0.6 2.5-0.2 2.5-0.1 2.5-0.1 2.5-0.3 2.5 0 2.5 0.1 2.5-0.5 2.5-0.6 2.5-0.4 2.5-0.2 2.5-0.1 2.5-0.5 2.5-0.9 2.5-1.1 2.5-0.1 2.5 0.1 2.5-0.4 2.5-1.1 2.5-0.8 2.5-0.3 2.5-0.6 2.5-0.5 2.5 0 2.5 0.4 2.5 0.1 2.5-0.3 2.5 0.1 2.5 0.5 2.5 0.1 2.5 0.5 2.5 0.8 2.5 1.3 2.5 1.2 2.5 1 2.5 0.9 2.5 1 2.5 0.8 2.5 0.7 2.5 1.1 2.5 0.7 2.5 0.2 2.5 0.2 2.5 0.4 2.5 0.4 2.5-0.1 2.5-0.3 2.5-0.2 2.5-0.2 2.5 0.2 2.5 0.2 2.5 0.1 2.5 0.1 2.5 0.2 2.5-0.1 2.5 0 2.5 0 2.5-0.1 2.5 0 2.5-0.1 2.5-0.2 2.5 0.2 2.5-0.1 2.5 0.2 2.5 0.1 2.5 0.1 2.5-0.2 2.5-0.2 2 0.3 M60.5 980.8l2.5 0.4 2.5 0.2 2.5-0.5 2.5-0.2 2.5 0.1 2.5-0.4 2.5-0.2 2.5 0.3 2.5 0.2 2.5 0.1 2.5 0.1 2.5 0.2 2.5-0.1 2.5-0.2 2.5 0.1 2.5 0.4 2.5 0.2 2.5 0 2.5-0.6 2.5-0.9 2.5 0.2 2.5 0.5 2.5 0.1 2.5-0.1 2.5 0.4 2.5-0.1 2.5-0.3 2.5-0.1 2.5-0.2 2.5-0.1 2.5 0 2.5-0.3 2.5-0.5 2.5-0.1 2.5-0.1 2.5-0.2 2.5 0 2.5-0.4 2.5 0 2.5-0.6 2.5-1 2.5-0.4 2.5-0.4 2.5-1.1 2.5-1.1 2.5-0.4 2.5-0.6 2.5-1.4 2.5-0.9 2.5-1 2.5-1.2 2.5-1.2 2.5-0.9 2.5-0.8 2.5-1.2 2.5-1.3 2.5-0.8 2.5-1.2 2.5-0.7 2.5-0.5 2.5-0.5 2.5-0.6 2.5-0.4 2.5-0.3 2.5 0 2.5 0.2 2.5 0.4 2.5 0 2.5 0.6 2.5 0.6 2.5 0.5 2.5 0.6 2.5 0.8 2.5 0.6 2.5 1 2.5 1.4 2.5 1.1 2.5 1.5 2.5 1.1 2.5 1.1 2.5 1.2 2.5 1.1 2.5 1 2.5 1 2.5 1.3 2.5 1.4 2.5 1.2 2.5 0.9 2.5 0.6 2.5 0.5 2.5 0.6 2.5 1.2 2.5 1 2.5 0.5 2.5 0.8 2.5 0.7 2.5 0.4 2.5 0.4 2.5 0 2.5-0.1 2.5 0.4 2.5 0.5 2.5 0.3 2.5-0.1 2.5 0 2.5 0.1 2.5 0.3 2.5 0.3 2.5 0.3 2.5 0 2.5-0.3 2.5-0.1 2.5 0 2.5 0 2.5-0.2 2.5-0.7 2.5 0.1 2.5 0.3 2.5-0.1 2.5-0.5 2.5 0 2.5-0.1 2.5-0.8 2.5-0.7 2.5-0.2 2.5-0.2 2.5-0.1 2.5-0.3 2.5-0.1 2.5-0.7 2.5-0.9 2.5-0.6 2.5-0.4 2.5 0 2.5-0.2 2.5-0.6 2.5-0.4 2.5-0.6 2.5 0.1 2.5 0.1 2.5-0.5 2.5 0.2 2.5 0.1 2.5-0.6 2.5 0.3 2.5 0.9 2.5 1.2 2.5 0.7 2.5 0.9 2.5 1.2 2.5 0.9 2.5 0.8 2.5 0.9 2.5 0.8 2.5 0.6 2.5 0.6 2.5 0 2.5 0 2.5 0.5 2.5-0.1 2.5-0.4 2.5 0.1 2.5 0 2.5 0.1 2.5 0.4 2.5-0.1 2.5 0.1 2.5 0.2 2.5 0.3 2.5-0.5 2.5-0.5 2.5-0.1 2.5 0.2 2.5 0.3 2.5 0.2 2.5 0.2 2.5-0.1 2.5-0.1 2.5 0 2.5-0.1 2.5 0.2 2.5 0.2 2.5-0.2 2-0.5 M60.5 991l2.5 0.3 2.5-0.1 2.5 0 2.5 0.1 2.5-0.2 2.5 0.1 2.5-0.1 2.5 0 2.5 0 2.5 0 2.5-0.2 2.5-0.2 2.5 0.1 2.5 0.2 2.5-0.1 2.5-0.3 2.5 0 2.5 0.1 2.5 0.2 2.5 0.1 2.5-0.1 2.5-0.2 2.5-0.1 2.5-0.5 2.5-0.3 2.5 0.3 2.5 0 2.5-0.1 2.5 0.1 2.5 0.2 2.5-0.3 2.5 0 2.5-0.4 2.5-0.5 2.5-0.2 2.5 0.2 2.5 0 2.5-0.2 2.5-0.3 2.5-0.8 2.5-0.8 2.5-0.7 2.5-0.7 2.5-0.9 2.5-0.7 2.5-0.5 2.5-1.4 2.5-0.8 2.5-0.7 2.5-1.2 2.5-1.3 2.5-1.1 2.5-1.1 2.5-1.1 2.5-0.9 2.5-0.9 2.5-0.9 2.5-0.7 2.5-0.9 2.5-0.6 2.5-0.5 2.5-0.2 2.5-0.2 2.5-0.2 2.5-0.2 2.5 0.1 2.5 0.5 2.5 0.9 2.5 0.9 2.5 0.7 2.5 0.5 2.5 0.6 2.5 0.5 2.5 0.8 2.5 1.3 2.5 1.2 2.5 0.9 2.5 1.2 2.5 1.6 2.5 1 2.5 1.2 2.5 1.8 2.5 0.9 2.5 0.8 2.5 1 2.5 1 2.5 1 2.5 0.4 2.5 0.6 2.5 1.1 2.5 1 2.5 0.8 2.5 0.2 2.5 0.6 2.5 0.9 2.5 0.8 2.5 0.5 2.5 0.5 2.5 0.5 2.5-0.2 2.5 0.2 2.5 0.3 2.5 0 2.5 0 2.5 0 2.5 0 2.5-0.1 2.5 0 2.5 0.1 2.5 0.2 2.5 0.1 2.5 0.7 2.5 0.2 2.5-0.4 2.5-0.5 2.5-0.1 2.5 0.2 2.5-0.1 2.5-0.3 2.5-0.3 2.5-0.1 2.5-0.4 2.5-0.4 2.5-0.5 2.5-0.1 2.5 0 2.5-0.4 2.5-0.4 2.5-0.1 2.5-0.4 2.5-0.6 2.5-0.9 2.5 0 2.5-0.4 2.5-0.9 2.5-0.3 2.5 0.1 2.5-0.5 2.5-0.1 2.5 0.1 2.5-0.1 2.5 0 2.5-0.1 2.5 0.5 2.5 0.6 2.5 0.1 2.5 0.2 2.5 1.1 2.5 0.8 2.5 0.7 2.5 1 2.5 0.6 2.5 1.1 2.5 0.6 2.5 0.6 2.5 0 2.5-0.1 2.5 0.4 2.5 0.4 2.5 0.2 2.5 0 2.5-0.3 2.5 0.2 2.5 0.1 2.5-0.3 2.5-0.3 2.5 0.1 2.5 0.4 2.5 0.1 2.5-0.5 2.5-0.1 2.5 0.3 2.5-0.2 2.5 0 2.5-0.2 2.5-0.1 2.5 0.4 2.5 0.3 2.5 0.5 2.5 0.2 2.5-0.4 2.5 0 2.5-0.1 2-0.4 M60.5 1000.6l2.5 0.7 2.5-0.2 2.5-0.7 2.5-0.1 2.5 0.6 2.5 0 2.5-0.1 2.5 0.1 2.5-0.4 2.5-0.1 2.5 0.4 2.5-0.2 2.5-0.3 2.5 0.1 2.5 0.3 2.5 0 2.5 0.2 2.5 0.1 2.5 0.1 2.5-0.3 2.5-0.5 2.5-0.3 2.5 0.3 2.5 0.9 2.5 0.3 2.5-1 2.5-0.3 2.5 0.3 2.5-0.1 2.5-0.3 2.5-0.3 2.5-0.4 2.5 0.1 2.5 0.4 2.5-0.1 2.5-0.8 2.5-0.5 2.5-0.2 2.5-0.2 2.5-0.8 2.5-0.9 2.5-0.4 2.5-0.6 2.5-1.2 2.5-1 2.5-0.4 2.5-0.6 2.5-0.9 2.5-1.3 2.5-1.3 2.5-1.2 2.5-1.1 2.5-1 2.5-0.9 2.5-0.6 2.5-0.7 2.5-1.1 2.5-0.8 2.5-0.3 2.5-0.1 2.5-0.5 2.5-0.4 2.5 0 2.5 0 2.5 0.3 2.5 0.8 2.5 0.6 2.5 0.8 2.5 0.6 2.5 0.5 2.5 0.5 2.5 0.7 2.5 1.3 2.5 1.2 2.5 1.1 2.5 0.8 2.5 0.8 2.5 1.2 2.5 1.6 2.5 1.3 2.5 0.8 2.5 1.1 2.5 1.1 2.5 0.5 2.5 0.7 2.5 1 2.5 1.3 2.5 0.8 2.5 0.3 2.5 0.4 2.5 1.1 2.5 1 2.5 0.3 2.5 0.5 2.5 0.5 2.5 0.2 2.5 0.5 2.5 0.5 2.5 0 2.5 0.2 2.5 0.4 2.5 0.3 2.5 0.1 2.5 0.2 2.5 0 2.5-0.2 2.5 0.2 2.5 0.5 2.5 0.4 2.5-0.1 2.5-0.4 2.5 0.2 2.5 0 2.5-0.2 2.5 0.1 2.5 0.2 2.5-0.1 2.5-0.6 2.5-0.1 2.5-0.2 2.5 0 2.5 0.1 2.5-0.3 2.5-0.7 2.5-0.2 2.5-0.3 2.5-0.4 2.5 0.1 2.5-0.3 2.5-0.3 2.5-0.1 2.5-0.1 2.5-0.7 2.5-0.5 2.5 0 2.5-0.7 2.5-0.7 2.5-0.1 2.5 0.3 2.5 0 2.5-0.2 2.5-0.1 2.5-0.1 2.5 0 2.5 0.3 2.5 0.8 2.5 0.7 2.5 0.7 2.5 0.1 2.5 0.4 2.5 0.8 2.5 0.9 2.5 0.4 2.5 0.8 2.5 0.6 2.5 0 2.5-0.1 2.5-0.4 2.5 0.1 2.5 0.1 2.5 0.4 2.5 0.1 2.5 0 2.5 0.3 2.5 0 2.5-0.4 2.5-0.2 2.5-0.1 2.5 0.5 2.5 0.5 2.5-0.3 2.5-0.2 2.5 0 2.5 0.3 2.5-0.1 2.5-0.4 2.5-0.4 2.5 0.4 2.5 0.5 2.5-0.1 2.5-0.1 2.5-0.4 2.5-0.2 2 0.4 M60.5 1010.7l2.5 0.1 2.5 0.2 2.5 0.1 2.5-0.1 2.5-0.3 2.5 0 2.5 0.1 2.5-0.2 2.5-0.3 2.5 0.1 2.5 0.3 2.5 0.6 2.5 0.3 2.5 0 2.5-0.4 2.5-0.2 2.5 0 2.5 0 2.5-0.1 2.5-0.3 2.5 0 2.5 0.4 2.5 0.2 2.5 0 2.5 0.3 2.5-0.1 2.5-0.9 2.5-0.4 2.5-0.1 2.5-0.1 2.5-0.1 2.5 0 2.5 0.1 2.5-0.3 2.5-0.5 2.5-0.4 2.5-0.4 2.5-0.4 2.5-0.5 2.5-0.6 2.5-0.7 2.5-0.8 2.5-0.3 2.5-0.5 2.5-1.2 2.5-1.2 2.5-0.6 2.5-1.3 2.5-1.5 2.5-0.5 2.5-0.5 2.5-0.8 2.5-0.8 2.5-1 2.5-1.3 2.5-1.2 2.5-0.6 2.5-0.1 2.5-0.4 2.5-0.6 2.5-0.2 2.5 0 2.5-0.4 2.5 0.2 2.5 0.8 2.5 0.8 2.5 0.3 2.5 0.4 2.5 1 2.5 1 2.5 1.3 2.5 1 2.5 1.1 2.5 1.1 2.5 1 2.5 1.3 2.5 1.3 2.5 1 2.5 1 2.5 0.8 2.5 1.1 2.5 0.8 2.5 0.7 2.5 0.9 2.5 0.9 2.5 0.8 2.5 1.1 2.5 0.8 2.5 0.5 2.5 0.4 2.5 0.4 2.5 0.9 2.5 0.9 2.5 0.4 2.5 0.2 2.5 0 2.5 0.2 2.5 0.3 2.5 0.1 2.5 0.3 2.5 0.6 2.5 0.2 2.5 0.3 2.5-0.3 2.5 0.1 2.5 0 2.5 0.1 2.5 0 2.5 0.1 2.5 0.1 2.5 0 2.5 0.3 2.5 0.1 2.5-0.2 2.5 0 2.5-0.1 2.5 0 2.5 0 2.5-0.8 2.5-0.3 2.5-0.1 2.5 0.2 2.5 0.5 2.5 0.5 2.5-0.4 2.5-0.3 2.5-0.4 2.5-0.6 2.5-0.1 2.5-0.1 2.5-0.5 2.5-0.4 2.5-0.4 2.5-0.7 2.5-0.1 2.5 0.1 2.5-0.2 2.5-0.4 2.5-0.1 2.5 0 2.5 0.1 2.5 0.1 2.5 0 2.5-0.1 2.5-0.1 2.5 0.4 2.5 0.5 2.5 0.3 2.5 0.7 2.5 0.4 2.5 0.6 2.5 0.6 2.5 0.3 2.5 0.2 2.5 0.4 2.5 0.6 2.5 0.4 2.5-0.6 2.5 0.1 2.5 0.3 2.5 0.1 2.5-0.4 2.5-0.2 2.5 0.4 2.5-0.1 2.5-0.1 2.5-0.2 2.5 0 2.5 0.3 2.5 0.4 2.5 0 2.5-0.2 2.5 0 2.5 0 2.5 0 2.5 0.1 2.5 0 2.5-0.2 2.5 0 2.5 0.1 2.5 0 2.5 0 2.5 0.3 2-0.1 M60.5 1020.6l2.5 0.5 2.5-0.2 2.5-0.4 2.5 0.4 2.5 0.1 2.5-0.2 2.5 0.1 2.5 0 2.5-0.3 2.5-0.1 2.5 0 2.5-0.1 2.5-0.1 2.5 0.1 2.5-0.1 2.5 0.3 2.5 0 2.5 0 2.5 0.6 2.5 0.4 2.5-0.4 2.5-0.6 2.5 0.3 2.5-0.1 2.5-0.3 2.5-0.2 2.5 0.2 2.5 0.2 2.5-0.3 2.5-0.6 2.5-0.3 2.5-0.1 2.5 0.3 2.5-0.1 2.5-0.9 2.5-0.5 2.5-0.5 2.5-0.4 2.5-0.2 2.5-0.6 2.5-1.1 2.5-0.5 2.5-0.1 2.5-0.7 2.5-0.9 2.5-1.1 2.5-0.9 2.5-0.7 2.5-1.1 2.5-1 2.5-0.5 2.5-0.7 2.5-0.9 2.5-0.5 2.5-0.7 2.5-1 2.5-0.4 2.5-0.3 2.5 0 2.5-0.4 2.5-0.6 2.5 0.2 2.5 0.8 2.5 0.5 2.5 0.5 2.5 0.7 2.5 0.7 2.5 0.4 2.5 0.9 2.5 0.9 2.5 1.2 2.5 1.1 2.5 0.5 2.5 1.1 2.5 1 2.5 1 2.5 1 2.5 0.7 2.5 1.1 2.5 1.5 2.5 1 2.5 0.3 2.5 0.9 2.5 1.7 2.5 0.7 2.5 0.2 2.5 0.1 2.5 0.7 2.5 0.7 2.5 0.6 2.5 1 2.5 0.3 2.5 0.1 2.5-0.1 2.5 0.2 2.5 0.5 2.5 0.5 2.5 0.2 2.5 0.3 2.5 0.3 2.5 0.4 2.5 0.2 2.5-0.3 2.5-0.2 2.5 0.4 2.5 0.4 2.5-0.3 2.5-0.1 2.5 0 2.5 0.2 2.5-0.1 2.5-0.2 2.5 0.2 2.5 0.4 2.5 0.2 2.5-0.1 2.5-0.2 2.5-0.5 2.5 0 2.5 0 2.5-0.4 2.5-0.3 2.5-0.3 2.5 0 2.5-0.1 2.5-0.1 2.5 0.2 2.5-0.3 2.5-0.2 2.5-0.2 2.5 0 2.5 0.1 2.5-0.4 2.5-0.4 2.5-0.5 2.5-0.1 2.5 0 2.5-0.1 2.5 0 2.5 0.3 2.5 0.2 2.5-0.3 2.5-0.2 2.5 0.4 2.5 1 2.5 0.2 2.5-0.2 2.5 0 2.5 0 2.5 0.4 2.5 0.5 2.5 0.2 2.5 0 2.5 0.3 2.5 0.6 2.5-0.1 2.5-0.3 2.5 0.5 2.5 0.5 2.5-0.3 2.5-0.2 2.5-0.1 2.5 0.2 2.5-0.3 2.5-0.1 2.5 0.6 2.5 0.5 2.5-0.6 2.5-0.4 2.5 0.4 2.5 0.4 2.5 0 2.5-0.8 2.5-0.3 2.5 0.4 2.5 0.4 2.5 0.2 2.5-0.1 2.5-0.6 2.5 0 2.5 0.4 2.5 0.3 2.5-0.1 2-0.4 M60.5 1030.8l2.5 0.1 2.5 0 2.5-0.1 2.5 0.4 2.5 0.3 2.5-0.3 2.5-0.6 2.5-0.3 2.5 0.2 2.5 0.3 2.5 0.2 2.5-0.2 2.5 0 2.5 0.3 2.5-0.2 2.5 0.2 2.5-0.2 2.5-0.4 2.5 0 2.5-0.1 2.5-0.3 2.5-0.3 2.5 0.2 2.5 0.4 2.5 0 2.5-0.2 2.5-0.2 2.5-0.1 2.5-0.2 2.5-0.5 2.5-0.1 2.5 0.2 2.5-0.2 2.5-0.5 2.5-0.1 2.5 0 2.5-0.3 2.5-0.8 2.5-0.2 2.5-0.3 2.5-0.8 2.5-0.9 2.5-1.1 2.5-0.3 2.5-0.9 2.5-1 2.5-0.3 2.5-0.4 2.5-0.6 2.5-0.9 2.5-1.2 2.5-0.9 2.5-0.7 2.5-0.4 2.5-0.4 2.5-0.5 2.5-0.2 2.5 0 2.5 0.1 2.5 0.4 2.5-0.1 2.5-0.5 2.5 0 2.5 0.4 2.5 0.7 2.5 0.9 2.5 0.5 2.5 0.8 2.5 1.1 2.5 1.2 2.5 0.8 2.5 1 2.5 1.3 2.5 1 2.5 1 2.5 0.8 2.5 0.7 2.5 0.9 2.5 0.9 2.5 1.2 2.5 0.7 2.5 0.5 2.5 0.9 2.5 0.5 2.5 0.9 2.5 0.4 2.5 0.2 2.5 0.4 2.5 0.6 2.5 0.6 2.5 0.3 2.5 0.4 2.5 0.1 2.5 0.5 2.5 0.2 2.5-0.1 2.5 0.4 2.5-0.1 2.5-0.1 2.5 0.5 2.5 0.5 2.5 0.3 2.5 0.1 2.5 0.5 2.5 0.2 2.5 0 2.5-0.1 2.5-0.3 2.5-0.2 2.5 0.2 2.5 0.2 2.5-0.2 2.5-0.4 2.5-0.1 2.5 0.3 2.5 0 2.5-0.3 2.5 0.2 2.5 0.2 2.5-0.1 2.5 0.1 2.5-0.3 2.5-0.5 2.5 0.1 2.5 0.3 2.5 0.1 2.5-0.3 2.5-0.7 2.5 0.1 2.5 0.3 2.5 0.2 2.5-0.3 2.5-0.7 2.5-0.3 2.5-0.1 2.5 0.1 2.5-0.1 2.5 0.3 2.5 0 2.5-0.4 2.5-0.6 2.5 0.2 2.5 0.3 2.5-0.2 2.5 0.2 2.5 0.5 2.5 0.4 2.5 0.1 2.5 0.1 2.5 0.1 2.5 0.3 2.5 0.3 2.5 0.3 2.5 0.1 2.5 0.1 2.5-0.2 2.5 0.4 2.5 0.1 2.5 0.2 2.5-0.1 2.5 0.2 2.5 0 2.5-0.4 2.5-0.1 2.5 0 2.5-0.1 2.5-0.2 2.5 0.1 2.5 0.1 2.5-0.1 2.5 0 2.5 0 2.5 0.5 2.5 0.3 2.5-0.1 2.5-0.6 2.5-0.2 2.5 0.1 2.5-0.1 2.5 0.2 2.5 0 2.5 0 2.5 0.2 2 0.3 M60.5 1040.8l2.5-0.3 2.5-0.2 2.5-0.1 2.5 0.2 2.5 0.5 2.5 0.4 2.5-0.2 2.5-0.5 2.5-0.1 2.5 0.1 2.5-0.4 2.5 0.1 2.5 0 2.5-0.1 2.5 0 2.5 0.2 2.5-0.4 2.5 0 2.5 0.2 2.5 0.1 2.5 0 2.5 0.3 2.5-0.1 2.5-0.3 2.5-0.2 2.5-0.2 2.5 0.1 2.5 0.3 2.5-0.1 2.5-0.3 2.5-0.1 2.5-0.4 2.5-0.2 2.5-0.4 2.5-0.5 2.5-0.3 2.5-0.6 2.5-0.3 2.5-0.4 2.5-0.2 2.5-0.2 2.5-0.9 2.5-1 2.5-0.6 2.5-0.9 2.5-0.9 2.5-0.6 2.5-0.2 2.5-0.7 2.5-1 2.5-0.3 2.5-0.2 2.5-0.7 2.5-0.5 2.5-0.2 2.5-0.4 2.5 0.2 2.5 0 2.5-0.6 2.5 0.3 2.5 0.6 2.5 0.2 2.5 0.2 2.5 0.4 2.5 0.5 2.5 1.1 2.5 0.9 2.5 0.5 2.5 0.7 2.5 1.1 2.5 1.1 2.5 1 2.5 0.9 2.5 0.8 2.5 0.3 2.5 0.8 2.5 1.7 2.5 1.1 2.5 0.2 2.5 0.7 2.5 1.2 2.5 0.9 2.5 0.7 2.5 0.6 2.5 0.2 2.5 0.5 2.5 0.3 2.5 0.4 2.5 0.7 2.5 0.4 2.5 0.2 2.5 0.1 2.5 0.2 2.5-0.1 2.5 0 2.5-0.4 2.5 0.5 2.5 0.7 2.5 0.1 2.5-0.1 2.5 0 2.5 0.7 2.5 0.1 2.5-0.2 2.5 0.1 2.5 0.2 2.5 0.2 2.5-0.4 2.5-0.5 2.5 0.3 2.5 0.5 2.5-0.1 2.5-0.2 2.5 0.1 2.5 0 2.5-0.2 2.5-0.5 2.5 0.1 2.5 0.4 2.5 0 2.5 0.3 2.5 0.2 2.5-0.5 2.5-0.3 2.5-0.2 2.5-0.1 2.5-0.2 2.5-0.4 2.5 0 2.5 0.7 2.5 0.1 2.5 0 2.5-0.2 2.5-0.2 2.5 0.1 2.5-0.2 2.5-0.3 2.5 0.1 2.5-0.2 2.5 0.3 2.5 0.6 2.5-0.3 2.5 0 2.5-0.3 2.5 0 2.5 0.1 2.5 0 2.5-0.3 2.5 0.1 2.5 0.3 2.5-0.2 2.5 0.3 2.5 0.5 2.5-0.1 2.5-0.2 2.5 0.1 2.5 0.4 2.5 0.1 2.5 0.1 2.5 0.2 2.5 0.2 2.5-0.6 2.5-0.4 2.5 0.3 2.5 0.3 2.5-0.2 2.5-0.1 2.5 0.4 2.5 0 2.5-0.3 2.5-0.2 2.5 0.3 2.5 0.3 2.5 0.1 2.5-0.4 2.5-0.3 2.5 0.1 2.5 0.1 2.5 0 2.5-0.1 2.5 0.1 2.5 0.1 2.5 0 2-0.2 M60.5 1050.8l2.5-0.2 2.5-0.3 2.5 0.1 2.5 0.3 2.5-0.4 2.5-0.5 2.5 0.2 2.5 0.2 2.5 0.9 2.5 0.1 2.5-0.3 2.5-0.5 2.5-0.2 2.5 0.2 2.5 0.1 2.5-0.1 2.5 0.2 2.5 0.3 2.5-0.2 2.5-0.7 2.5-0.4 2.5 0.4 2.5 0.2 2.5 0.4 2.5 0.4 2.5-0.1 2.5-0.4 2.5 0 2.5-0.1 2.5-0.5 2.5-0.3 2.5-0.2 2.5-0.5 2.5-0.6 2.5-0.4 2.5-0.2 2.5-0.3 2.5-0.2 2.5-0.4 2.5-0.1 2.5-0.7 2.5-1 2.5-0.3 2.5-0.5 2.5-0.4 2.5-0.6 2.5-0.8 2.5-0.6 2.5-0.7 2.5-0.4 2.5-0.4 2.5-0.5 2.5-0.4 2.5-0.5 2.5-0.1 2.5-0.2 2.5 0.3 2.5 0.3 2.5 0.1 2.5 0.3 2.5 0.9 2.5-0.1 2.5 0.1 2.5 0.6 2.5 1 2.5 0.6 2.5 0.7 2.5 0.6 2.5 0.9 2.5 1 2.5 1 2.5 0.7 2.5 0.7 2.5 0.9 2.5 0.6 2.5 0.8 2.5 1 2.5 0.5 2.5 1 2.5 0.5 2.5 0.5 2.5 0.9 2.5 0.6 2.5 0.2 2.5 0.6 2.5 0.7 2.5 0.4 2.5-0.1 2.5 0 2.5 0.1 2.5 0.5 2.5 0.7 2.5 0.3 2.5 0.2 2.5 0.2 2.5-0.2 2.5-0.2 2.5 0.4 2.5 0.2 2.5-0.5 2.5 0.3 2.5 0.4 2.5 0.3 2.5 0.5 2.5-0.1 2.5-0.5 2.5-0.3 2.5 0 2.5 0 2.5 0.1 2.5 0 2.5 0 2.5 0.4 2.5 0.3 2.5-0.1 2.5-0.6 2.5-0.4 2.5 0.6 2.5 0.2 2.5-0.4 2.5-0.1 2.5 0 2.5-0.1 2.5 0 2.5-0.3 2.5-0.1 2.5 0 2.5-0.1 2.5 0.2 2.5 0.1 2.5-0.2 2.5 0.2 2.5-0.1 2.5 0.1 2.5-0.1 2.5-0.3 2.5-0.3 2.5-0.3 2.5 0.2 2.5 0.4 2.5 0.6 2.5-0.1 2.5-0.5 2.5 0.2 2.5 0.1 2.5-0.1 2.5 0.3 2.5 0.1 2.5-0.3 2.5 0.1 2.5 0 2.5 0 2.5 0.2 2.5 0.1 2.5-0.2 2.5 0 2.5 0.5 2.5 0.2 2.5-0.2 2.5-0.2 2.5 0.2 2.5 0.1 2.5 0.2 2.5-0.1 2.5-0.4 2.5-0.2 2.5 0 2.5 0.2 2.5 0.7 2.5-0.3 2.5-0.6 2.5 0.1 2.5 0.2 2.5 0.3 2.5-0.1 2.5-0.2 2.5 0.1 2.5 0 2.5-0.1 2.5-0.1 2.5 0.1 2.5 0 2.5-0.3 2 0.1 M60.5 1060.6l2.5 0.5 2.5 0.2 2.5-0.3 2.5-0.3 2.5 0.1 2.5 0 2.5-0.2 2.5-0.4 2.5-0.3 2.5 0.5 2.5 0.5 2.5-0.3 2.5-0.5 2.5 0.1 2.5 0.2 2.5 0.6 2.5-0.2 2.5-0.4 2.5 0.2 2.5-0.1 2.5 0.1 2.5-0.2 2.5-0.3 2.5 0.1 2.5-0.1 2.5 0.2 2.5-0.3 2.5-0.6 2.5-0.1 2.5 0.6 2.5-0.1 2.5-0.6 2.5 0 2.5-0.4 2.5-0.6 2.5-0.4 2.5-0.2 2.5-0.1 2.5-0.8 2.5-0.6 2.5 0.2 2.5-0.6 2.5-1.1 2.5-0.6 2.5-0.4 2.5-0.3 2.5-0.2 2.5-0.6 2.5-0.7 2.5-0.3 2.5 0 2.5-0.1 2.5 0 2.5-0.5 2.5-0.1 2.5-0.1 2.5 0 2.5 0.5 2.5 0 2.5 0 2.5 0.6 2.5 0.6 2.5 0.4 2.5 1 2.5 0.7 2.5 0.6 2.5 1.1 2.5 1 2.5 0.5 2.5 0.8 2.5 1.2 2.5 0.6 2.5 0.2 2.5 0.7 2.5 0.8 2.5 0.5 2.5 0.7 2.5 1 2.5 0.7 2.5 0.6 2.5 0.6 2.5 0.2 2.5 0.3 2.5 0.5 2.5 0.2 2.5 0.4 2.5 0.5 2.5 0.3 2.5 0.3 2.5-0.1 2.5 0 2.5-0.1 2.5 0.3 2.5 0.4 2.5 0.5 2.5 0.2 2.5 0.1 2.5 0.4 2.5 0 2.5-0.4 2.5-0.6 2.5-0.1 2.5 0.2 2.5 0.1 2.5-0.1 2.5 0 2.5 0 2.5 0.4 2.5-0.2 2.5-0.1 2.5 0.2 2.5-0.2 2.5 0.5 2.5 0.1 2.5-0.4 2.5-0.3 2.5-0.1 2.5 0.1 2.5 0.5 2.5-0.1 2.5-0.3 2.5 0 2.5 0.5 2.5 0.1 2.5-0.6 2.5-0.3 2.5 0 2.5 0.5 2.5 0.4 2.5 0.2 2.5-0.5 2.5-0.4 2.5 0 2.5 0.1 2.5-0.2 2.5 0.3 2.5 0 2.5-0.3 2.5 0 2.5 0.6 2.5 0.2 2.5-0.4 2.5 0.1 2.5 0.2 2.5-0.5 2.5-0.3 2.5-0.1 2.5 0.3 2.5 0.1 2.5-0.1 2.5-0.2 2.5-0.2 2.5 0 2.5 0.4 2.5 0.4 2.5-0.2 2.5 0 2.5 0.4 2.5 0 2.5-0.4 2.5 0.1 2.5 0.3 2.5-0.1 2.5-0.2 2.5 0.1 2.5 0.2 2.5 0.1 2.5-0.2 2.5 0.1 2.5 0 2.5-0.2 2.5 0.3 2.5 0 2.5-0.3 2.5 0.3 2.5-0.5 2.5-0.2 2.5 0.3 2.5 0.4 2.5 0 2.5 0 2.5 0.2 2.5 0.1 2 0.3 M60.5 1070.9l2.5-0.3 2.5 0 2.5 0.4 2.5-0.1 2.5-0.5 2.5-0.4 2.5 0 2.5 0.2 2.5 0.6 2.5 0 2.5-0.3 2.5 0.4 2.5 0.5 2.5-0.3 2.5-0.7 2.5-0.1 2.5-0.2 2.5-0.1 2.5 0.7 2.5 0.6 2.5-0.1 2.5-0.6 2.5-0.3 2.5 0.1 2.5-0.1 2.5-0.7 2.5-0.1 2.5 0.6 2.5 0 2.5-0.1 2.5-0.3 2.5-0.3 2.5-0.5 2.5-0.1 2.5 0.1 2.5-0.5 2.5-0.6 2.5-0.4 2.5-0.7 2.5-0.5 2.5 0.1 2.5 0 2.5-0.7 2.5-0.8 2.5-0.1 2.5-0.3 2.5-0.9 2.5-0.6 2.5 0.4 2.5 0 2.5-0.5 2.5-0.8 2.5 0 2.5 0.6 2.5 0.3 2.5-0.1 2.5 0 2.5 0.2 2.5 0.1 2.5 0.3 2.5 0.4 2.5 0.7 2.5 0.7 2.5 0.8 2.5 0.6 2.5 0.6 2.5 0.9 2.5 0.5 2.5 0.9 2.5 1.1 2.5 0.6 2.5 0.2 2.5 1.2 2.5 1.1 2.5 0.4 2.5-0.1 2.5 0.6 2.5 0.8 2.5 0.7 2.5 0.7 2.5 0.3 2.5 0.5 2.5 0.2 2.5-0.3 2.5 0.3 2.5 0.5 2.5 0.5 2.5 0.4 2.5 0 2.5 0 2.5-0.5 2.5-0.2 2.5 0.7 2.5 0.5 2.5-0.1 2.5 0 2.5 0.5 2.5 0.4 2.5-0.4 2.5-0.3 2.5 0.2 2.5 0.5 2.5-0.1 2.5 0.1 2.5 0.1 2.5-0.1 2.5-0.3 2.5 0.2 2.5 0.2 2.5-0.1 2.5-0.1 2.5-0.3 2.5-0.1 2.5 0.1 2.5 0.1 2.5-0.1 2.5 0 2.5-0.2 2.5 0.1 2.5 0 2.5 0.1 2.5 0.1 2.5-0.1 2.5-0.3 2.5-0.1 2.5 0.4 2.5-0.1 2.5-0.1 2.5 0.1 2.5 0.2 2.5-0.2 2.5 0.3 2.5 0.4 2.5 0.1 2.5-0.1 2.5-0.4 2.5-0.3 2.5 0.4 2.5 0.2 2.5-0.1 2.5-0.1 2.5-0.3 2.5 0 2.5 0.3 2.5 0 2.5-0.3 2.5 0.2 2.5 0.1 2.5 0 2.5 0.1 2.5 0.1 2.5 0.1 2.5-0.3 2.5-0.4 2.5 0.2 2.5 0 2.5-0.2 2.5 0.1 2.5-0.1 2.5 0.5 2.5 0.2 2.5-0.3 2.5 0.1 2.5 0 2.5-0.2 2.5-0.3 2.5 0.2 2.5 0.2 2.5 0 2.5 0 2.5 0.2 2.5-0.1 2.5 0.1 2.5 0.1 2.5-0.1 2.5-0.1 2.5 0 2.5-0.2 2.5-0.1 2.5 0.3 2.5 0.1 2.5-0.1 2.5 0 2-0.2 M60.5 1080.4l2.5 0.4 2.5-0.3 2.5 0.2 2.5-0.2 2.5 0.4 2.5 0.2 2.5-0.8 2.5 0 2.5 0.6 2.5-0.1 2.5-0.2 2.5-0.1 2.5-0.1 2.5 0.4 2.5 0.2 2.5-0.3 2.5 0.1 2.5 0.4 2.5 0 2.5-0.6 2.5-0.2 2.5-0.2 2.5-0.2 2.5-0.1 2.5-0.3 2.5-0.4 2.5-0.2 2.5 0.3 2.5 0.3 2.5 0.1 2.5-0.5 2.5-0.3 2.5 0.1 2.5-0.3 2.5-0.5 2.5-0.1 2.5-0.1 2.5-0.7 2.5-0.8 2.5-0.5 2.5 0 2.5 0 2.5-0.1 2.5-0.5 2.5-0.3 2.5-0.1 2.5-0.4 2.5-0.6 2.5 0 2.5-0.3 2.5-0.3 2.5-0.2 2.5-0.1 2.5-0.2 2.5 0 2.5 0.6 2.5 0.3 2.5 0.1 2.5 0.8 2.5 0.9 2.5 0.2 2.5 0.3 2.5 0.7 2.5 0.3 2.5 0.5 2.5 0.7 2.5 0.9 2.5 1 2.5 0.7 2.5 0.4 2.5 0.8 2.5 0.8 2.5 0.6 2.5 0.6 2.5 0.5 2.5 0.6 2.5 0.6 2.5 0.4 2.5 0.7 2.5 0.3 2.5 0.1 2.5 0.4 2.5 0.4 2.5 0.4 2.5 0.3 2.5 0.1 2.5 0.2 2.5 0.7 2.5 0.2 2.5-0.1 2.5 0.2 2.5-0.1 2.5-0.1 2.5 0.4 2.5 0.6 2.5-0.1 2.5-0.3 2.5-0.2 2.5 0.3 2.5 0.4 2.5-0.2 2.5 0 2.5 0.1 2.5 0 2.5 0 2.5-0.2 2.5-0.2 2.5 0.1 2.5 0.4 2.5-0.2 2.5-0.2 2.5 0.1 2.5-0.3 2.5-0.2 2.5-0.1 2.5 0.1 2.5 0.1 2.5 0.1 2.5-0.1 2.5-0.2 2.5 0.1 2.5 0 2.5 0.1 2.5 0.3 2.5 0.1 2.5-0.4 2.5-0.2 2.5 0.1 2.5-0.1 2.5 0.1 2.5 0.1 2.5-0.2 2.5-0.1 2.5 0.3 2.5 0.5 2.5-0.3 2.5-0.1 2.5 0.2 2.5 0.1 2.5-0.2 2.5-0.5 2.5 0.3 2.5 0.8 2.5-0.4 2.5-0.4 2.5 0.1 2.5 0.1 2.5-0.3 2.5 0.1 2.5 0.1 2.5 0.1 2.5-0.1 2.5-0.3 2.5-0.3 2.5-0.1 2.5 0.4 2.5-0.1 2.5 0.3 2.5 0.4 2.5-0.2 2.5 0 2.5 0 2.5 0 2.5-0.1 2.5 0 2.5 0.2 2.5-0.3 2.5-0.4 2.5 0.3 2.5 0.1 2.5-0.1 2.5 0.4 2.5 0.3 2.5 0.1 2.5-0.5 2.5-0.2 2.5-0.4 2.5 0.2 2.5 0.3 2.5 0.1 2.5-0.1 2.5-0.1 2.5-0.2 2 0.1 M60.5 1090.9l2.5-0.4 2.5-0.1 2.5-0.1 2.5-0.2 2.5 0.5 2.5 0.4 2.5-0.2 2.5 0 2.5 0.2 2.5-0.1 2.5 0.3 2.5 0.3 2.5-0.3 2.5-0.1 2.5-0.2 2.5-0.1 2.5-0.1 2.5 0 2.5-0.1 2.5-0.5 2.5 0.1 2.5 0.1 2.5-0.2 2.5-0.2 2.5 0 2.5 0.2 2.5 0.1 2.5 0 2.5-0.5 2.5-0.5 2.5-0.1 2.5 0.1 2.5-0.4 2.5-0.8 2.5-0.3 2.5-0.3 2.5 0.1 2.5-0.1 2.5-0.2 2.5-0.3 2.5-0.5 2.5-0.5 2.5-0.1 2.5-0.1 2.5-0.5 2.5-0.5 2.5-0.2 2.5 0.1 2.5-0.4 2.5-0.3 2.5 0 2.5 0 2.5 0.4 2.5 0.5 2.5 0.3 2.5 0.3 2.5 0.1 2.5-0.1 2.5 0.6 2.5 0.9 2.5 0.3 2.5-0.3 2.5 0.4 2.5 1 2.5 0.6 2.5 0.6 2.5 0.8 2.5 0.4 2.5 0.5 2.5 1.2 2.5 1 2.5 0.9 2.5 0.7 2.5 0.4 2.5 0.3 2.5 0.2 2.5 0.4 2.5 0.8 2.5 0.9 2.5 0.5 2.5 0.4 2.5-0.3 2.5-0.1 2.5 0.7 2.5 0.3 2.5-0.4 2.5 0 2.5 0.5 2.5 0.3 2.5-0.2 2.5 0 2.5 0 2.5-0.1 2.5 0.1 2.5 0.4 2.5 0 2.5-0.3 2.5 0 2.5 0.6 2.5-0.1 2.5-0.1 2.5-0.1 2.5 0.1 2.5-0.1 2.5 0.2 2.5 0.2 2.5 0.1 2.5-0.4 2.5 0 2.5 0.4 2.5 0.2 2.5-0.4 2.5-0.1 2.5 0.1 2.5 0.2 2.5 0.1 2.5 0 2.5-0.1 2.5-0.1 2.5-0.2 2.5-0.1 2.5-0.2 2.5 0.1 2.5 0.1 2.5 0.2 2.5 0.3 2.5 0.1 2.5 0 2.5-0.2 2.5-0.5 2.5 0.2 2.5 0.2 2.5-0.2 2.5-0.1 2.5 0.4 2.5 0.4 2.5-0.1 2.5-0.2 2.5 0.1 2.5 0.2 2.5 0.2 2.5-0.1 2.5-0.4 2.5-0.1 2.5 0 2.5-0.1 2.5 0 2.5 0 2.5-0.2 2.5-0.1 2.5 0.2 2.5-0.1 2.5-0.2 2.5-0.1 2.5 0.5 2.5 0.1 2.5-0.1 2.5 0.1 2.5 0 2.5 0 2.5 0.3 2.5-0.1 2.5 0.1 2.5 0.1 2.5-0.4 2.5-0.2 2.5 0 2.5 0.2 2.5-0.2 2.5 0 2.5 0.4 2.5 0 2.5-0.3 2.5 0.3 2.5 0.2 2.5 0.5 2.5-0.3 2.5-0.6 2.5-0.3 2.5-0.1 2.5 0.2 2.5 0.2 2.5 0.1 2-0.3" fill="none" stroke="#ff1e0a" stroke-width="2.1" stroke-linejoin="round"/>
<path d="M60.5 891.1l2.5 0.2 2.5 0 2.5 0.3 2.5-0.2 2.5-0.5 2.5-0.1 2.5 0 2.5 0.1 2.5 0 2.5 0.3 2.5 0.1 2.5-0.1 2.5-0.3 2.5-0.2 2.5 0.5 2.5 0 2.5 0.1 2.5-0.1 2.5 0 2.5 0.2 2.5-0.2 2.5-0.3 2.5-0.4 2.5 0 2.5-0.1 2.5-0.1 2.5 0 2.5 0.1 2.5-0.2 2.5-0.7 2.5-0.1 2.5 0 2.5 0 2.5-0.4 2.5-0.2 2.5-0.3 2.5-0.1 2.5-0.4 2.5-0.6 2.5-0.6 2.5-0.6 2.5-0.1 2.5-0.4 2.5-0.6 2.5-0.7 2.5-1.2 2.5-0.9 2.5-0.4 2.5-0.3 2.5-0.5 2.5-0.6 2.5-0.7 2.5-0.7 2.5-1 2.5-1.1 2.5-0.5 2.5-0.3 2.5-1.2 2.5-0.4 2.5-0.1 2.5-0.8 2.5-0.8 2.5-0.3 2.5-0.1 2.5-0.4 2.5-0.5 2.5-0.1 2.5 0 2.5 0.2 2.5 0 2.5-0.4 2.5-0.1 2.5 0.7 2.5 0.7 2.5 0.2 2.5 0.5 2.5 0.6 2.5 0.2 2.5 0.6 2.5 0.6 2.5 0.8 2.5 1 2.5 0.9 2.5 0.5 2.5 0.6 2.5 0.9 2.5 1.2 2.5 1 2.5 0.8 2.5 0.7 2.5 1 2.5 1.1 2.5 0.6 2.5 0.8 2.5 0.5 2.5 0.2 2.5 0.3 2.5 0.8 2.5 0.3 2.5 0 2.5-0.6 2.5-0.4 2.5-0.1 2.5 0.2 2.5 0.2 2.5-0.4 2.5-0.6 2.5-0.5 2.5-0.6 2.5-0.7 2.5-0.5 2.5-0.8 2.5-1 2.5-0.1 2.5 0 2.5-0.5 2.5-0.5 2.5-0.4 2.5 0 2.5 0.1 2.5-0.4 2.5-0.6 2.5-0.3 2.5 0.5 2.5 0.2 2.5 0.6 2.5 1.1 2.5 0.5 2.5 0.2 2.5 0.8 2.5 0.6 2.5 0.2 2.5 0.4 2.5 0 2.5 0.1 2.5 0.3 2.5 0.6 2.5 0.4 2.5-0.1 2.5 0 2.5 0.2 2.5 0.4 2.5 0.2 2.5 0.2 2.5-0.2 2.5-0.1 2.5 0.4 2.5 0.4 2.5 0.4 2.5 0.9 2.5 0.9 2.5 0.5 2.5 1 2.5 1.1 2.5 0.5 2.5 0.5 2.5 0.8 2.5 0.9 2.5 0.5 2.5 0.2 2.5 0.3 2.5 0.4 2.5-0.1 2.5-0.4 2.5 0.2 2.5 0.2 2.5 0.1 2.5-0.2 2.5-0.2 2.5-0.1 2.5-0.2 2.5 0.3 2.5 0.1 2.5 0.1 2.5-0.2 2.5-0.1 2.5-0.1 2.5 0.2 2.5 0.3 2.5 0 2.5-0.1 2.5-0.2 2.5 0 2-0.2" fill="none" stroke="#ff1e0a" stroke-width="4" stroke-linejoin="round"/>
<path d="M724 678.3l2.5 0.1 2.5-0.1 2.5-0.3 2.5-0.1 2.5 0.1 2.5-0.1 2.5-0.1 2.5-0.5 2.5-0.2 2.5 0.1 2.5 0.2 2.5-0.4 2.5-0.1 2.5 0.3 2.5 0.2 2.5 0.3 2.5-0.2 2.5-0.4 2.5-0.5 2.5-0.6 2.5 0 2.5 0.2 2.5 0 2.5-0.2 2.5 0 2.5 0.4 2.5 0.5 2.5 0.2 2.5 0 2.5 0.2 2.5 0.4 2.5 0.2 2.5 0.2 2.5 0.4 2.5 0.8 2.5 0.7 2.5 0.4 2.5 0.4 2.5 0.5 2.5 0.6 2.5 0 2.5-0.2 2.5 0.4 2.5 0.8 2.5 0.5 2.5 0.3 2.5 0.1 2.5-0.2 2.5-0.2 2.5 0 2.5 0.1 2.5 0.2 2.5 0.2 2.5 0.2 2.5 0 2.5-0.1 2.5 0.5 2.5 0.1 2.5-0.3 2.5 0.2 2.5 0.2 2.5-0.1 2.5 0.2 2.5 0 2.5 0.1 2.5-0.2 2.5-0.1 2.5 0.2 2.5 0 2.5-0.1 2.5-0.3 2.5-0.1 2.5 0 2.5 0.1 2.5 0.2 2.5 0 2.5 0 2.5 0 2.5 0.2 2.5 0.3 2.5-0.1 2.5-0.4 2.5 0 2.5-0.1 2.5 0 2.5-0.1 2.5-0.2 2.5-0.3 2.5 0 2.5 0.6 2.5 0.3 2.5-0.2 2.5 0 2.5 0 2.5-0.1 2.5-0.1 2.5 0 2.5-0.1 2.5-0.3 2.5 0.3 2.5 0 2.5-0.3 2.5 0.5 2.5 0.2 2.5 0 2.5-0.1 2.5-0.2 2.5-0.2 2.5 0.1 2.5 0.4 2.5 0.6 2.5-0.1 2.5-0.6 2.5-0.1 2.5 0.2 2.5 0 2.5-0.3 2.5 0.1 2.5 0.5 2.5-0.2 2.5-0.7 2.5-0.2 2.5 0.3 2.5 0.3 2.5 0.1 2.5-0.3 2.5-0.2 2.5 0.4 2.5 0.2 2.5-0.2 2.5 0 2.5 0.1 2.5-0.2 2.5-0.2 2.5 0.1 2.5 0 2.5 0.3 2.5 0 2.5-0.3 2.5 0.2 2.5 0.1 2.5-0.5 2.5 0.3 2.5 0.3 2.5-0.5 2.5-0.1 2.5 0 2.5-0.1 2.5-0.3 2.5 0.1 2.5 0.4 2.5 0.3 2.5 0.2 2.5 0.1 2.5 0.2 2.5-0.1 2.5-0.2 2.5-0.3 2.5 0.4 2.5 0.8 2.5 0 2.5-0.4 2.5-0.2 2.5-0.1 2.5-0.1 2.5 0.2 2.5-0.3 2.5 0.1 2.5 0.1 2.5-0.6 2.5 0 2.5-0.2 2.5 0.1 2.5 0.2 2.5 0.1 2.5 0 2.5-0.1 2.5-0.1 2.5-0.1 2.5 0 2.5 0 2.5 0.2 2.5 0 2 0.2 M724 689.1l2.5-0.2 2.5-0.2 2.5 0 2.5-0.2 2.5 0 2.5 0.4 2.5 0.5 2.5-0.1 2.5-0.4 2.5-0.2 2.5 0.1 2.5 0 2.5-0.4 2.5-0.4 2.5-0.1 2.5 0.3 2.5 0 2.5-0.9 2.5-0.6 2.5 0.2 2.5-0.1 2.5-0.1 2.5-0.1 2.5-0.4 2.5-0.7 2.5-0.2 2.5 0.2 2.5 0 2.5 0 2.5-0.1 2.5 0.1 2.5 0 2.5 0.4 2.5 0.4 2.5 0.6 2.5 0.5 2.5 0.1 2.5 0.4 2.5 0.9 2.5 0.4 2.5 0.4 2.5 0.7 2.5 0.6 2.5 0.5 2.5 0.3 2.5 0.3 2.5 0 2.5 0.4 2.5 0.5 2.5 0.4 2.5 0.3 2.5 0.2 2.5 0.2 2.5-0.1 2.5 0.1 2.5 0.5 2.5 0.2 2.5-0.2 2.5 0.3 2.5 0.1 2.5-0.3 2.5-0.3 2.5 0 2.5 0.5 2.5 0.3 2.5-0.3 2.5-0.2 2.5 0 2.5 0.1 2.5 0 2.5-0.5 2.5-0.1 2.5 0.7 2.5 0.2 2.5-0.1 2.5 0.3 2.5-0.1 2.5-0.5 2.5 0.2 2.5 0.3 2.5-0.2 2.5 0 2.5 0.2 2.5-0.2 2.5-0.3 2.5-0.1 2.5 0.1 2.5 0.2 2.5-0.1 2.5 0.2 2.5-0.2 2.5 0 2.5-0.1 2.5 0.3 2.5 0.4 2.5 0.2 2.5-0.1 2.5-0.3 2.5-0.1 2.5 0.1 2.5 0 2.5 0 2.5 0.1 2.5 0.1 2.5 0 2.5 0 2.5-0.2 2.5-0.3 2.5-0.1 2.5-0.1 2.5 0.1 2.5 0.3 2.5 0 2.5 0.1 2.5 0.5 2.5-0.2 2.5-0.1 2.5-0.3 2.5-0.5 2.5 0.2 2.5 0.3 2.5-0.4 2.5 0.1 2.5 0 2.5 0 2.5 0 2.5-0.2 2.5 0.1 2.5 0 2.5 0.1 2.5 0.6 2.5 0.5 2.5-0.4 2.5-0.4 2.5-0.2 2.5-0.1 2.5 0.3 2.5 0.2 2.5-0.1 2.5-0.1 2.5 0.1 2.5 0.1 2.5-0.5 2.5 0.1 2.5 0.2 2.5-0.2 2.5-0.4 2.5 0 2.5 0.2 2.5 0.1 2.5-0.2 2.5 0.1 2.5 0.4 2.5 0.1 2.5-0.3 2.5-0.1 2.5 0.3 2.5 0.5 2.5-0.2 2.5-0.1 2.5 0.3 2.5 0.2 2.5-0.3 2.5-0.6 2.5 0 2.5 0 2.5-0.1 2.5-0.1 2.5 0 2.5 0.1 2.5 0.2 2.5-0.1 2.5-0.3 2.5-0.1 2.5 0.3 2.5 0.4 2.5 0 2.5-0.4 2.5-0.6 2.5 0.3 2.5 0.3 2.5 0 2.5-0.1 2 0.1 M724 699.9l2.5-0.1 2.5 0.4 2.5 0.1 2.5-0.3 2.5 0.1 2.5 0.2 2.5-0.3 2.5-0.4 2.5-0.3 2.5 0.5 2.5 0.1 2.5-0.4 2.5-0.4 2.5-0.3 2.5 0 2.5 0.1 2.5-0.1 2.5-0.4 2.5 0.1 2.5-0.2 2.5-0.4 2.5-0.5 2.5-0.1 2.5-0.1 2.5-0.6 2.5-0.7 2.5-0.1 2.5-0.1 2.5-0.7 2.5-0.2 2.5 0.1 2.5 0 2.5 0 2.5-0.4 2.5-0.2 2.5 0.6 2.5 0.6 2.5 0 2.5 0.3 2.5 0.4 2.5 0.4 2.5 0.8 2.5 0.6 2.5 0.3 2.5 0 2.5 0.2 2.5 0.6 2.5 1.2 2.5 0.9 2.5 0.9 2.5 0.6 2.5 0.1 2.5 0.3 2.5 0.6 2.5 0.4 2.5 0 2.5 0.2 2.5 0.1 2.5 0.2 2.5 0.2 2.5-0.1 2.5 0 2.5 0.4 2.5 0.1 2.5-0.1 2.5 0.1 2.5 0.1 2.5 0 2.5 0.2 2.5 0.2 2.5 0.2 2.5 0 2.5-0.2 2.5-0.3 2.5-0.1 2.5 0.2 2.5 0.5 2.5-0.3 2.5 0 2.5-0.1 2.5-0.5 2.5-0.2 2.5 0.1 2.5-0.1 2.5-0.1 2.5 0.4 2.5 0.5 2.5 0 2.5-0.2 2.5-0.3 2.5-0.2 2.5 0.4 2.5 0 2.5-0.2 2.5 0.1 2.5-0.1 2.5-0.1 2.5-0.2 2.5 0 2.5 0.2 2.5 0.3 2.5 0.1 2.5 0 2.5-0.2 2.5 0.2 2.5 0.1 2.5-0.4 2.5 0.3 2.5 0.1 2.5-0.3 2.5-0.1 2.5-0.1 2.5-0.3 2.5 0 2.5 0.1 2.5 0.1 2.5 0.4 2.5-0.2 2.5-0.9 2.5 0.2 2.5 0.6 2.5 0.2 2.5 0.1 2.5 0.1 2.5 0.1 2.5 0.2 2.5 0 2.5-0.3 2.5-0.3 2.5-0.4 2.5 0 2.5 0.2 2.5 0.6 2.5 0.3 2.5-0.5 2.5-0.6 2.5 0.1 2.5 0.2 2.5 0.2 2.5 0.1 2.5-0.3 2.5-0.5 2.5 0.4 2.5 0 2.5 0 2.5 0.3 2.5-0.3 2.5-0.5 2.5 0.1 2.5 0.5 2.5 0.5 2.5 0.1 2.5-0.3 2.5-0.1 2.5 0.3 2.5 0 2.5 0.1 2.5-0.1 2.5-0.2 2.5 0 2.5 0 2.5-0.2 2.5-0.1 2.5 0.1 2.5 0 2.5 0.2 2.5 0 2.5-0.1 2.5 0 2.5 0.2 2.5 0.3 2.5-0.3 2.5-0.3 2.5 0.1 2.5 0.2 2.5-0.1 2.5-0.1 2.5 0 2.5 0.1 2.5 0.1 2.5-0.2 2.5-0.5 2.5-0.2 2 0 M724 710.7l2.5 0.1 2.5 0 2.5 0.1 2.5-0.2 2.5 0 2.5-0.3 2.5 0.2 2.5 0.1 2.5-0.4 2.5-0.2 2.5 0.3 2.5 0.1 2.5 0.2 2.5 0 2.5-0.4 2.5-0.1 2.5 0 2.5-0.4 2.5-0.6 2.5 0 2.5 0 2.5-0.4 2.5-0.4 2.5-0.5 2.5-0.5 2.5-0.7 2.5-0.3 2.5 0.2 2.5-0.5 2.5-0.6 2.5-0.5 2.5-0.1 2.5 0.1 2.5 0.3 2.5-0.9 2.5-0.4 2.5 0.5 2.5-0.1 2.5-0.6 2.5 0.5 2.5 0.4 2.5 0.1 2.5 0.5 2.5 0.3 2.5 0.3 2.5 0.7 2.5 0.6 2.5 0.9 2.5 1.3 2.5 0.3 2.5 0.5 2.5 0.9 2.5 0.7 2.5 0.7 2.5 0.3 2.5 0.4 2.5 0.4 2.5 0.3 2.5 0.3 2.5 0.5 2.5 0.4 2.5-0.2 2.5-0.1 2.5 0.3 2.5 0.4 2.5 0.2 2.5 0 2.5-0.4 2.5 0.2 2.5 0 2.5 0 2.5-0.1 2.5-0.3 2.5 0.4 2.5 0.1 2.5-0.3 2.5 0.4 2.5 0.4 2.5-0.2 2.5-0.1 2.5-0.2 2.5-0.3 2.5 0 2.5 0.4 2.5 0.5 2.5-0.1 2.5-0.3 2.5 0.1 2.5-0.2 2.5-0.1 2.5 0 2.5-0.3 2.5 0 2.5 0.4 2.5-0.3 2.5 0 2.5-0.1 2.5 0.2 2.5 0.1 2.5-0.4 2.5-0.2 2.5 0.4 2.5 0.1 2.5-0.1 2.5 0.3 2.5 0.2 2.5-0.2 2.5-0.2 2.5-0.1 2.5 0.4 2.5 0.5 2.5 0.4 2.5-0.3 2.5-0.2 2.5-0.1 2.5-0.4 2.5 0.1 2.5-0.3 2.5 0 2.5 0.4 2.5 0.1 2.5-0.1 2.5-0.6 2.5 0.1 2.5-0.1 2.5-0.2 2.5-0.1 2.5 0.5 2.5 0 2.5-0.5 2.5-0.3 2.5 0.4 2.5 0.6 2.5-0.2 2.5-0.2 2.5 0.1 2.5 0 2.5 0.1 2.5 0.1 2.5 0 2.5-0.2 2.5-0.4 2.5 0 2.5 0.1 2.5 0.1 2.5-0.1 2.5-0.1 2.5 0.2 2.5 0.3 2.5-0.3 2.5-0.1 2.5 0.5 2.5 0.3 2.5-0.2 2.5-0.1 2.5-0.2 2.5 0.3 2.5 0.5 2.5 0 2.5-0.3 2.5-0.4 2.5-0.2 2.5 0.4 2.5 0.4 2.5 0.4 2.5 0.1 2.5-0.3 2.5-0.3 2.5-0.3 2.5 0.4 2.5 0.3 2.5 0.1 2.5-0.2 2.5-0.1 2.5 0 2.5-0.3 2.5 0.1 2.5 0.1 2.5-0.6 2.5-0.1 2.5 0.4 2.5 0.2 2.5 0.1 2-0.1 M724 721.7l2.5 0.4 2.5 0.1 2.5-0.2 2.5 0.2 2.5-0.1 2.5-0.1 2.5-0.1 2.5-0.8 2.5 0 2.5 0.5 2.5-0.1 2.5-0.1 2.5 0.4 2.5-0.3 2.5-0.5 2.5 0 2.5 0.3 2.5-0.1 2.5-0.8 2.5-0.2 2.5-0.3 2.5-0.5 2.5-0.2 2.5-0.4 2.5 0 2.5 0.1 2.5-0.4 2.5-0.5 2.5-0.5 2.5-0.5 2.5-0.6 2.5-0.8 2.5-0.4 2.5-0.2 2.5-0.6 2.5-0.2 2.5 0.1 2.5-0.2 2.5-0.7 2.5-0.2 2.5 0.3 2.5 0 2.5 0 2.5 0.5 2.5 0.4 2.5 0.7 2.5 1.1 2.5 0.4 2.5 0.5 2.5 0.9 2.5 1 2.5 0.4 2.5 0.2 2.5 0.7 2.5 0.7 2.5 0.6 2.5 0.7 2.5 0.6 2.5 0.5 2.5 0.4 2.5 0.4 2.5 0.2 2.5 0.5 2.5 0.3 2.5 0 2.5-0.1 2.5 0.5 2.5-0.2 2.5 0.1 2.5 0.4 2.5-0.1 2.5-0.2 2.5-0.2 2.5 0.3 2.5 0.5 2.5 0.1 2.5-0.1 2.5 0 2.5 0 2.5-0.2 2.5 0.1 2.5 0.4 2.5-0.2 2.5 0.1 2.5 0.1 2.5 0 2.5-0.3 2.5 0.1 2.5 0 2.5-0.1 2.5-0.1 2.5-0.1 2.5 0 2.5 0.1 2.5 0.2 2.5-0.2 2.5-0.3 2.5 0.1 2.5 0.1 2.5 0.1 2.5 0.4 2.5 0 2.5-0.2 2.5-0.3 2.5 0.1 2.5 0.1 2.5-0.3 2.5 0.2 2.5 0 2.5-0.1 2.5 0 2.5-0.2 2.5 0.1 2.5-0.3 2.5 0.2 2.5 0.3 2.5-0.3 2.5-0.3 2.5 0.4 2.5-0.4 2.5-0.5 2.5 0.6 2.5 0.6 2.5 0.1 2.5 0 2.5-0.2 2.5-0.3 2.5-0.2 2.5 0.2 2.5 0.4 2.5-0.2 2.5-0.5 2.5-0.4 2.5 0 2.5 0.1 2.5 0.3 2.5-0.1 2.5 0 2.5 0 2.5 0.3 2.5-0.3 2.5 0.2 2.5 0.5 2.5-0.4 2.5-0.4 2.5 0.3 2.5 0.2 2.5-0.2 2.5-0.5 2.5 0.1 2.5 0.2 2.5 0.6 2.5 0.1 2.5-0.1 2.5 0.2 2.5 0 2.5-0.1 2.5 0.3 2.5-0.3 2.5-0.2 2.5 0.6 2.5 0.4 2.5-0.1 2.5-0.4 2.5-0.2 2.5 0.4 2.5 0.3 2.5-0.1 2.5-0.2 2.5-0.3 2.5 0.2 2.5-0.2 2.5-0.6 2.5-0.2 2.5 0.3 2.5 0.4 2.5 0.1 2.5-0.1 2.5-0.1 2.5 0.1 2.5 0.1 2.5 0.1 2.5 0 2-0.1 M724 732l2.5 0.2 2.5 0.6 2.5 0 2.5-0.3 2.5-0.1 2.5-0.1 2.5-0.1 2.5 0.3 2.5 0.3 2.5 0.1 2.5-0.3 2.5 0 2.5-0.1 2.5 0 2.5-0.3 2.5 0 2.5-0.3 2.5-0.2 2.5 0 2.5 0.1 2.5 0 2.5-0.1 2.5-0.8 2.5-1 2.5-0.4 2.5-0.4 2.5 0 2.5-0.3 2.5-0.8 2.5-0.6 2.5-0.2 2.5-0.3 2.5-0.2 2.5-0.6 2.5-0.5 2.5-0.5 2.5-0.9 2.5-0.6 2.5-0.5 2.5 0 2.5 0.1 2.5-0.1 2.5-0.5 2.5-0.3 2.5-0.1 2.5 0.2 2.5 0.8 2.5 0.6 2.5-0.2 2.5 0.6 2.5 1.4 2.5 0.6 2.5 0.9 2.5 0.9 2.5 1.2 2.5 1 2.5 0.7 2.5 0.8 2.5 0.6 2.5 0.9 2.5 0.9 2.5 0.2 2.5-0.1 2.5 0.2 2.5 0.5 2.5 0.4 2.5 0.2 2.5 0.2 2.5 0.4 2.5 0.1 2.5 0.1 2.5 0.1 2.5 0 2.5 0 2.5 0.4 2.5 0 2.5 0 2.5 0.1 2.5 0.1 2.5-0.1 2.5-0.2 2.5-0.4 2.5-0.2 2.5 0.3 2.5 0.1 2.5 0.2 2.5 0.2 2.5-0.5 2.5 0.1 2.5 0.5 2.5 0.1 2.5-0.2 2.5-0.6 2.5-0.1 2.5 0.4 2.5 0.2 2.5 0.2 2.5-0.1 2.5-0.2 2.5 0 2.5-0.2 2.5 0 2.5-0.1 2.5 0 2.5 0 2.5 0 2.5-0.4 2.5 0 2.5 0.5 2.5 0 2.5-0.3 2.5 0 2.5 0.2 2.5 0.3 2.5-0.3 2.5 0.2 2.5-0.2 2.5-0.1 2.5 0 2.5 0 2.5 0.3 2.5-0.1 2.5-0.4 2.5 0.1 2.5 0.5 2.5 0 2.5-0.5 2.5-0.2 2.5 0 2.5 0.1 2.5 0 2.5-0.4 2.5-0.1 2.5 0.1 2.5 0.5 2.5 0.1 2.5-0.4 2.5 0 2.5 0 2.5-0.4 2.5-0.1 2.5 0.3 2.5 0 2.5 0 2.5 0.2 2.5-0.4 2.5-0.4 2.5 0.4 2.5 0.4 2.5 0.4 2.5-0.2 2.5 0 2.5 0.2 2.5-0.1 2.5-0.1 2.5 0.2 2.5 0.3 2.5 0.6 2.5 0 2.5-0.7 2.5-0.4 2.5 0 2.5 0.1 2.5 0.1 2.5 0.3 2.5 0.1 2.5-0.5 2.5-0.4 2.5 0.2 2.5 0.8 2.5 0.1 2.5-0.7 2.5-0.2 2.5 0.6 2.5 0.4 2.5 0 2.5-0.1 2.5 0 2.5-0.2 2.5 0 2.5 0.3 2.5-0.3 2.5-0.5 2-0.1 M724 743.8l2.5 0 2.5 0.2 2.5-0.2 2.5-0.5 2.5 0.1 2.5 0.6 2.5-0.1 2.5-0.4 2.5-0.1 2.5-0.1 2.5-0.2 2.5 0 2.5-0.1 2.5 0.1 2.5 0 2.5-0.1 2.5 0.1 2.5 0 2.5 0 2.5 0 2.5-0.1 2.5-0.4 2.5-0.4 2.5-0.5 2.5-0.4 2.5-0.6 2.5-0.3 2.5-0.2 2.5-0.5 2.5-0.6 2.5-0.7 2.5-0.3 2.5-0.7 2.5-0.7 2.5-0.5 2.5-0.6 2.5-0.9 2.5-1 2.5-0.7 2.5-0.3 2.5-0.3 2.5 0.2 2.5-0.3 2.5-0.9 2.5-0.1 2.5 0.6 2.5 0.5 2.5 0.1 2.5 0.4 2.5 0.5 2.5 0.8 2.5 0.9 2.5 0.5 2.5 0.3 2.5 1 2.5 1 2.5 0.8 2.5 0.9 2.5 0.9 2.5 0.9 2.5 1 2.5 0.4 2.5 0.4 2.5 0.7 2.5 1 2.5 0.8 2.5 0.3 2.5 0.3 2.5-0.2 2.5-0.4 2.5 0.4 2.5 0 2.5-0.1 2.5 0.4 2.5 0.5 2.5-0.4 2.5 0.2 2.5 0.5 2.5-0.2 2.5-0.5 2.5 0.1 2.5 0.1 2.5 0.2 2.5 0.2 2.5-0.2 2.5 0.1 2.5 0.1 2.5-0.5 2.5 0.1 2.5 0.1 2.5-0.2 2.5-0.1 2.5 0 2.5 0.2 2.5 0.2 2.5 0.3 2.5 0.1 2.5-0.2 2.5-0.2 2.5 0.1 2.5-0.2 2.5-0.1 2.5 0.4 2.5 0.1 2.5-0.2 2.5-0.2 2.5 0.5 2.5 0.3 2.5-0.5 2.5-0.5 2.5 0.1 2.5 0.1 2.5 0 2.5 0 2.5 0 2.5-0.1 2.5-0.1 2.5-0.1 2.5 0.2 2.5 0.1 2.5-0.2 2.5-0.1 2.5-0.3 2.5 0 2.5 0.2 2.5 0.1 2.5-0.2 2.5-0.1 2.5-0.4 2.5 0.2 2.5 0.3 2.5-0.2 2.5-0.6 2.5 0 2.5 0.2 2.5-0.2 2.5 0.1 2.5 0 2.5 0.2 2.5 0.6 2.5-0.1 2.5-0.5 2.5-0.5 2.5 0.1 2.5 0.1 2.5 0.1 2.5 0.1 2.5-0.3 2.5 0.2 2.5 0.3 2.5 0.2 2.5 0.4 2.5-0.2 2.5 0.1 2.5 0 2.5-0.4 2.5 0.1 2.5 0.4 2.5 0.7 2.5 0.2 2.5-0.1 2.5-0.4 2.5-0.5 2.5 0.3 2.5 0.3 2.5 0.5 2.5 0.3 2.5 0.1 2.5-0.3 2.5-0.4 2.5-0.4 2.5-0.1 2.5 0 2.5 0.2 2.5-0.2 2.5 0 2.5 0 2.5 0.1 2.5 0.2 2.5-0.1 2.5 0 2.5 0 2.5 0.3 2-0.1 M724 754.3l2.5 0 2.5-0.1 2.5-0.3 2.5 0.2 2.5 0.2 2.5 0.3 2.5-0.1 2.5-0.4 2.5-0.2 2.5 0.2 2.5 0.1 2.5-0.2 2.5 0 2.5 0.2 2.5 0 2.5 0 2.5-0.3 2.5-0.6 2.5-0.2 2.5 0.3 2.5-0.2 2.5-0.3 2.5-0.4 2.5-0.4 2.5-0.4 2.5-0.5 2.5-0.1 2.5-0.1 2.5 0 2.5-0.6 2.5-0.8 2.5-0.6 2.5-0.6 2.5-0.9 2.5-0.7 2.5-0.4 2.5-0.3 2.5-1.2 2.5-1.1 2.5 0 2.5-0.2 2.5-0.7 2.5-0.1 2.5-0.7 2.5-0.5 2.5-0.5 2.5-0.3 2.5-0.1 2.5 0 2.5 0.4 2.5 1 2.5 0.6 2.5 0.9 2.5 0.8 2.5 0.8 2.5 1 2.5 1 2.5 0.9 2.5 1.1 2.5 0.9 2.5 0.6 2.5 0.7 2.5 1 2.5 1.1 2.5 1.1 2.5 0.6 2.5 0.3 2.5 0.4 2.5 0.3 2.5 0.3 2.5 0.1 2.5 0.1 2.5 0.1 2.5 0.3 2.5 0.2 2.5-0.3 2.5 0 2.5 0.2 2.5 0.4 2.5 0.1 2.5-0.6 2.5-0.5 2.5 0.6 2.5 0.1 2.5-0.4 2.5 0.1 2.5 0 2.5-0.2 2.5 0.4 2.5 0.3 2.5-0.2 2.5-0.3 2.5-0.1 2.5 0.2 2.5 0.1 2.5 0 2.5 0.4 2.5-0.3 2.5-0.3 2.5 0.5 2.5-0.1 2.5-0.3 2.5-0.1 2.5-0.2 2.5 0 2.5-0.3 2.5 0.3 2.5 0.7 2.5 0.1 2.5-0.5 2.5-0.1 2.5 0.2 2.5 0 2.5 0 2.5-0.1 2.5-0.2 2.5-0.1 2.5-0.2 2.5 0.2 2.5-0.3 2.5-0.1 2.5 0.1 2.5 0.3 2.5 0.1 2.5-0.1 2.5-0.1 2.5-0.2 2.5-0.4 2.5-0.6 2.5-0.4 2.5 0.1 2.5 0.5 2.5 0.1 2.5 0 2.5 0 2.5-0.2 2.5-0.4 2.5-0.3 2.5 0.1 2.5 0.7 2.5 0 2.5-0.5 2.5 0.1 2.5 0.4 2.5 0.1 2.5-0.3 2.5 0.1 2.5 0.1 2.5-0.3 2.5 0.2 2.5 0.4 2.5 0.5 2.5 0.7 2.5 0.1 2.5-0.2 2.5-0.1 2.5 0.4 2.5 0 2.5-0.2 2.5-0.2 2.5-0.1 2.5 0.4 2.5 0.4 2.5 0.1 2.5-0.1 2.5-0.1 2.5-0.3 2.5 0 2.5 0.3 2.5-0.1 2.5-0.2 2.5 0.2 2.5 0.2 2.5-0.1 2.5-0.2 2.5-0.1 2.5 0.3 2.5 0.2 2.5-0.3 2.5-0.3 2.5 0 2.5-0.1 2.5 0.1 2 0.2 M724 764.9l2.5 0.2 2.5 0 2.5-0.3 2.5-0.1 2.5 0.2 2.5-0.1 2.5 0.1 2.5 0.5 2.5-0.2 2.5-0.6 2.5-0.1 2.5 0 2.5-0.2 2.5-0.1 2.5 0.5 2.5 0.2 2.5-0.2 2.5-0.3 2.5 0 2.5-0.1 2.5-0.5 2.5-0.2 2.5 0 2.5 0 2.5-0.4 2.5-0.7 2.5-0.1 2.5-0.1 2.5-0.8 2.5-0.6 2.5-0.4 2.5-0.4 2.5-0.8 2.5-1.1 2.5-0.8 2.5-0.5 2.5-0.4 2.5-0.9 2.5-1 2.5-0.4 2.5-1 2.5-0.9 2.5-0.5 2.5-0.6 2.5-0.5 2.5-0.3 2.5-0.1 2.5-0.3 2.5-0.1 2.5 0.5 2.5 0.5 2.5 0.8 2.5 0.7 2.5 0.7 2.5 0.9 2.5 1 2.5 0.6 2.5 0.8 2.5 1 2.5 0.7 2.5 1.4 2.5 1.3 2.5 1.1 2.5 1.1 2.5 0.8 2.5 0.4 2.5 0.6 2.5 0.6 2.5 0.2 2.5 0.4 2.5 0.7 2.5 0.5 2.5 0.3 2.5-0.4 2.5-0.3 2.5 0.6 2.5 0.4 2.5 0 2.5 0.3 2.5 0 2.5-0.6 2.5-0.3 2.5 0.1 2.5 0.4 2.5 0.2 2.5-0.2 2.5-0.5 2.5-0.2 2.5-0.1 2.5-0.1 2.5 0 2.5 0.1 2.5 0.5 2.5 0.3 2.5 0.1 2.5-0.2 2.5-0.2 2.5 0.1 2.5 0.2 2.5-0.2 2.5 0 2.5-0.1 2.5-0.1 2.5 0 2.5 0 2.5 0.2 2.5-0.3 2.5 0.1 2.5 0 2.5 0.5 2.5-0.1 2.5-0.5 2.5-0.2 2.5-0.1 2.5 0.3 2.5 0.4 2.5 0.2 2.5-0.6 2.5 0 2.5-0.1 2.5 0 2.5 0.2 2.5-0.1 2.5-0.3 2.5-0.2 2.5-0.1 2.5 0.1 2.5-0.1 2.5-0.6 2.5-0.2 2.5-0.2 2.5 0 2.5 0.2 2.5 0.6 2.5 0.3 2.5-0.4 2.5-0.7 2.5-0.2 2.5-0.1 2.5 0.4 2.5 0.3 2.5-0.1 2.5-0.2 2.5-0.5 2.5-0.5 2.5 0 2.5 0.6 2.5 0.6 2.5 0.3 2.5 0 2.5 0.2 2.5 0.4 2.5 0.4 2.5-0.1 2.5 0 2.5 0.5 2.5 0.2 2.5-0.2 2.5-0.3 2.5 0 2.5-0.3 2.5-0.1 2.5 0.4 2.5 0.3 2.5 0.4 2.5 0.2 2.5-0.1 2.5 0.1 2.5-0.3 2.5-0.2 2.5-0.2 2.5 0.1 2.5 0 2.5 0.1 2.5-0.1 2.5-0.3 2.5 0.1 2.5 0.1 2.5 0.2 2.5 0.1 2.5-0.2 2.5-0.2 2.5 0 2 0.2 M724 775.8l2.5 0.2 2.5-0.3 2.5-0.2 2.5-0.1 2.5-0.3 2.5 0.2 2.5 0.2 2.5 0.5 2.5 0.2 2.5-0.6 2.5-0.5 2.5 0.3 2.5 0.2 2.5 0 2.5-0.3 2.5-0.3 2.5 0 2.5 0.2 2.5 0.2 2.5-0.4 2.5-0.4 2.5-0.1 2.5-0.4 2.5-0.1 2.5-0.1 2.5-0.3 2.5-0.2 2.5-0.1 2.5-0.7 2.5-0.9 2.5-0.4 2.5-0.4 2.5-0.8 2.5-0.7 2.5-0.6 2.5-0.8 2.5-0.9 2.5-1 2.5-0.9 2.5-0.7 2.5-0.7 2.5-0.4 2.5-0.9 2.5-0.7 2.5-0.5 2.5-0.5 2.5-0.4 2.5-0.4 2.5-0.3 2.5-0.1 2.5 0.4 2.5 0.7 2.5 0.3 2.5 0.5 2.5 1 2.5 1.3 2.5 1.2 2.5 0.6 2.5 1.2 2.5 1.1 2.5 1 2.5 1.1 2.5 0.8 2.5 1.3 2.5 0.8 2.5 0.7 2.5 1.2 2.5 0.8 2.5 0.2 2.5-0.1 2.5 0.4 2.5 0.6 2.5 0.6 2.5 0.2 2.5-0.4 2.5 0.2 2.5 0.4 2.5 0.3 2.5-0.3 2.5-0.3 2.5 0.1 2.5 0 2.5 0 2.5 0.2 2.5 0.1 2.5-0.1 2.5 0.1 2.5 0.7 2.5 0.1 2.5-0.5 2.5-0.8 2.5-0.3 2.5 0.3 2.5 0.7 2.5 0.6 2.5-0.2 2.5-0.3 2.5 0.2 2.5 0 2.5-0.1 2.5 0 2.5-0.2 2.5-0.5 2.5-0.1 2.5 0.3 2.5 0.1 2.5-0.5 2.5-0.1 2.5 0.1 2.5-0.1 2.5 0.6 2.5 0 2.5 0.2 2.5 0 2.5-0.7 2.5 0 2.5 0.6 2.5-0.3 2.5-0.3 2.5 0.2 2.5 0.2 2.5-0.1 2.5-0.4 2.5-0.3 2.5 0 2.5 0.1 2.5 0.1 2.5-0.1 2.5 0 2.5-0.5 2.5 0.1 2.5 0.4 2.5-0.2 2.5-0.6 2.5-0.5 2.5-0.2 2.5 0.2 2.5 0 2.5-0.3 2.5-0.3 2.5 0.1 2.5 0.4 2.5 0 2.5-0.4 2.5-0.2 2.5 0 2.5 0.7 2.5 1 2.5-0.3 2.5-0.3 2.5 0 2.5 0 2.5 0.3 2.5 0.7 2.5 0.6 2.5 0.2 2.5-0.2 2.5 0.4 2.5 0.1 2.5-0.4 2.5 0 2.5 0 2.5 0.4 2.5 0.4 2.5-0.3 2.5-0.2 2.5-0.1 2.5 0.2 2.5 0.2 2.5-0.2 2.5-0.1 2.5 0.2 2.5-0.1 2.5-0.4 2.5 0 2.5 0.2 2.5 0.3 2.5 0.2 2.5 0 2.5-0.1 2.5-0.5 2.5-0.1 2.5 0 2 0.2 M724 785.9l2.5 0.3 2.5 0.3 2.5 0.2 2.5 0.1 2.5-0.2 2.5-0.3 2.5 0 2.5 0 2.5-0.1 2.5 0.4 2.5 0 2.5-0.3 2.5 0.2 2.5 0.7 2.5-0.3 2.5-0.2 2.5 0 2.5-0.2 2.5-0.3 2.5-0.3 2.5-0.3 2.5-0.2 2.5-0.3 2.5 0 2.5-0.2 2.5-0.4 2.5-0.1 2.5-0.5 2.5-0.4 2.5-0.6 2.5-0.6 2.5-0.4 2.5-0.2 2.5-0.6 2.5-0.9 2.5-1 2.5-1 2.5-1.1 2.5-1 2.5-0.7 2.5-1 2.5-1.1 2.5-1 2.5-0.5 2.5-0.4 2.5-0.7 2.5-0.4 2.5-0.5 2.5-0.5 2.5-0.1 2.5 0.1 2.5 0.4 2.5 0.6 2.5 0.7 2.5 0.3 2.5 0.7 2.5 1.4 2.5 1.2 2.5 1.4 2.5 1.7 2.5 1.1 2.5 0.9 2.5 1 2.5 1 2.5 0.9 2.5 0.6 2.5 0.6 2.5 1 2.5 1.2 2.5 0.5 2.5 0.1 2.5 0.5 2.5 0.3 2.5 0.3 2.5 0.1 2.5 0.2 2.5 0 2.5-0.1 2.5 0.1 2.5 0.1 2.5-0.2 2.5 0.1 2.5 0.4 2.5-0.4 2.5-0.6 2.5-0.3 2.5 0 2.5 0.7 2.5 0.4 2.5-0.4 2.5-0.1 2.5 0 2.5 0.5 2.5 0.1 2.5 0.1 2.5 0.3 2.5 0.1 2.5-0.4 2.5-0.5 2.5-0.4 2.5-0.1 2.5 0.3 2.5 0.5 2.5 0 2.5-0.1 2.5 0.2 2.5 0.1 2.5-0.2 2.5 0 2.5-0.1 2.5-0.4 2.5-0.2 2.5 0.2 2.5-0.1 2.5 0 2.5 0.1 2.5 0.1 2.5 0 2.5-0.3 2.5 0 2.5 0 2.5-0.1 2.5 0 2.5-0.1 2.5 0 2.5-0.5 2.5-0.3 2.5 0.2 2.5 0.2 2.5-0.4 2.5-0.2 2.5 0 2.5 0 2.5-0.1 2.5-0.2 2.5-0.2 2.5 0.4 2.5-0.1 2.5-0.3 2.5 0.3 2.5 0 2.5-0.1 2.5-0.3 2.5 0.2 2.5-0.3 2.5-0.3 2.5 0.4 2.5 0.1 2.5 0 2.5 0.2 2.5 0.3 2.5 0.6 2.5 0.5 2.5 0.4 2.5 0.4 2.5 0 2.5-0.2 2.5 0.1 2.5 0.3 2.5 0.2 2.5-0.2 2.5-0.1 2.5 0.3 2.5 0 2.5 0.2 2.5 0.1 2.5-0.4 2.5-0.3 2.5-0.1 2.5 0.2 2.5 0.4 2.5 0 2.5-0.3 2.5 0.3 2.5 0.1 2.5 0.1 2.5 0.2 2.5-0.4 2.5-0.3 2.5-0.1 2.5 0 2.5 0.5 2.5 0.1 2-0.3 M724 796.3l2.5 0.1 2.5-0.1 2.5-0.1 2.5 0.2 2.5 0.2 2.5 0.1 2.5-0.1 2.5-0.6 2.5 0.1 2.5 0.5 2.5 0.2 2.5 0.2 2.5-0.3 2.5-0.4 2.5 0.1 2.5-0.1 2.5 0.3 2.5 0.5 2.5 0 2.5-0.5 2.5-0.2 2.5-0.2 2.5-0.5 2.5-0.8 2.5 0 2.5 0.2 2.5-0.3 2.5-0.5 2.5-0.1 2.5-0.4 2.5-0.9 2.5-0.8 2.5-0.7 2.5-0.5 2.5-0.4 2.5-0.9 2.5-1.4 2.5-1.3 2.5-0.8 2.5-0.5 2.5-0.9 2.5-0.9 2.5-0.9 2.5-0.9 2.5-1 2.5-0.9 2.5-0.5 2.5-0.1 2.5-0.2 2.5-0.4 2.5 0.1 2.5 0.4 2.5 0.1 2.5 0.5 2.5 0.5 2.5 0.5 2.5 0.9 2.5 1.3 2.5 1.4 2.5 1.4 2.5 1 2.5 1.4 2.5 1.4 2.5 1.2 2.5 1.2 2.5 0.8 2.5 0.4 2.5 0.8 2.5 1 2.5 1 2.5 0.5 2.5 0.6 2.5 0.5 2.5-0.1 2.5 0.2 2.5 0.2 2.5 0.2 2.5 0.4 2.5 0.2 2.5-0.1 2.5-0.3 2.5-0.2 2.5-0.1 2.5-0.2 2.5-0.1 2.5 0.4 2.5 0.3 2.5-0.2 2.5-0.2 2.5 0.1 2.5 0.1 2.5 0.2 2.5 0.1 2.5-0.4 2.5 0 2.5 0.2 2.5-0.2 2.5-0.3 2.5-0.2 2.5 0.2 2.5 0.5 2.5 0.1 2.5-0.4 2.5 0.1 2.5 0.2 2.5 0 2.5-0.1 2.5-0.1 2.5-0.1 2.5-0.4 2.5-0.2 2.5-0.4 2.5-0.2 2.5 0.2 2.5 0.1 2.5 0.6 2.5 0.2 2.5-0.4 2.5-0.2 2.5 0 2.5-0.1 2.5 0.1 2.5-0.1 2.5-0.3 2.5-0.2 2.5 0.1 2.5 0.1 2.5 0 2.5 0.1 2.5-0.2 2.5-0.1 2.5-0.6 2.5-0.1 2.5 0.3 2.5 0 2.5 0 2.5 0.2 2.5-0.3 2.5-0.3 2.5-0.1 2.5 0.4 2.5 0 2.5-0.5 2.5-0.4 2.5 0.2 2.5 0.2 2.5 0.3 2.5 0.2 2.5-0.1 2.5 0.4 2.5 0.5 2.5 0.2 2.5 0 2.5 0.1 2.5 0.2 2.5 0.4 2.5 0.6 2.5 0 2.5-0.3 2.5 0.1 2.5-0.5 2.5-0.1 2.5 1 2.5 0.2 2.5-0.5 2.5-0.1 2.5 0.3 2.5-0.1 2.5-0.2 2.5 0.1 2.5 0.1 2.5 0 2.5 0.2 2.5-0.1 2.5-0.2 2.5 0 2.5 0 2.5 0.3 2.5-0.3 2.5 0.1 2.5 0.3 2.5 0.1 2.5 0.1 2 0 M724 807.1l2.5-0.3 2.5-0.1 2.5 0.4 2.5-0.2 2.5 0 2.5 0.3 2.5 0.2 2.5 0.4 2.5 0 2.5-0.3 2.5-0.2 2.5-0.2 2.5-0.4 2.5 0.1 2.5 0.1 2.5-0.1 2.5-0.1 2.5-0.2 2.5 0.4 2.5 0 2.5-0.6 2.5 0.1 2.5 0.2 2.5-0.5 2.5-0.7 2.5-0.2 2.5 0.2 2.5-0.2 2.5-0.9 2.5-0.7 2.5-0.6 2.5-0.5 2.5-0.5 2.5-0.8 2.5-0.6 2.5-0.5 2.5-1.1 2.5-1.1 2.5-0.7 2.5-1.1 2.5-1 2.5-0.9 2.5-1.1 2.5-0.6 2.5-0.5 2.5-0.9 2.5-0.8 2.5-0.8 2.5-0.6 2.5 0.1 2.5 0.3 2.5 0.1 2.5 0.1 2.5 0.2 2.5 0.6 2.5 1 2.5 1.2 2.5 1.2 2.5 1 2.5 1 2.5 1.2 2.5 1.2 2.5 1 2.5 0.8 2.5 1.1 2.5 1.4 2.5 1.4 2.5 0.9 2.5 0.9 2.5 0.6 2.5 0.4 2.5 0.7 2.5 0.3 2.5 0.2 2.5 0.3 2.5-0.3 2.5 0 2.5 0.5 2.5 0.2 2.5-0.3 2.5-0.3 2.5 0.3 2.5 0.6 2.5 0.5 2.5-0.2 2.5-0.6 2.5-0.3 2.5 0 2.5-0.1 2.5 0.2 2.5 0.1 2.5-0.2 2.5 0 2.5-0.1 2.5 0.1 2.5 0.4 2.5-0.1 2.5-0.4 2.5-0.1 2.5 0.2 2.5 0.2 2.5 0.2 2.5 0.1 2.5-0.4 2.5-0.2 2.5 0.5 2.5 0.1 2.5-0.1 2.5-0.3 2.5-0.6 2.5 0 2.5 0.2 2.5 0.1 2.5-0.3 2.5 0.1 2.5 0.4 2.5-0.1 2.5-0.2 2.5 0.1 2.5-0.5 2.5 0 2.5 0 2.5 0 2.5-0.3 2.5-0.2 2.5 0 2.5-0.2 2.5 0.2 2.5 0 2.5 0 2.5-0.3 2.5-0.2 2.5 0.2 2.5-0.1 2.5-0.6 2.5 0.2 2.5 0.1 2.5-0.5 2.5 0 2.5 0.2 2.5-0.1 2.5 0.1 2.5 0.3 2.5-0.5 2.5-0.4 2.5-0.2 2.5 0.3 2.5 0.6 2.5 0.9 2.5 0.2 2.5 0 2.5 0.8 2.5 0.3 2.5 0.1 2.5 0.3 2.5 0.1 2.5-0.3 2.5-0.1 2.5 0.3 2.5 0.3 2.5 0 2.5 0.1 2.5 0.2 2.5-0.1 2.5 0.1 2.5-0.1 2.5-0.1 2.5-0.1 2.5 0 2.5-0.2 2.5-0.1 2.5 0.4 2.5 0.3 2.5 0.1 2.5-0.2 2.5-0.3 2.5-0.3 2.5-0.3 2.5 0.5 2.5 0.8 2.5 0.2 2.5-0.2 2.5-0.1 2-0.1 M724 817.5l2.5 0 2.5 0.2 2.5 0.1 2.5-0.5 2.5 0 2.5 0.5 2.5 0 2.5-0.1 2.5-0.3 2.5-0.1 2.5 0 2.5 0.1 2.5-0.1 2.5 0 2.5 0.3 2.5-0.3 2.5-0.6 2.5 0 2.5-0.1 2.5-0.1 2.5 0 2.5 0 2.5-0.1 2.5-0.5 2.5-0.4 2.5 0.1 2.5-0.1 2.5-0.5 2.5-0.2 2.5-0.4 2.5-0.7 2.5-0.6 2.5-0.9 2.5-0.8 2.5-0.7 2.5-0.4 2.5-0.7 2.5-1.2 2.5-1.1 2.5-1.4 2.5-1 2.5-0.6 2.5-0.5 2.5-1 2.5-1 2.5-1.1 2.5-0.3 2.5-0.3 2.5-0.8 2.5-0.6 2.5 0.4 2.5 0.5 2.5 0.3 2.5 0 2.5 0.2 2.5 1 2.5 1.2 2.5 0.9 2.5 1.3 2.5 1.1 2.5 1.4 2.5 1.4 2.5 1.3 2.5 1.7 2.5 0.8 2.5 0.7 2.5 0.8 2.5 0.9 2.5 0.6 2.5 0.4 2.5 0.6 2.5 0.8 2.5 0.3 2.5-0.3 2.5 0.3 2.5 0.7 2.5 0.5 2.5 0.1 2.5-0.2 2.5 0.2 2.5-0.1 2.5-0.1 2.5 0.2 2.5 0.2 2.5 0 2.5-0.2 2.5-0.3 2.5-0.3 2.5-0.1 2.5 0 2.5 0.1 2.5 0.1 2.5 0.2 2.5 0.1 2.5 0 2.5-0.1 2.5 0.1 2.5-0.1 2.5 0.1 2.5-0.1 2.5-0.1 2.5-0.3 2.5-0.4 2.5 0.2 2.5 0.6 2.5 0 2.5-0.2 2.5-0.2 2.5 0.2 2.5 0.3 2.5-0.5 2.5-0.2 2.5-0.1 2.5-0.3 2.5-0.1 2.5 0.1 2.5 0.1 2.5 0.1 2.5 0.1 2.5-0.2 2.5 0.2 2.5 0.3 2.5-0.3 2.5-0.8 2.5-0.4 2.5 0.7 2.5 0.1 2.5-0.1 2.5 0.1 2.5-0.3 2.5-0.2 2.5-0.2 2.5 0 2.5-0.1 2.5 0.1 2.5 0.2 2.5-0.3 2.5-0.3 2.5 0.3 2.5 0 2.5-0.4 2.5 0 2.5 0.1 2.5 0 2.5 0.2 2.5 0.1 2.5 0.1 2.5 0.4 2.5-0.2 2.5 0.3 2.5 1 2.5 0.5 2.5-0.2 2.5 0 2.5 0.3 2.5 0.6 2.5 0.1 2.5-0.1 2.5 0.4 2.5 0.4 2.5 0.2 2.5 0.2 2.5-0.1 2.5-0.4 2.5-0.1 2.5 0.2 2.5 0.2 2.5 0 2.5-0.1 2.5-0.1 2.5 0 2.5 0 2.5-0.4 2.5-0.1 2.5 0.5 2.5 0 2.5-0.3 2.5-0.1 2.5-0.2 2.5-0.2 2.5 0 2.5 0.1 2.5 0.3 2 0.2 M724 827.9l2.5 0 2.5-0.3 2.5-0.3 2.5 0.4 2.5 0.5 2.5-0.2 2.5-0.1 2.5-0.2 2.5 0 2.5 0.2 2.5 0.3 2.5 0.2 2.5-0.5 2.5-0.4 2.5-0.3 2.5-0.3 2.5 0.1 2.5 0.2 2.5 0 2.5 0.4 2.5 0 2.5-0.6 2.5-0.4 2.5 0 2.5 0.1 2.5-0.2 2.5-0.7 2.5-0.4 2.5-0.4 2.5-0.5 2.5-0.8 2.5-0.9 2.5-0.7 2.5-0.4 2.5-0.4 2.5-0.2 2.5-0.5 2.5-1 2.5-1.3 2.5-1 2.5-1.3 2.5-1 2.5-0.7 2.5-1.4 2.5-1 2.5-0.5 2.5-0.4 2.5-0.7 2.5-0.4 2.5-0.6 2.5-0.3 2.5 0.3 2.5 0.1 2.5 0.1 2.5 0.5 2.5 1.1 2.5 1.3 2.5 1.2 2.5 1 2.5 1.2 2.5 1.1 2.5 1.3 2.5 1 2.5 1 2.5 1.3 2.5 1.4 2.5 1.2 2.5 0.8 2.5 0.4 2.5 0.8 2.5 0.7 2.5 0.4 2.5 0.5 2.5 0.2 2.5 0.2 2.5 0.4 2.5 0 2.5 0.2 2.5-0.1 2.5-0.3 2.5-0.1 2.5 0 2.5 0 2.5 0 2.5-0.1 2.5 0.4 2.5 0.3 2.5-0.3 2.5-0.8 2.5-0.5 2.5 0.3 2.5 0.3 2.5 0.1 2.5-0.2 2.5 0 2.5-0.1 2.5 0 2.5 0.3 2.5-0.2 2.5 0.1 2.5 0.1 2.5-0.3 2.5 0.2 2.5 0.3 2.5-0.2 2.5 0.1 2.5-0.1 2.5-0.1 2.5 0 2.5-0.2 2.5 0 2.5 0.2 2.5 0 2.5-0.3 2.5-0.3 2.5 0.3 2.5 0.4 2.5-0.1 2.5-0.3 2.5-0.4 2.5 0 2.5 0.3 2.5 0.2 2.5-0.1 2.5-0.1 2.5-0.2 2.5-0.1 2.5-0.3 2.5-0.2 2.5 0 2.5 0.2 2.5 0 2.5-0.5 2.5-0.2 2.5 0 2.5-0.3 2.5 0 2.5 0.3 2.5 0.5 2.5 0.1 2.5-0.4 2.5-0.2 2.5 0.1 2.5-0.1 2.5 0.1 2.5 0.4 2.5 0 2.5-0.1 2.5 0.3 2.5 0.5 2.5 0.1 2.5 0.2 2.5 0.2 2.5 0.5 2.5 0.6 2.5 0.3 2.5 0.4 2.5 0 2.5-0.5 2.5 0.1 2.5 0.7 2.5 0.2 2.5 0.3 2.5-0.3 2.5-0.2 2.5 0.2 2.5-0.1 2.5-0.1 2.5 0 2.5 0.4 2.5 0.1 2.5-0.1 2.5 0.1 2.5-0.3 2.5-0.2 2.5-0.5 2.5 0.2 2.5 1 2.5 0.2 2.5-0.4 2.5-0.6 2.5 0.2 2.5 0.2 2 0 M724 838.1l2.5-0.1 2.5 0.3 2.5 0.2 2.5-0.1 2.5 0 2.5-0.2 2.5-0.2 2.5-0.1 2.5 0 2.5 0 2.5 0.2 2.5 0 2.5 0 2.5 0.1 2.5-0.3 2.5-0.4 2.5-0.1 2.5-0.1 2.5-0.1 2.5 0.2 2.5-0.2 2.5-0.3 2.5 0.1 2.5 0.2 2.5-0.2 2.5-0.2 2.5-0.4 2.5-0.5 2.5-0.2 2.5-0.5 2.5-0.7 2.5-0.9 2.5-0.7 2.5-0.8 2.5-0.5 2.5-0.6 2.5-0.5 2.5-0.9 2.5-1.1 2.5-1.1 2.5-0.8 2.5-0.6 2.5-0.9 2.5-1 2.5-1.3 2.5-0.9 2.5-0.7 2.5-0.6 2.5-0.7 2.5-0.4 2.5 0.1 2.5 0.1 2.5 0.1 2.5 0.1 2.5 0.3 2.5 1.2 2.5 1 2.5 0.7 2.5 1 2.5 1.4 2.5 1.3 2.5 1.3 2.5 1.8 2.5 1.3 2.5 0.6 2.5 0.9 2.5 1.5 2.5 1.4 2.5 0.7 2.5 0.5 2.5 0.2 2.5 0.4 2.5 0.4 2.5 0.8 2.5 0 2.5-0.6 2.5 0.1 2.5 0.6 2.5 0.1 2.5-0.1 2.5 0.3 2.5 0.1 2.5-0.6 2.5-0.6 2.5-0.1 2.5-0.1 2.5 0 2.5 0.2 2.5-0.2 2.5-0.2 2.5 0 2.5-0.1 2.5 0.2 2.5-0.1 2.5 0 2.5 0 2.5 0 2.5-0.1 2.5-0.1 2.5-0.1 2.5-0.1 2.5 0 2.5 0.5 2.5-0.2 2.5-0.3 2.5 0 2.5 0 2.5 0.1 2.5-0.2 2.5-0.1 2.5-0.2 2.5 0 2.5 0.2 2.5 0.3 2.5-0.4 2.5-0.1 2.5 0.4 2.5 0 2.5-0.5 2.5-0.2 2.5 0.4 2.5 0 2.5-0.5 2.5-0.2 2.5 0.3 2.5 0.4 2.5 0 2.5 0 2.5-0.2 2.5 0 2.5 0 2.5-0.1 2.5-0.1 2.5-0.3 2.5 0 2.5 0.2 2.5-0.1 2.5-0.1 2.5 0.2 2.5 0.1 2.5-0.3 2.5 0 2.5 0.4 2.5 0.2 2.5-0.6 2.5-0.3 2.5 0.1 2.5 0.2 2.5 0.1 2.5 0.5 2.5 0.9 2.5 0.7 2.5 0.5 2.5 0.2 2.5 0.2 2.5 0.4 2.5 0 2.5 0.1 2.5 0.2 2.5 0.6 2.5 0.1 2.5-0.3 2.5 0 2.5 0.1 2.5 0.1 2.5 0.1 2.5 0 2.5-0.2 2.5-0.3 2.5-0.1 2.5 0.2 2.5 0.6 2.5 0.2 2.5-0.1 2.5 0.1 2.5 0.1 2.5-0.4 2.5-0.6 2.5-0.1 2.5-0.3 2.5 0.2 2.5 0.1 2.5 0.3 2 0.1 M724 848.5l2.5-0.1 2.5-0.2 2.5-0.3 2.5 0.3 2.5 0.1 2.5 0 2.5 0.3 2.5-0.1 2.5-0.3 2.5-0.3 2.5-0.2 2.5 0.2 2.5 0.1 2.5 0.4 2.5 0.1 2.5-0.5 2.5-0.3 2.5 0.1 2.5 0 2.5 0.2 2.5-0.1 2.5-0.2 2.5 0.1 2.5 0.1 2.5-0.2 2.5-0.6 2.5-0.3 2.5-0.6 2.5-0.5 2.5-0.1 2.5-0.5 2.5-0.7 2.5-0.7 2.5-0.9 2.5-0.8 2.5-0.3 2.5-0.9 2.5-1.1 2.5-0.9 2.5-1 2.5-1.2 2.5-1.1 2.5-1 2.5-0.8 2.5-0.7 2.5-0.5 2.5-1 2.5-0.7 2.5-0.5 2.5-0.3 2.5-0.1 2.5-0.2 2.5 0 2.5 0.4 2.5 0.6 2.5 1.2 2.5 1 2.5 0.8 2.5 0.8 2.5 1.3 2.5 1.3 2.5 1.5 2.5 1.6 2.5 1.1 2.5 1.1 2.5 1.3 2.5 1.2 2.5 0.7 2.5 0.2 2.5 0.7 2.5 0.6 2.5 0.4 2.5 0.4 2.5-0.1 2.5 0 2.5 0.4 2.5 0.6 2.5 0.3 2.5-0.5 2.5-0.5 2.5-0.3 2.5 0.3 2.5 0.1 2.5-0.2 2.5-0.5 2.5-0.3 2.5-0.2 2.5 0.1 2.5-0.4 2.5-0.1 2.5 0.7 2.5 0.2 2.5-0.2 2.5-0.2 2.5-0.2 2.5 0.1 2.5 0 2.5 0.2 2.5-0.3 2.5-0.4 2.5 0.5 2.5 0.3 2.5-0.3 2.5 0 2.5-0.3 2.5-0.5 2.5-0.1 2.5 0.5 2.5 0.1 2.5-0.1 2.5-0.3 2.5 0.1 2.5 0.3 2.5-0.1 2.5-0.3 2.5-0.1 2.5 0.3 2.5 0.2 2.5-0.2 2.5-0.2 2.5 0 2.5 0.3 2.5-0.2 2.5 0.1 2.5 0.2 2.5-0.4 2.5-0.5 2.5 0 2.5 0.4 2.5 0.4 2.5-0.2 2.5-0.1 2.5 0.2 2.5 0 2.5-0.3 2.5 0.2 2.5 0 2.5-0.5 2.5-0.4 2.5 0.4 2.5 0.4 2.5 0 2.5 0.2 2.5-0.3 2.5-0.3 2.5 0.3 2.5 0.3 2.5 0.1 2.5 0.2 2.5 0.4 2.5 0.1 2.5 0.3 2.5 0.2 2.5 0.6 2.5 0.7 2.5 0.3 2.5 0.3 2.5 0.4 2.5 0.4 2.5 0.4 2.5 0.2 2.5 0 2.5-0.3 2.5-0.3 2.5-0.2 2.5 0.1 2.5-0.1 2.5 0.1 2.5 0.4 2.5-0.2 2.5 0.2 2.5 0.2 2.5 0.1 2.5 0.4 2.5-0.4 2.5-0.2 2.5 0.2 2.5-0.5 2.5-0.4 2.5 0.1 2.5 0.2 2.5 0.3 2.5-0.1 2-0.2 M724 859l2.5-0.5 2.5-0.1 2.5 0.3 2.5 0.2 2.5-0.3 2.5 0.4 2.5 0.1 2.5-0.3 2.5 0 2.5-0.1 2.5 0.2 2.5 0 2.5-0.1 2.5 0.2 2.5 0.1 2.5-0.3 2.5-0.8 2.5-0.1 2.5 0.5 2.5-0.2 2.5-0.2 2.5-0.3 2.5-0.2 2.5 0 2.5-0.2 2.5-0.2 2.5-0.2 2.5-0.4 2.5-0.3 2.5-0.6 2.5-0.1 2.5-0.9 2.5-0.5 2.5-0.6 2.5-0.9 2.5-0.9 2.5-1.2 2.5-1.2 2.5-0.5 2.5-0.8 2.5-1.5 2.5-1.3 2.5-0.7 2.5-0.6 2.5-0.7 2.5-0.6 2.5-0.8 2.5-0.9 2.5-0.6 2.5 0.2 2.5-0.1 2.5-0.2 2.5-0.1 2.5 0.3 2.5 0.9 2.5 1.1 2.5 1 2.5 1 2.5 1.1 2.5 0.9 2.5 1.2 2.5 1.3 2.5 1.5 2.5 1.2 2.5 1.4 2.5 1 2.5 0.6 2.5 1.3 2.5 0.7 2.5 0.1 2.5 0.2 2.5 0.5 2.5 0.3 2.5 0.6 2.5 0.6 2.5 0.4 2.5-0.1 2.5 0.1 2.5 0.2 2.5-0.2 2.5-0.5 2.5-0.5 2.5-0.6 2.5-0.2 2.5 0 2.5-0.1 2.5-0.3 2.5 0 2.5 0.1 2.5-0.3 2.5-0.2 2.5 0 2.5 0.5 2.5 0.1 2.5-0.5 2.5-0.1 2.5 0.2 2.5-0.3 2.5-0.5 2.5-0.2 2.5 0.3 2.5 0.5 2.5 0 2.5 0.3 2.5-0.4 2.5-0.2 2.5 0.1 2.5-0.2 2.5-0.2 2.5-0.3 2.5-0.2 2.5 0.2 2.5 0.2 2.5-0.2 2.5-0.2 2.5 0.4 2.5 0.1 2.5-0.2 2.5-0.3 2.5 0 2.5 0.5 2.5 0.1 2.5 0.1 2.5 0.3 2.5-0.1 2.5-0.3 2.5-0.2 2.5 0.1 2.5 0.1 2.5-0.1 2.5-0.2 2.5 0.1 2.5 0.1 2.5 0 2.5 0 2.5 0.1 2.5-0.1 2.5-0.1 2.5-0.2 2.5-0.3 2.5-0.1 2.5 0.2 2.5 0.4 2.5 0.2 2.5-0.3 2.5-0.2 2.5 0.3 2.5 0.5 2.5 0.1 2.5 0.2 2.5 0.4 2.5 0.3 2.5 0.6 2.5 0.7 2.5 0.4 2.5 0.4 2.5 0.9 2.5 0.4 2.5-0.3 2.5 0.3 2.5 0.5 2.5 0.3 2.5-0.5 2.5-0.3 2.5 0.4 2.5 0.4 2.5-0.2 2.5 0 2.5-0.1 2.5-0.8 2.5-0.1 2.5 0.8 2.5 0.1 2.5-0.4 2.5 0.2 2.5 0.1 2.5-0.1 2.5-0.2 2.5-0.1 2.5 0 2.5 0.2 2.5 0.3 2.5 0.3 2-0.3 M724 869.4l2.5 0.2 2.5 0.1 2.5-0.5 2.5 0 2.5 0.1 2.5-0.3 2.5-0.2 2.5 0.2 2.5 0.3 2.5 0 2.5-0.1 2.5-0.1 2.5 0 2.5-0.2 2.5-0.1 2.5 0.2 2.5 0.2 2.5-0.1 2.5-0.4 2.5 0.3 2.5 0.3 2.5-0.2 2.5-0.7 2.5-0.5 2.5-0.1 2.5-0.1 2.5-0.2 2.5-0.3 2.5-0.5 2.5-0.9 2.5-0.8 2.5-0.7 2.5-0.5 2.5-0.4 2.5-0.3 2.5-0.4 2.5-1.2 2.5-1.2 2.5-0.9 2.5-1.3 2.5-0.9 2.5-0.7 2.5-1 2.5-1.2 2.5-1.2 2.5-1 2.5-0.5 2.5-0.5 2.5-0.2 2.5-0.4 2.5-0.3 2.5-0.2 2.5 0.4 2.5 0 2.5 0.3 2.5 0.8 2.5 1.3 2.5 1.6 2.5 1 2.5 0.9 2.5 1.4 2.5 1.2 2.5 0.9 2.5 1.1 2.5 1.1 2.5 1.1 2.5 0.9 2.5 1.2 2.5 0.9 2.5 0.7 2.5 0.8 2.5 0.8 2.5 0.3 2.5 0.3 2.5 0.3 2.5 0.1 2.5-0.2 2.5-0.4 2.5-0.4 2.5-0.1 2.5 0 2.5-0.1 2.5 0 2.5-0.1 2.5-0.1 2.5 0 2.5-0.3 2.5-0.6 2.5-0.4 2.5-0.5 2.5 0.5 2.5 0 2.5-0.3 2.5-0.2 2.5 0.4 2.5-0.3 2.5-0.1 2.5 0.1 2.5-0.3 2.5-0.2 2.5 0.1 2.5-0.1 2.5 0.2 2.5 0.1 2.5-0.1 2.5-0.2 2.5 0.3 2.5 0.2 2.5 0 2.5-0.2 2.5 0.2 2.5 0 2.5-0.3 2.5-0.3 2.5 0.2 2.5 0 2.5-0.4 2.5-0.2 2.5 0.2 2.5 0.5 2.5 0 2.5 0 2.5-0.1 2.5-0.1 2.5-0.1 2.5 0 2.5 0.2 2.5-0.1 2.5-0.3 2.5-0.2 2.5 0.1 2.5-0.1 2.5 0.1 2.5 0.2 2.5-0.3 2.5 0.1 2.5 0.4 2.5 0 2.5-0.3 2.5 0 2.5-0.1 2.5-0.4 2.5-0.4 2.5 0.3 2.5 0.6 2.5 0.1 2.5-0.2 2.5 0.3 2.5 0.4 2.5 0.4 2.5 0.8 2.5 0.8 2.5 0.2 2.5 0.5 2.5 0.4 2.5 0.5 2.5 0.4 2.5 0.5 2.5 0.3 2.5 0.4 2.5 0.1 2.5 0 2.5 0.4 2.5-0.3 2.5 0.3 2.5 0.3 2.5-0.3 2.5 0.3 2.5 0.1 2.5-0.5 2.5-0.3 2.5 0.4 2.5-0.1 2.5-0.1 2.5 0.2 2.5-0.1 2.5 0.1 2.5-0.2 2.5 0 2.5-0.3 2.5 0 2.5-0.1 2.5 0.1 2 0.3 M724 879.4l2.5 0.3 2.5 0.3 2.5 0.1 2.5-0.3 2.5-0.2 2.5 0 2.5-0.1 2.5-0.1 2.5-0.3 2.5-0.1 2.5 0.2 2.5 0 2.5-0.2 2.5 0 2.5 0.3 2.5 0.2 2.5 0 2.5 0.1 2.5 0.1 2.5-0.3 2.5-0.4 2.5-0.5 2.5-0.4 2.5 0.1 2.5 0 2.5-0.2 2.5 0.1 2.5-0.2 2.5-0.8 2.5-0.6 2.5-1 2.5-0.7 2.5-0.4 2.5-0.6 2.5-0.8 2.5-0.8 2.5-0.4 2.5-1.1 2.5-1.1 2.5-1 2.5-1.1 2.5-1.3 2.5-1.2 2.5-0.9 2.5-0.5 2.5-1.1 2.5-1.1 2.5-0.5 2.5-0.1 2.5 0.3 2.5 0 2.5 0 2.5 0.2 2.5 0.1 2.5 0.4 2.5 0.4 2.5 0.9 2.5 1.1 2.5 1.2 2.5 1.4 2.5 1.6 2.5 1.3 2.5 0.9 2.5 1 2.5 1.6 2.5 1.3 2.5 0.7 2.5 0.7 2.5 1.1 2.5 0.7 2.5 0.1 2.5 0.4 2.5 0.3 2.5 0.6 2.5 0.6 2.5-0.2 2.5-0.2 2.5-0.2 2.5 0.2 2.5 0.3 2.5-0.4 2.5-0.8 2.5-0.4 2.5 0.1 2.5 0.1 2.5-0.4 2.5-0.3 2.5-0.6 2.5-0.3 2.5 0.2 2.5-0.3 2.5-0.5 2.5-0.2 2.5 0 2.5-0.2 2.5 0 2.5 0.5 2.5 0.1 2.5-0.1 2.5-0.3 2.5 0 2.5 0.1 2.5 0.2 2.5 0 2.5-0.3 2.5-0.4 2.5-0.3 2.5 0.1 2.5 0 2.5 0 2.5 0.2 2.5 0.5 2.5-0.3 2.5-0.7 2.5 0 2.5 0.2 2.5 0.4 2.5 0.2 2.5-0.2 2.5 0 2.5 0.1 2.5 0.3 2.5 0.1 2.5-0.2 2.5-0.1 2.5-0.2 2.5-0.3 2.5-0.1 2.5 0.3 2.5 0 2.5-0.1 2.5 0 2.5-0.1 2.5-0.2 2.5 0.2 2.5 0.4 2.5 0 2.5 0 2.5-0.5 2.5-0.2 2.5 0.4 2.5 0.2 2.5-0.1 2.5 0.3 2.5 0.3 2.5 0 2.5-0.2 2.5 0 2.5 0 2.5 0.7 2.5 0.8 2.5 0.6 2.5 0.2 2.5 0.5 2.5 0.8 2.5 0.7 2.5 0 2.5 0.7 2.5 1 2.5 0 2.5-0.3 2.5 0.3 2.5 0.3 2.5 0 2.5-0.2 2.5-0.1 2.5 0.3 2.5 0.1 2.5 0.1 2.5-0.1 2.5-0.1 2.5 0.2 2.5-0.2 2.5-0.1 2.5-0.1 2.5-0.1 2.5 0 2.5 0 2.5 0.4 2.5 0.4 2.5 0.2 2.5-0.2 2.5-0.3 2 0.2 M724 900.1l2.5 0.1 2.5 0 2.5-0.1 2.5 0.5 2.5 0.3 2.5-0.3 2.5-0.7 2.5 0.2 2.5 0 2.5-0.6 2.5 0.3 2.5 0.5 2.5 0.2 2.5-0.3 2.5 0 2.5 0 2.5 0 2.5-0.1 2.5 0.2 2.5-0.2 2.5-0.4 2.5 0 2.5-0.3 2.5-0.1 2.5 0 2.5-0.3 2.5-0.3 2.5-0.3 2.5-0.6 2.5-0.8 2.5-0.7 2.5-0.3 2.5-0.5 2.5-0.9 2.5-0.9 2.5-0.8 2.5-1.2 2.5-1.2 2.5-0.8 2.5-0.8 2.5-1.1 2.5-1.4 2.5-1.1 2.5-0.8 2.5-0.9 2.5-0.7 2.5-0.5 2.5-0.5 2.5-0.3 2.5-0.5 2.5 0 2.5 0.1 2.5 0.2 2.5-0.1 2.5 0.4 2.5 0.9 2.5 0.7 2.5 1 2.5 1.4 2.5 1.2 2.5 1.2 2.5 1.5 2.5 1.4 2.5 1.3 2.5 1.3 2.5 1.2 2.5 1.3 2.5 0.8 2.5 0.6 2.5 0.8 2.5 0.8 2.5 0.5 2.5 0.3 2.5 0 2.5 0.3 2.5 0.3 2.5-0.2 2.5 0 2.5-0.3 2.5-0.7 2.5-0.4 2.5 0 2.5-0.4 2.5-0.4 2.5-0.2 2.5 0.2 2.5-0.2 2.5-0.3 2.5-0.1 2.5-0.2 2.5-0.2 2.5-0.2 2.5-0.4 2.5-0.4 2.5 0.4 2.5 0.1 2.5 0 2.5 0 2.5-0.8 2.5-0.2 2.5 0.7 2.5-0.1 2.5-0.4 2.5 0.1 2.5 0.2 2.5-0.1 2.5 0.4 2.5 0.4 2.5-0.2 2.5-0.3 2.5-0.3 2.5-0.1 2.5 0 2.5-0.1 2.5-0.2 2.5 0.2 2.5 0.5 2.5-0.2 2.5-0.4 2.5 0.2 2.5 0.5 2.5 0 2.5-0.4 2.5 0 2.5 0.1 2.5-0.3 2.5-0.4 2.5 0.1 2.5 0.1 2.5-0.1 2.5-0.1 2.5 0.3 2.5 0.3 2.5 0 2.5 0 2.5 0.1 2.5-0.4 2.5-0.2 2.5 0 2.5 0.2 2.5-0.1 2.5-0.3 2.5 0.3 2.5 0.6 2.5 0.1 2.5-0.1 2.5 0 2.5-0.2 2.5 0.2 2.5 0.4 2.5 0.7 2.5 0.8 2.5 1.1 2.5 0.9 2.5 0.9 2.5 0.7 2.5 0 2.5 0.2 2.5 0.3 2.5 0 2.5 0.2 2.5 0.2 2.5 0 2.5 0.3 2.5 0.1 2.5-0.6 2.5-0.3 2.5 0.4 2.5 0.1 2.5 0.1 2.5 0.1 2.5 0.2 2.5 0.2 2.5-0.1 2.5-0.4 2.5-0.5 2.5-0.3 2.5 0 2.5 0.5 2.5 0.3 2.5-0.1 2.5-0.2 2.5-0.2 2-0.1 M724 910.6l2.5 0.1 2.5-0.3 2.5 0.1 2.5 0.3 2.5-0.4 2.5-0.5 2.5 0.2 2.5 0.6 2.5 0 2.5 0.4 2.5 0.1 2.5-0.3 2.5-0.2 2.5-0.4 2.5-0.1 2.5 0.1 2.5 0.1 2.5-0.3 2.5 0 2.5 0.2 2.5-0.3 2.5-0.9 2.5-0.3 2.5 0.2 2.5 0.2 2.5-0.1 2.5 0 2.5 0 2.5-0.6 2.5-0.9 2.5-0.8 2.5-0.4 2.5-0.6 2.5-0.9 2.5-1 2.5-0.7 2.5-1 2.5-1.8 2.5-1.3 2.5-0.5 2.5-0.8 2.5-1.4 2.5-0.8 2.5-0.5 2.5-1.6 2.5-1.4 2.5-0.6 2.5-0.4 2.5-0.6 2.5-0.4 2.5 0 2.5-0.1 2.5 0.2 2.5 0.3 2.5 0.4 2.5 0.9 2.5 1 2.5 1.4 2.5 1 2.5 1.1 2.5 1.2 2.5 1.6 2.5 1.6 2.5 1.9 2.5 1.3 2.5 0.8 2.5 0.6 2.5 0.9 2.5 1.1 2.5 0.8 2.5 1 2.5 0.4 2.5 0.4 2.5 0.3 2.5 0.2 2.5 0.1 2.5-0.2 2.5 0.1 2.5 0.2 2.5-0.4 2.5-0.4 2.5-0.4 2.5-0.1 2.5-0.1 2.5-0.6 2.5-0.6 2.5 0.1 2.5 0 2.5 0 2.5-0.1 2.5-0.1 2.5-0.7 2.5-0.2 2.5 0.2 2.5-0.2 2.5 0 2.5-0.2 2.5-0.3 2.5 0.6 2.5 0.3 2.5-0.5 2.5-0.4 2.5 0.2 2.5-0.2 2.5 0.1 2.5 0.1 2.5-0.4 2.5-0.3 2.5 0.4 2.5 0.1 2.5-0.2 2.5 0.1 2.5 0.3 2.5-0.1 2.5-0.3 2.5 0 2.5 0.2 2.5 0 2.5-0.2 2.5-0.3 2.5 0.1 2.5 0.1 2.5 0.3 2.5 0.4 2.5 0 2.5-0.2 2.5-0.3 2.5-0.1 2.5 0 2.5-0.2 2.5-0.2 2.5 0 2.5 0.2 2.5 0.3 2.5 0.4 2.5-0.3 2.5-0.3 2.5 0.1 2.5-0.1 2.5 0.3 2.5 0.4 2.5 0.1 2.5-0.8 2.5-0.2 2.5 0.2 2.5 0.3 2.5 0.1 2.5-0.1 2.5 0.3 2.5 0.8 2.5 0.6 2.5 0.1 2.5 0.6 2.5 1.4 2.5 1 2.5 0.4 2.5 0 2.5 0.4 2.5 0.5 2.5 0.3 2.5 0 2.5 0.2 2.5 0.2 2.5-0.3 2.5-0.2 2.5 0 2.5 0.1 2.5 0.2 2.5 0 2.5 0.1 2.5 0.4 2.5-0.2 2.5-0.1 2.5 0.1 2.5-0.2 2.5-0.1 2.5-0.1 2.5-0.1 2.5 0.1 2.5-0.1 2.5-0.2 2.5 0.2 2.5 0.3 2 0.1 M724 920.8l2.5 0.2 2.5-0.1 2.5-0.4 2.5 0 2.5 0.1 2.5 0.2 2.5 0 2.5 0.1 2.5 0.3 2.5 0.1 2.5-0.4 2.5-0.5 2.5 0.3 2.5 0.4 2.5-0.1 2.5 0 2.5-0.3 2.5-0.6 2.5-0.2 2.5 0.5 2.5 0 2.5 0 2.5-0.3 2.5-0.1 2.5-0.1 2.5-0.7 2.5-0.4 2.5-0.5 2.5-0.2 2.5-0.3 2.5-0.6 2.5-0.9 2.5-1.1 2.5-0.5 2.5-0.5 2.5-0.7 2.5-0.9 2.5-1.5 2.5-1.7 2.5-1.1 2.5-0.8 2.5-1.1 2.5-1.3 2.5-0.8 2.5-1 2.5-1.1 2.5-0.8 2.5-0.7 2.5-0.5 2.5-0.3 2.5-0.3 2.5-0.2 2.5 0.2 2.5 0.1 2.5 0.8 2.5 1.2 2.5 1.5 2.5 1 2.5 0.9 2.5 1.3 2.5 1.6 2.5 1.7 2.5 1.5 2.5 0.7 2.5 1.3 2.5 1.2 2.5 1.6 2.5 1.2 2.5 1.1 2.5 0.6 2.5 0.8 2.5 0.5 2.5 0.4 2.5-0.3 2.5-0.5 2.5 0.3 2.5 0.3 2.5 0.5 2.5 0.1 2.5-0.3 2.5-0.1 2.5-0.3 2.5-0.2 2.5 0.2 2.5-0.5 2.5-0.6 2.5-0.6 2.5 0 2.5 0.1 2.5-0.2 2.5-0.2 2.5-0.1 2.5-0.3 2.5-0.1 2.5-0.3 2.5 0 2.5 0.3 2.5 0.3 2.5 0 2.5-0.3 2.5-0.3 2.5 0.1 2.5 0.4 2.5 0 2.5-0.6 2.5 0 2.5 0.2 2.5 0.1 2.5 0 2.5-0.1 2.5-0.2 2.5 0.2 2.5-0.2 2.5 0 2.5 0.3 2.5 0.2 2.5 0 2.5 0 2.5-0.1 2.5-0.3 2.5 0.1 2.5 0 2.5-0.6 2.5-0.5 2.5 0.3 2.5 0.6 2.5 0.1 2.5-0.4 2.5-0.1 2.5 0.1 2.5-0.2 2.5-0.6 2.5 0.1 2.5 0.2 2.5 0.1 2.5 0 2.5-0.1 2.5-0.2 2.5-0.1 2.5 0.9 2.5 0.1 2.5-0.4 2.5-0.3 2.5 0.4 2.5 0.6 2.5 0 2.5-0.5 2.5-0.2 2.5 0.5 2.5 0.6 2.5 0.6 2.5 0.3 2.5 0.8 2.5 0.9 2.5 0.7 2.5 0.6 2.5 0.1 2.5 0.2 2.5 0.6 2.5 0.5 2.5-0.1 2.5 0.1 2.5 0.3 2.5 0 2.5-0.2 2.5 0.1 2.5 0.1 2.5 0.1 2.5-0.1 2.5-0.3 2.5 0 2.5 0.1 2.5 0.2 2.5 0 2.5-0.2 2.5 0.1 2.5 0.3 2.5 0.2 2.5 0 2.5 0.2 2.5-0.3 2.5-0.2 2.5-0.3 2-0.1 M724 931.3l2.5-0.2 2.5 0.1 2.5-0.1 2.5 0.2 2.5 0.1 2.5-0.2 2.5-0.1 2.5-0.1 2.5-0.2 2.5 0.3 2.5 0.4 2.5 0.1 2.5-0.2 2.5 0 2.5 0.4 2.5 0 2.5-0.4 2.5 0.1 2.5 0 2.5-0.4 2.5-0.5 2.5-0.1 2.5 0.3 2.5 0.1 2.5-0.5 2.5-0.1 2.5-0.5 2.5-1 2.5-0.4 2.5-0.1 2.5-0.6 2.5-0.9 2.5-0.9 2.5-0.9 2.5-0.9 2.5-0.7 2.5-1.7 2.5-1.4 2.5-0.7 2.5-0.8 2.5-1.5 2.5-1.3 2.5-1.3 2.5-1 2.5-1.2 2.5-1 2.5-0.8 2.5-0.3 2.5-0.1 2.5-0.5 2.5-0.1 2.5 0.1 2.5-0.3 2.5 0.2 2.5 0.8 2.5 0.8 2.5 1.3 2.5 1.4 2.5 1 2.5 1.5 2.5 1.8 2.5 1.2 2.5 1.4 2.5 1.6 2.5 1.3 2.5 1.3 2.5 1.5 2.5 0.9 2.5 0.8 2.5 0.7 2.5 0.6 2.5 0.5 2.5 0.7 2.5 0.4 2.5 0.2 2.5-0.1 2.5 0 2.5 0.3 2.5-0.2 2.5-0.2 2.5-0.2 2.5-0.3 2.5-0.3 2.5-0.3 2.5 0.3 2.5 0.3 2.5-0.1 2.5-0.3 2.5-0.4 2.5-0.2 2.5-0.2 2.5-0.1 2.5-0.4 2.5-0.4 2.5 0.5 2.5 0.3 2.5-0.1 2.5-0.3 2.5 0.1 2.5-0.2 2.5-0.6 2.5-0.1 2.5 0.4 2.5 0.1 2.5 0 2.5 0.1 2.5 0 2.5-0.5 2.5-0.3 2.5 0.1 2.5 0 2.5 0.1 2.5 0.1 2.5-0.1 2.5 0.3 2.5 0.3 2.5 0.2 2.5 0 2.5-0.3 2.5-0.2 2.5 0.1 2.5 0 2.5-0.1 2.5-0.7 2.5-0.6 2.5 0.1 2.5 0.3 2.5 0.2 2.5-0.1 2.5-0.1 2.5-0.4 2.5 0 2.5 0.3 2.5-0.1 2.5 0 2.5 0.2 2.5-0.2 2.5-0.4 2.5-0.2 2.5-0.2 2.5 0.2 2.5 0.1 2.5-0.1 2.5 0.6 2.5 0.4 2.5-0.2 2.5 0.2 2.5 0.3 2.5 0.1 2.5 0.5 2.5 0.4 2.5 0.2 2.5 0.7 2.5 1 2.5 1 2.5 0.6 2.5 0.4 2.5 0.1 2.5 0.2 2.5 0.9 2.5 0.4 2.5-0.4 2.5-0.2 2.5 0 2.5-0.3 2.5-0.1 2.5 0 2.5 0.3 2.5 0.1 2.5-0.2 2.5-0.2 2.5-0.2 2.5 0.3 2.5 0.4 2.5 0 2.5 0 2.5-0.2 2.5-0.1 2.5 0 2.5 0.1 2.5 0 2.5-0.3 2.5 0.4 2 0.2 M724 942l2.5 0.1 2.5 0 2.5-0.3 2.5 0 2.5 0.4 2.5-0.2 2.5-0.3 2.5 0.2 2.5 0.1 2.5-0.2 2.5 0.2 2.5 0.2 2.5 0.2 2.5-0.2 2.5-0.2 2.5 0.2 2.5-0.1 2.5-0.4 2.5-0.2 2.5-0.1 2.5-0.1 2.5-0.5 2.5-0.3 2.5-0.4 2.5-0.1 2.5-0.6 2.5-0.2 2.5 0 2.5-0.5 2.5-0.7 2.5-0.8 2.5-0.7 2.5-0.8 2.5-0.4 2.5-0.6 2.5-1 2.5-1.1 2.5-1 2.5-1.1 2.5-1.2 2.5-1.3 2.5-1.5 2.5-1.6 2.5-1.2 2.5-0.5 2.5-0.5 2.5-0.8 2.5-1.1 2.5-0.4 2.5-0.5 2.5-0.2 2.5 0 2.5 0.4 2.5 0.5 2.5 0.8 2.5 0.9 2.5 1.1 2.5 1.4 2.5 1.2 2.5 1.4 2.5 1.6 2.5 1.4 2.5 1.3 2.5 1.3 2.5 0.9 2.5 1.1 2.5 1.6 2.5 1.2 2.5 1.4 2.5 0.9 2.5 0.3 2.5 0.6 2.5 0.5 2.5 0.2 2.5 0 2.5 0.3 2.5 0.4 2.5 0.5 2.5 0.1 2.5-0.5 2.5-0.2 2.5 0.2 2.5-0.5 2.5-0.3 2.5-0.1 2.5 0 2.5-0.2 2.5-0.4 2.5 0.1 2.5 0.4 2.5 0 2.5-0.5 2.5-0.3 2.5-0.1 2.5 0 2.5-0.2 2.5-0.1 2.5-0.2 2.5-0.1 2.5 0.1 2.5 0 2.5-0.1 2.5 0 2.5 0 2.5-0.2 2.5-0.1 2.5 0.2 2.5 0.3 2.5 0 2.5-0.3 2.5-0.2 2.5 0.1 2.5 0.4 2.5-0.3 2.5-0.6 2.5-0.1 2.5-0.1 2.5-0.3 2.5-0.2 2.5 0 2.5-0.1 2.5 0.2 2.5 0.5 2.5-0.3 2.5-0.6 2.5-0.4 2.5-0.2 2.5-0.2 2.5 0 2.5 0.2 2.5 0 2.5 0.1 2.5-0.1 2.5 0 2.5 0.3 2.5-0.2 2.5-0.1 2.5 0.2 2.5-0.2 2.5-0.5 2.5-0.1 2.5-0.2 2.5 0 2.5 0.7 2.5 0.1 2.5-0.5 2.5 0.1 2.5 0.3 2.5 0.7 2.5 0.5 2.5 0.7 2.5 1 2.5 0.6 2.5 0.6 2.5 0.8 2.5 0.5 2.5 0.5 2.5 0.4 2.5 0.3 2.5 0.2 2.5-0.1 2.5 0 2.5 0.4 2.5 0 2.5 0 2.5-0.3 2.5-0.2 2.5 0.2 2.5 0.2 2.5-0.2 2.5-0.2 2.5-0.3 2.5 0.2 2.5 0.2 2.5-0.2 2.5-0.2 2.5 0.3 2.5 0.2 2.5 0.4 2.5 0 2.5 0.3 2.5-0.2 2.5-0.4 2-0.2 M724 952.5l2.5 0.3 2.5-0.1 2.5 0.1 2.5-0.3 2.5-0.6 2.5 0.3 2.5 0.4 2.5-0.1 2.5-0.4 2.5-0.1 2.5-0.2 2.5-0.1 2.5 0.3 2.5 0.4 2.5 0.3 2.5-0.2 2.5-0.3 2.5-0.6 2.5-0.2 2.5 0.3 2.5 0.2 2.5-0.8 2.5-0.4 2.5 0.3 2.5-0.1 2.5-0.8 2.5-0.4 2.5-0.3 2.5 0.1 2.5-0.5 2.5-0.8 2.5-0.9 2.5-0.9 2.5-0.9 2.5-1.1 2.5-1.2 2.5-1 2.5-0.9 2.5-1 2.5-1.2 2.5-1.4 2.5-0.8 2.5-0.7 2.5-1.1 2.5-1.4 2.5-1.4 2.5-0.5 2.5-0.2 2.5-0.7 2.5-0.5 2.5-0.2 2.5 0.1 2.5 0 2.5 0.2 2.5 1 2.5 1.5 2.5 1.3 2.5 0.8 2.5 1.3 2.5 1.7 2.5 1.2 2.5 1.2 2.5 1.7 2.5 1.9 2.5 1.5 2.5 0.9 2.5 1.1 2.5 1.1 2.5 1.1 2.5 0.7 2.5 0.5 2.5 0.2 2.5 0.5 2.5 0 2.5 0 2.5 0.9 2.5 0.3 2.5 0 2.5 0 2.5 0 2.5-0.1 2.5-0.3 2.5 0.1 2.5 0 2.5-0.3 2.5-0.4 2.5 0 2.5-0.1 2.5 0.4 2.5 0.3 2.5-0.2 2.5-0.5 2.5-0.3 2.5 0 2.5 0.1 2.5-0.3 2.5-0.3 2.5-0.4 2.5 0.2 2.5 0.2 2.5 0.2 2.5 0.2 2.5-0.5 2.5-0.2 2.5 0.3 2.5-0.1 2.5 0 2.5 0.1 2.5-0.2 2.5-0.1 2.5 0.4 2.5 0 2.5-0.6 2.5-0.1 2.5 0.1 2.5-0.3 2.5-0.4 2.5 0.1 2.5 0 2.5-0.3 2.5 0 2.5-0.1 2.5-0.2 2.5 0.1 2.5 0 2.5 0 2.5-0.4 2.5-0.6 2.5 0.2 2.5 0.1 2.5-0.3 2.5-0.4 2.5 0 2.5-0.2 2.5-0.3 2.5 0.1 2.5-0.4 2.5-0.3 2.5 0.2 2.5-0.1 2.5 0 2.5 0 2.5 0.2 2.5 0.1 2.5 0 2.5 0.2 2.5 0.2 2.5 0.1 2.5 0.7 2.5 0.7 2.5 0.7 2.5 1.1 2.5 1 2.5 0.3 2.5 0.2 2.5 0.8 2.5 0.5 2.5 0.3 2.5 0.3 2.5 0.2 2.5 0.4 2.5-0.1 2.5-0.1 2.5 0.2 2.5 0.2 2.5 0.1 2.5-0.2 2.5-0.3 2.5-0.3 2.5-0.5 2.5 0.2 2.5 0.6 2.5 0.2 2.5 0.4 2.5-0.1 2.5-0.6 2.5 0.4 2.5 0.4 2.5-0.5 2.5-0.2 2.5-0.1 2.5-0.1 2.5 0 2 0.2 M724 962.6l2.5 0.2 2.5 0 2.5-0.5 2.5-0.2 2.5 0.3 2.5-0.2 2.5-0.2 2.5 0 2.5-0.1 2.5 0.5 2.5 0.2 2.5-0.6 2.5 0.2 2.5 0 2.5 0 2.5 0 2.5 0.3 2.5-0.2 2.5-0.4 2.5-0.2 2.5 0.2 2.5 0.1 2.5-0.5 2.5-0.1 2.5-0.3 2.5-0.6 2.5 0 2.5-0.1 2.5-0.1 2.5-0.6 2.5-1.3 2.5-1 2.5-1.1 2.5-0.8 2.5-0.5 2.5-1.1 2.5-1.1 2.5-1 2.5-0.8 2.5-1.1 2.5-1.4 2.5-1.3 2.5-0.8 2.5-1 2.5-1.7 2.5-0.9 2.5-0.3 2.5-0.4 2.5-0.2 2.5-0.1 2.5-0.2 2.5-0.5 2.5 0.2 2.5 0.5 2.5 0.9 2.5 0.9 2.5 1 2.5 1 2.5 1.4 2.5 1.4 2.5 1.4 2.5 1.5 2.5 1.5 2.5 1.9 2.5 1.4 2.5 1.2 2.5 0.5 2.5 0.7 2.5 1.2 2.5 1.2 2.5 1 2.5 0.8 2.5 0.6 2.5 0.4 2.5 0 2.5-0.2 2.5 0 2.5 0.2 2.5-0.1 2.5-0.1 2.5 0.3 2.5 0.1 2.5-0.1 2.5-0.2 2.5 0.1 2.5-0.1 2.5-0.4 2.5-0.4 2.5-0.2 2.5 0.1 2.5 0.3 2.5-0.2 2.5 0.1 2.5-0.2 2.5-0.2 2.5 0 2.5 0.2 2.5 0.2 2.5-0.1 2.5-0.4 2.5-0.5 2.5 0.1 2.5 0.5 2.5-0.4 2.5-0.3 2.5 0.3 2.5-0.2 2.5 0.2 2.5 0.2 2.5-0.2 2.5-0.3 2.5-0.6 2.5-0.3 2.5 0.2 2.5 0.1 2.5-0.1 2.5-0.2 2.5-0.6 2.5-0.4 2.5 0.3 2.5 0.1 2.5 0.2 2.5 0 2.5-0.5 2.5-0.5 2.5-0.3 2.5 0 2.5-0.1 2.5-0.2 2.5-0.3 2.5-0.5 2.5 0 2.5 0.1 2.5-0.3 2.5-0.7 2.5 0.2 2.5 0.3 2.5-0.5 2.5-0.1 2.5 0.5 2.5 0.1 2.5-0.7 2.5-0.5 2.5-0.1 2.5 0.1 2.5 0 2.5 0.3 2.5 0.7 2.5 0.7 2.5 0.8 2.5 0.6 2.5 0.8 2.5 1.3 2.5 0.8 2.5 0.6 2.5 0.6 2.5 0.6 2.5 0.3 2.5 0.3 2.5 0.3 2.5 0.1 2.5-0.2 2.5-0.2 2.5-0.1 2.5 0.2 2.5 0.3 2.5 0.1 2.5-0.1 2.5-0.2 2.5-0.2 2.5 0.1 2.5-0.1 2.5 0.1 2.5 0 2.5-0.1 2.5 0.2 2.5 0.1 2.5 0 2.5 0 2.5 0.2 2.5 0.3 2.5-0.2 2.5-0.2 2-0.3 M724 973.2l2.5-0.1 2.5-0.1 2.5 0.4 2.5-0.2 2.5-0.2 2.5 0.4 2.5 0 2.5-0.1 2.5-0.3 2.5 0.1 2.5 0 2.5-0.4 2.5 0 2.5 0.1 2.5-0.1 2.5-0.2 2.5-0.1 2.5 0.3 2.5 0.1 2.5 0 2.5-0.4 2.5-0.5 2.5-0.3 2.5 0 2.5 0.1 2.5 0.2 2.5-0.2 2.5-0.8 2.5-1.3 2.5-0.9 2.5-0.5 2.5-0.5 2.5-0.4 2.5-1 2.5-1.2 2.5-0.9 2.5-0.9 2.5-1.4 2.5-1.2 2.5-1.3 2.5-1.1 2.5-1 2.5-0.9 2.5-0.9 2.5-0.7 2.5-1 2.5-1.2 2.5-0.8 2.5-0.4 2.5-0.1 2.5-0.1 2.5 0.2 2.5 0.7 2.5 0.6 2.5 0.4 2.5 0.8 2.5 1.2 2.5 1.4 2.5 1.2 2.5 1.2 2.5 1.5 2.5 1.5 2.5 1.8 2.5 1.6 2.5 1.1 2.5 1.3 2.5 1 2.5 1.2 2.5 1.4 2.5 0.8 2.5 0.4 2.5 0.3 2.5 0.5 2.5 0.3 2.5 0.3 2.5 0 2.5 0.2 2.5 0 2.5 0.1 2.5 0.6 2.5-0.1 2.5-0.5 2.5-0.4 2.5 0.1 2.5 0 2.5-0.1 2.5-0.2 2.5 0.1 2.5 0.3 2.5-0.1 2.5-0.4 2.5 0.1 2.5-0.1 2.5-0.1 2.5 0.1 2.5 0.1 2.5 0.2 2.5 0 2.5-0.3 2.5 0.1 2.5 0.5 2.5 0 2.5-0.4 2.5-0.3 2.5 0.2 2.5-0.1 2.5-0.2 2.5 0 2.5-0.2 2.5-0.2 2.5-0.4 2.5-0.2 2.5-0.1 2.5 0 2.5-0.1 2.5-0.5 2.5-0.1 2.5-0.1 2.5-0.1 2.5 0 2.5-0.4 2.5 0 2.5-0.4 2.5-0.1 2.5-0.1 2.5-0.6 2.5-0.7 2.5-0.2 2.5 0 2.5 0 2.5-0.1 2.5-0.1 2.5-0.4 2.5-0.6 2.5-0.3 2.5-0.4 2.5-0.2 2.5-0.3 2.5-0.2 2.5 0.4 2.5 0.1 2.5-0.2 2.5-0.5 2.5-0.1 2.5 0.3 2.5 0.2 2.5 0.3 2.5 0.4 2.5 0.6 2.5 0.9 2.5 1.3 2.5 0.8 2.5 0.9 2.5 1.3 2.5 0.9 2.5 0.6 2.5 0.3 2.5 0.2 2.5-0.1 2.5-0.3 2.5 0.1 2.5 0.4 2.5 0.5 2.5 0.3 2.5-0.2 2.5 0 2.5 0.1 2.5-0.1 2.5 0.1 2.5-0.2 2.5-0.2 2.5 0.2 2.5-0.1 2.5-0.3 2.5-0.1 2.5 0.2 2.5 0.8 2.5 0.3 2.5-0.2 2.5-0.2 2.5-0.3 2.5 0.4 2.5 0.3 2-0.2 M724 983l2.5-0.1 2.5 0.5 2.5 0.1 2.5-0.1 2.5 0.3 2.5-0.3 2.5 0.2 2.5 0 2.5 0 2.5 0.2 2.5-0.1 2.5-0.4 2.5-0.4 2.5 0 2.5 0.4 2.5 0.4 2.5-0.1 2.5-0.4 2.5 0 2.5 0.1 2.5-0.1 2.5-0.5 2.5-0.2 2.5-0.3 2.5-0.6 2.5-0.3 2.5 0 2.5-0.5 2.5-0.7 2.5-0.4 2.5-0.5 2.5-0.7 2.5-0.8 2.5-1.2 2.5-1.2 2.5-0.9 2.5-1.1 2.5-0.8 2.5-0.6 2.5-1 2.5-1.3 2.5-1.4 2.5-1.4 2.5-0.9 2.5-0.6 2.5-0.7 2.5-0.8 2.5-0.4 2.5 0.1 2.5-0.2 2.5-0.3 2.5 0.2 2.5 0.5 2.5 0.5 2.5 0.5 2.5 0.5 2.5 0.9 2.5 1.2 2.5 1.5 2.5 1.9 2.5 1.7 2.5 1.3 2.5 1.6 2.5 1.4 2.5 1 2.5 1.1 2.5 1.5 2.5 1.1 2.5 0.6 2.5 0.9 2.5 0.3 2.5 0.1 2.5 0.3 2.5 0.1 2.5 0.4 2.5 0.3 2.5 0.6 2.5 0.1 2.5-0.3 2.5 0.1 2.5-0.1 2.5 0.2 2.5 0.2 2.5-0.2 2.5-0.2 2.5 0 2.5 0.1 2.5 0.2 2.5 0.4 2.5 0.1 2.5-0.3 2.5-0.6 2.5-0.2 2.5 0.1 2.5-0.1 2.5-0.4 2.5 0.3 2.5 0.3 2.5-0.4 2.5-0.3 2.5 0.1 2.5 0.2 2.5-0.1 2.5-0.3 2.5-0.2 2.5 0.2 2.5-0.1 2.5-0.2 2.5 0 2.5-0.1 2.5-0.7 2.5-0.3 2.5-0.1 2.5-0.3 2.5-0.4 2.5 0.3 2.5 0.4 2.5-0.3 2.5-0.4 2.5-0.8 2.5 0.2 2.5 0.4 2.5-0.3 2.5-0.8 2.5-0.4 2.5-0.2 2.5-0.5 2.5-0.4 2.5-0.3 2.5 0 2.5 0.1 2.5 0 2.5-0.5 2.5-0.6 2.5-0.3 2.5-0.4 2.5 0 2.5 0 2.5 0 2.5-0.3 2.5-0.5 2.5 0.2 2.5 0.1 2.5 0 2.5 0.3 2.5 0.2 2.5 0.6 2.5 0.5 2.5 0.5 2.5 0.8 2.5 0.9 2.5 0.6 2.5 0.9 2.5 0.9 2.5 1.2 2.5 0.8 2.5 0.7 2.5 0.2 2.5-0.1 2.5 0.4 2.5 0.2 2.5 0 2.5 0 2.5-0.1 2.5 0.1 2.5 0 2.5-0.4 2.5-0.2 2.5 0.3 2.5 0.3 2.5 0.1 2.5-0.1 2.5-0.7 2.5 0.1 2.5 0.3 2.5 0.4 2.5 0.1 2.5-0.3 2.5-0.1 2.5 0.3 2.5 0 2.5-0.6 2.5 0.3 2 0.1 M724 993.4l2.5 0 2.5-0.3 2.5 0.5 2.5 0.1 2.5 0.1 2.5 0 2.5 0.1 2.5-0.1 2.5 0 2.5 0.1 2.5-0.2 2.5-0.5 2.5 0.1 2.5 0 2.5 0.1 2.5 0.5 2.5-0.1 2.5-0.7 2.5-0.1 2.5 0.2 2.5-0.3 2.5-0.4 2.5-0.4 2.5 0.2 2.5 0.1 2.5-0.6 2.5-0.3 2.5 0 2.5-0.4 2.5-0.6 2.5-0.8 2.5-1.1 2.5-1.4 2.5-1.1 2.5-0.5 2.5-0.2 2.5-1.2 2.5-1.4 2.5-1.4 2.5-1.3 2.5-1 2.5-0.1 2.5-0.9 2.5-1.3 2.5-1 2.5-0.4 2.5-0.3 2.5-0.4 2.5-0.3 2.5-0.3 2.5 0.3 2.5 0.5 2.5 0.4 2.5 0.5 2.5 0.7 2.5 0.9 2.5 1.3 2.5 1.1 2.5 1.3 2.5 1.5 2.5 1.1 2.5 1.5 2.5 1.8 2.5 1.3 2.5 0.9 2.5 1 2.5 1.1 2.5 0.6 2.5 0.6 2.5 0.9 2.5 0.6 2.5 0.5 2.5 0.6 2.5 0.1 2.5 0 2.5 0.4 2.5 0.4 2.5-0.4 2.5-0.2 2.5 0.1 2.5 0.1 2.5-0.1 2.5 0.3 2.5 0.1 2.5-0.4 2.5-0.3 2.5-0.1 2.5 0.2 2.5-0.1 2.5 0 2.5 0 2.5 0.2 2.5 0.4 2.5-0.1 2.5-0.8 2.5 0 2.5 0.2 2.5-0.2 2.5 0.1 2.5 0.3 2.5 0.4 2.5-0.2 2.5-0.4 2.5-0.3 2.5-0.1 2.5-0.3 2.5-0.4 2.5-0.2 2.5 0.3 2.5 0.4 2.5-0.4 2.5-0.7 2.5-0.1 2.5 0 2.5-0.1 2.5-0.2 2.5 0 2.5-0.2 2.5-0.1 2.5-0.5 2.5-0.7 2.5 0 2.5 0.3 2.5-0.4 2.5-0.2 2.5-0.5 2.5-0.5 2.5-0.1 2.5 0.1 2.5-0.2 2.5-0.5 2.5-0.8 2.5-0.3 2.5-0.5 2.5-0.1 2.5 0 2.5 0 2.5-0.1 2.5-0.2 2.5-0.4 2.5 0.1 2.5-0.2 2.5-0.3 2.5-0.2 2.5 0.4 2.5 0.4 2.5 0.3 2.5 0.3 2.5 0.6 2.5 1.1 2.5 1.2 2.5 1.3 2.5 1.2 2.5 0.7 2.5 0.6 2.5 0 2.5 0.8 2.5 0.5 2.5 0.5 2.5-0.1 2.5 0 2.5-0.4 2.5 0 2.5 0.6 2.5 0.1 2.5-0.1 2.5 0.4 2.5-0.2 2.5-0.1 2.5-0.5 2.5-0.2 2.5 0.2 2.5-0.1 2.5 0 2.5-0.3 2.5 0.3 2.5 0 2.5 0 2.5 0.2 2.5 0 2.5 0.1 2.5 0.2 2.5 0.1 2 0 M724 1003.9l2.5-0.1 2.5 0.1 2.5 0 2.5-0.4 2.5 0 2.5 0.2 2.5 0.2 2.5 0 2.5 0.1 2.5-0.2 2.5 0.1 2.5 0.2 2.5 0.1 2.5-0.2 2.5 0.1 2.5 0.2 2.5-0.1 2.5-0.5 2.5-0.5 2.5 0.1 2.5 0.2 2.5-0.6 2.5-0.4 2.5 0.1 2.5-0.2 2.5-0.7 2.5-0.6 2.5-0.6 2.5-0.2 2.5 0 2.5-0.9 2.5-0.9 2.5-0.8 2.5-0.8 2.5-1.1 2.5-1.3 2.5-0.7 2.5-0.4 2.5-1.2 2.5-0.9 2.5-1 2.5-0.7 2.5-0.9 2.5-0.8 2.5-0.5 2.5-1 2.5-0.7 2.5-0.4 2.5-0.1 2.5 0 2.5 0.2 2.5 0.7 2.5 0.8 2.5 0.1 2.5 0.8 2.5 1.2 2.5 1.6 2.5 1.7 2.5 1.4 2.5 1.2 2.5 1.4 2.5 1.4 2.5 0.5 2.5 0.9 2.5 1.3 2.5 1.1 2.5 0.7 2.5 0.4 2.5 0.6 2.5 0.7 2.5 0.5 2.5 0.3 2.5 0.5 2.5 0.8 2.5 0.4 2.5 0.1 2.5-0.3 2.5-0.1 2.5 0.1 2.5 0 2.5 0 2.5-0.2 2.5-0.3 2.5 0.4 2.5 0.1 2.5-0.4 2.5 0.2 2.5 0.5 2.5 0.2 2.5-0.3 2.5 0.2 2.5 0.3 2.5-0.2 2.5-0.6 2.5-0.1 2.5 0.3 2.5-0.2 2.5-0.3 2.5 0 2.5 0.1 2.5-0.2 2.5-0.1 2.5-0.2 2.5 0 2.5 0.6 2.5 0.1 2.5-0.2 2.5-0.5 2.5-0.2 2.5 0 2.5-0.3 2.5-0.6 2.5-0.1 2.5-0.2 2.5-0.1 2.5 0 2.5 0.3 2.5-0.4 2.5-0.3 2.5-0.1 2.5-0.6 2.5-0.5 2.5-0.3 2.5-0.2 2.5-0.1 2.5-0.1 2.5-0.4 2.5-0.3 2.5 0 2.5-0.3 2.5-0.3 2.5-0.6 2.5-0.7 2.5-0.5 2.5 0 2.5 0.4 2.5-0.2 2.5-0.5 2.5-0.3 2.5 0.1 2.5 0 2.5-0.2 2.5-0.3 2.5 0.1 2.5 0.5 2.5-0.2 2.5 0.4 2.5 0.6 2.5 0.3 2.5 1.1 2.5 1.1 2.5 0.9 2.5 0.9 2.5 0.5 2.5 0.8 2.5 1.3 2.5 0.5 2.5 0.4 2.5 0.2 2.5 0 2.5 0 2.5 0.2 2.5 0.2 2.5-0.1 2.5-0.1 2.5-0.4 2.5-0.1 2.5 0.1 2.5 0.2 2.5 0.3 2.5 0.2 2.5-0.2 2.5-0.1 2.5 0.2 2.5-0.2 2.5-0.2 2.5-0.1 2.5-0.3 2.5-0.1 2.5 0.1 2.5 0 2.5-0.1 2.5 0.2 2-0.1 M724 1013.9l2.5 0.7 2.5 0.1 2.5 0.1 2.5 0.3 2.5-0.4 2.5-0.6 2.5 0.1 2.5 0.3 2.5 0.2 2.5-0.4 2.5 0.1 2.5 0.1 2.5-0.3 2.5-0.3 2.5-0.3 2.5 0 2.5-0.2 2.5 0.4 2.5 0.5 2.5-0.3 2.5-0.4 2.5 0 2.5 0.2 2.5-0.5 2.5-0.5 2.5-0.8 2.5-0.6 2.5-0.6 2.5-0.4 2.5-0.5 2.5-0.3 2.5-0.7 2.5-1 2.5-1.3 2.5-1.3 2.5-0.4 2.5-0.4 2.5-1.1 2.5-1.8 2.5-0.8 2.5-0.2 2.5-0.7 2.5-0.6 2.5-0.5 2.5-0.5 2.5-0.8 2.5 0 2.5 0.3 2.5-0.1 2.5 0 2.5 0.5 2.5 0.5 2.5 0.6 2.5 1.1 2.5 1.1 2.5 1 2.5 1.1 2.5 0.9 2.5 1.4 2.5 1.1 2.5 0.9 2.5 1.3 2.5 1.3 2.5 0.8 2.5 0.7 2.5 0.7 2.5 0.8 2.5 1.2 2.5 1 2.5 0.3 2.5 0 2.5 0.1 2.5 0 2.5-0.1 2.5 0.3 2.5 0.5 2.5-0.1 2.5-0.2 2.5 0 2.5 0.2 2.5 0 2.5 0.1 2.5 0.2 2.5 0.1 2.5-0.4 2.5 0 2.5-0.1 2.5 0.2 2.5 0.4 2.5-0.1 2.5-0.3 2.5 0 2.5 0.1 2.5 0 2.5-0.2 2.5 0 2.5-0.1 2.5-0.1 2.5-0.1 2.5-0.1 2.5 0.2 2.5 0.1 2.5-0.4 2.5-0.1 2.5 0 2.5-0.1 2.5 0.2 2.5-0.3 2.5-0.7 2.5-0.1 2.5 0.1 2.5 0.4 2.5-0.2 2.5-0.6 2.5-0.2 2.5 0 2.5-0.1 2.5 0.1 2.5 0 2.5-0.2 2.5-0.2 2.5-0.3 2.5-0.6 2.5-0.5 2.5-0.2 2.5 0.2 2.5-0.1 2.5-0.3 2.5-0.6 2.5-0.4 2.5 0.1 2.5 0 2.5-0.4 2.5-0.5 2.5-0.3 2.5 0 2.5-0.2 2.5-0.2 2.5 0.1 2.5-0.3 2.5-0.1 2.5-0.1 2.5-0.2 2.5-0.2 2.5 0.2 2.5 0.3 2.5 0.2 2.5 0.4 2.5 0.9 2.5 0.8 2.5 0.7 2.5 1 2.5 1.1 2.5 0.5 2.5 0.6 2.5 0.3 2.5-0.1 2.5 0.1 2.5 0.7 2.5 0.4 2.5-0.1 2.5-0.2 2.5 0 2.5 0.3 2.5-0.3 2.5-0.2 2.5 0.4 2.5 0.2 2.5 0.1 2.5 0.2 2.5 0 2.5-0.2 2.5-0.5 2.5-0.4 2.5 0.4 2.5 0.3 2.5 0.4 2.5 0.1 2.5-0.1 2.5-0.1 2.5-0.3 2.5-0.2 2.5-0.2 2 0.1 M724 1024.7l2.5-0.3 2.5 0.2 2.5 0.1 2.5 0 2.5 0.1 2.5 0.1 2.5 0.5 2.5-0.3 2.5-0.8 2.5-0.3 2.5 0.6 2.5 0.1 2.5-0.2 2.5-0.5 2.5-0.3 2.5 0.3 2.5 0.9 2.5-0.1 2.5-0.5 2.5-0.2 2.5-0.6 2.5 0 2.5-0.2 2.5-0.6 2.5-0.5 2.5-0.3 2.5-0.1 2.5-0.1 2.5-0.5 2.5-0.7 2.5-0.9 2.5-0.9 2.5-0.4 2.5-1 2.5-1.2 2.5-0.8 2.5-0.7 2.5-0.6 2.5-0.9 2.5-0.9 2.5-0.1 2.5-0.3 2.5-0.9 2.5-0.1 2.5-0.2 2.5-0.2 2.5-0.3 2.5-0.5 2.5 0.2 2.5 0.5 2.5 0.8 2.5 0.2 2.5 0.7 2.5 1.4 2.5 1 2.5 0.9 2.5 1.1 2.5 1.4 2.5 1.1 2.5 0.6 2.5 0.8 2.5 1 2.5 1 2.5 0.7 2.5 0.5 2.5 0.7 2.5 0.4 2.5 0.6 2.5 0.5 2.5 0.6 2.5 0.7 2.5 0.4 2.5 0.1 2.5 0 2.5-0.1 2.5 0.1 2.5-0.1 2.5-0.1 2.5-0.1 2.5-0.3 2.5 0.1 2.5 0.2 2.5 0.2 2.5-0.2 2.5-0.3 2.5 0 2.5 0.1 2.5-0.2 2.5 0 2.5 0.3 2.5 0.1 2.5-0.4 2.5-0.1 2.5 0.5 2.5 0.2 2.5-0.3 2.5-0.4 2.5-0.2 2.5 0.4 2.5 0 2.5 0.1 2.5-0.1 2.5-0.1 2.5-0.2 2.5 0 2.5 0.4 2.5-0.5 2.5-0.2 2.5-0.1 2.5 0.2 2.5 0 2.5-0.6 2.5 0.1 2.5 0.1 2.5-0.1 2.5-0.3 2.5-0.5 2.5-0.5 2.5 0 2.5 0.2 2.5 0.2 2.5-0.1 2.5 0 2.5-0.4 2.5-0.4 2.5-0.4 2.5-0.5 2.5 0 2.5-0.3 2.5 0.1 2.5 0.2 2.5-0.6 2.5-0.2 2.5-0.1 2.5-0.2 2.5-0.2 2.5-0.1 2.5 0 2.5-0.7 2.5 0 2.5 0.5 2.5-0.1 2.5-0.5 2.5-0.1 2.5 0.5 2.5 0.7 2.5-0.2 2.5-0.1 2.5 0.5 2.5 0.8 2.5 1 2.5 0.8 2.5 0.7 2.5 0.7 2.5 0.7 2.5 0.1 2.5-0.1 2.5-0.1 2.5 0.2 2.5 0.3 2.5 0.2 2.5 0.4 2.5-0.3 2.5-0.3 2.5 0.2 2.5-0.1 2.5 0 2.5-0.1 2.5 0 2.5 0.4 2.5 0 2.5-0.1 2.5-0.4 2.5-0.4 2.5 0 2.5 0.2 2.5 0.3 2.5 0.1 2.5 0 2.5-0.3 2.5 0 2.5-0.1 2.5 0.4 2 0.7 M724 1035l2.5 0.2 2.5-0.4 2.5-0.2 2.5 0 2.5 0.1 2.5 0.1 2.5-0.1 2.5 0.1 2.5 0.1 2.5 0 2.5 0.1 2.5-0.3 2.5 0.1 2.5 0.6 2.5-0.1 2.5-0.4 2.5-0.2 2.5-0.2 2.5-0.3 2.5 0 2.5-0.1 2.5-0.4 2.5-0.7 2.5-0.1 2.5-0.3 2.5-0.7 2.5-0.5 2.5-0.6 2.5-0.7 2.5-0.4 2.5-0.4 2.5-1.1 2.5-0.8 2.5-1 2.5-0.3 2.5-0.3 2.5-0.7 2.5-0.8 2.5-0.8 2.5-0.4 2.5-0.5 2.5-0.2 2.5-0.4 2.5-0.2 2.5 0.1 2.5-0.2 2.5 0.2 2.5 0.1 2.5 0.4 2.5 0.7 2.5 0.6 2.5 0.6 2.5 0.8 2.5 1 2.5 1 2.5 0.7 2.5 0.6 2.5 0.8 2.5 1.4 2.5 1.4 2.5 1.1 2.5 0.9 2.5 0.8 2.5 0.6 2.5 0 2.5 0.3 2.5 0.5 2.5 0.2 2.5 0.4 2.5 0.7 2.5 0.2 2.5-0.1 2.5-0.4 2.5 0.3 2.5 0.3 2.5-0.3 2.5 0.1 2.5 0 2.5-0.3 2.5 0.5 2.5 0 2.5 0.1 2.5 0.1 2.5-0.5 2.5 0.1 2.5 0.1 2.5-0.1 2.5 0.1 2.5 0.2 2.5-0.3 2.5 0.2 2.5 0.1 2.5-0.2 2.5-0.1 2.5 0.1 2.5 0.3 2.5-0.1 2.5-0.4 2.5-0.2 2.5 0.2 2.5 0.2 2.5 0 2.5 0 2.5-0.3 2.5 0.4 2.5-0.4 2.5-0.7 2.5 0 2.5 0.5 2.5 0.1 2.5-0.3 2.5-0.1 2.5-0.1 2.5 0 2.5 0.2 2.5-0.2 2.5-0.5 2.5-0.3 2.5 0.3 2.5-0.4 2.5-0.2 2.5 0.3 2.5-0.4 2.5-0.9 2.5-0.2 2.5 0.1 2.5 0 2.5 0.4 2.5 0.8 2.5-0.1 2.5-0.8 2.5-0.3 2.5-0.2 2.5-0.5 2.5-0.3 2.5 0.2 2.5 0 2.5-0.1 2.5-0.1 2.5-0.2 2.5 0.3 2.5-0.2 2.5-0.2 2.5-0.1 2.5 0.3 2.5 0.1 2.5-0.1 2.5 0.3 2.5 0.1 2.5 0.2 2.5 0.8 2.5 0.9 2.5 0.7 2.5 0.4 2.5 0 2.5 0.3 2.5 0.4 2.5 0.2 2.5-0.1 2.5-0.4 2.5 0.1 2.5 0.7 2.5 0.1 2.5-0.2 2.5 0.2 2.5-0.1 2.5 0.1 2.5 0 2.5-0.4 2.5-0.4 2.5-0.1 2.5 0.5 2.5 0.3 2.5 0.2 2.5-0.1 2.5-0.1 2.5 0 2.5-0.3 2.5 0.1 2.5 0.2 2.5 0 2.5 0.3 2.5 0 2 0.1 M724 1044.6l2.5 0.7 2.5 0.7 2.5-0.5 2.5-0.3 2.5 0.1 2.5 0.3 2.5 0.1 2.5-0.2 2.5-0.1 2.5-0.4 2.5-0.1 2.5-0.2 2.5 0.1 2.5 0 2.5-0.1 2.5-0.2 2.5 0 2.5-0.1 2.5-0.4 2.5-0.4 2.5-0.3 2.5 0 2.5-0.1 2.5-0.3 2.5-0.3 2.5-0.3 2.5-0.7 2.5-0.5 2.5-0.4 2.5-0.6 2.5-0.7 2.5-0.5 2.5-0.5 2.5-1 2.5-0.8 2.5-0.3 2.5-0.2 2.5-0.6 2.5-0.7 2.5-0.4 2.5-0.4 2.5-0.3 2.5-0.1 2.5 0 2.5 0.2 2.5 0.3 2.5 0.2 2.5 0.8 2.5 1 2.5 0.5 2.5 0.2 2.5 0.4 2.5 0.6 2.5 1.4 2.5 1.3 2.5 0.2 2.5 0.7 2.5 1.4 2.5 0.7 2.5 0.2 2.5 0.9 2.5 0.6 2.5 0.4 2.5 0.6 2.5 0.3 2.5 0.6 2.5 0.2 2.5-0.2 2.5-0.1 2.5 0.4 2.5 0.4 2.5 0 2.5 0 2.5 0.2 2.5 0.2 2.5-0.2 2.5 0.1 2.5 0.2 2.5 0.1 2.5 0.3 2.5 0 2.5-0.4 2.5-0.4 2.5-0.5 2.5 0.4 2.5 0.4 2.5-0.1 2.5 0.1 2.5-0.2 2.5 0.3 2.5-0.2 2.5-0.3 2.5 0 2.5 0.1 2.5-0.3 2.5 0 2.5 0.3 2.5 0.5 2.5 0.1 2.5-0.1 2.5-0.4 2.5-0.2 2.5 0.1 2.5 0.1 2.5 0.3 2.5 0.3 2.5-0.3 2.5-0.2 2.5 0 2.5-0.6 2.5-0.2 2.5 0.3 2.5 0.1 2.5 0 2.5 0 2.5-0.3 2.5-0.1 2.5 0.1 2.5 0 2.5 0 2.5-0.3 2.5-0.5 2.5-0.4 2.5 0.2 2.5-0.2 2.5 0.3 2.5 0.4 2.5-0.7 2.5-0.4 2.5 0.3 2.5-0.2 2.5-0.2 2.5 0 2.5 0.2 2.5-0.1 2.5-0.2 2.5-0.1 2.5-0.3 2.5 0 2.5-0.1 2.5 0 2.5-0.2 2.5 0.1 2.5 0.2 2.5-0.4 2.5-0.1 2.5 0.5 2.5 0.1 2.5 0.2 2.5 0.6 2.5 0.7 2.5-0.2 2.5 0.3 2.5 0.4 2.5 0.1 2.5 0.4 2.5 0.2 2.5 0.1 2.5 0.1 2.5-0.2 2.5 0.1 2.5 0.6 2.5 0.3 2.5-0.8 2.5 0.3 2.5 0.4 2.5-0.3 2.5-0.1 2.5-0.2 2.5-0.4 2.5 0.2 2.5-0.1 2.5 0 2.5-0.1 2.5 0.1 2.5-0.4 2.5 0.5 2.5 0.5 2.5-0.1 2.5-0.3 2.5-0.1 2.5 0.3 2.5 0.5 2-0.3 M724 1056l2.5-0.2 2.5-0.5 2.5-0.4 2.5 0.3 2.5 0.4 2.5-0.4 2.5 0 2.5 0.4 2.5-0.2 2.5-0.1 2.5 0.1 2.5-0.2 2.5-0.1 2.5-0.2 2.5-0.2 2.5 0 2.5-0.1 2.5-0.5 2.5-0.3 2.5-0.2 2.5 0.1 2.5-0.1 2.5-0.2 2.5-0.4 2.5-0.5 2.5-0.7 2.5-0.8 2.5-0.4 2.5-0.5 2.5-0.2 2.5-0.7 2.5-0.9 2.5-0.8 2.5-0.2 2.5-0.5 2.5-1.1 2.5-0.4 2.5-0.3 2.5 0 2.5 0.5 2.5 0 2.5-0.6 2.5 0.2 2.5 0.2 2.5 0.2 2.5-0.2 2.5 0.9 2.5 1.1 2.5 0.7 2.5 0.9 2.5 0.8 2.5 1 2.5 0.8 2.5 0.4 2.5 0.7 2.5 1 2.5 1 2.5 0.4 2.5 0.8 2.5 0.9 2.5-0.3 2.5 0.3 2.5 0.5 2.5 0 2.5 0.3 2.5 0.1 2.5 0 2.5 0.4 2.5-0.1 2.5 0.3 2.5 0.3 2.5-0.1 2.5 0.3 2.5 0.4 2.5 0 2.5-0.3 2.5-0.4 2.5-0.2 2.5 0.3 2.5 0.2 2.5-0.3 2.5 0 2.5 0.2 2.5-0.1 2.5 0 2.5-0.2 2.5 0 2.5 0.6 2.5 0.1 2.5-0.3 2.5-0.5 2.5 0.2 2.5 0.1 2.5 0.1 2.5 0.1 2.5-0.4 2.5-0.1 2.5-0.4 2.5-0.1 2.5 0.3 2.5 0.4 2.5-0.2 2.5-0.2 2.5-0.1 2.5-0.2 2.5 0.1 2.5 0.1 2.5 0.1 2.5-0.2 2.5-0.3 2.5 0.4 2.5 0.5 2.5-0.2 2.5-0.2 2.5-0.2 2.5-0.1 2.5 0 2.5-0.2 2.5-0.1 2.5-0.1 2.5 0.1 2.5-0.1 2.5 0.4 2.5 0 2.5-0.5 2.5 0.2 2.5 0 2.5 0.1 2.5-0.3 2.5-0.2 2.5 0.1 2.5 0 2.5-0.5 2.5 0.3 2.5 0 2.5-0.3 2.5 0.1 2.5 0.3 2.5 0.2 2.5-0.1 2.5-0.7 2.5-0.5 2.5 0.2 2.5 0.3 2.5 0.2 2.5 0.6 2.5 0.3 2.5-0.5 2.5-0.4 2.5 0.5 2.5 0.2 2.5 0.3 2.5 0.5 2.5 0.2 2.5 0 2.5 0.2 2.5 0.3 2.5 0.2 2.5-0.2 2.5-0.9 2.5 0 2.5 0.5 2.5 0.4 2.5 0 2.5-0.1 2.5-0.4 2.5 0.1 2.5 0.3 2.5-0.1 2.5-0.1 2.5 0.3 2.5 0 2.5-0.4 2.5 0.4 2.5-0.1 2.5-0.2 2.5 0.2 2.5 0.1 2.5 0 2.5-0.2 2.5 0.1 2.5-0.2 2.5 0.2 2 0.1 M724 1066.1l2.5-0.4 2.5 0 2.5-0.1 2.5 0 2.5 0 2.5 0.3 2.5-0.1 2.5-0.5 2.5-0.2 2.5 0.1 2.5 0 2.5-0.1 2.5-0.3 2.5 0 2.5 0.3 2.5-0.2 2.5-0.7 2.5-0.3 2.5 0 2.5-0.4 2.5-0.2 2.5-0.1 2.5-0.8 2.5-0.6 2.5-0.5 2.5-0.8 2.5-0.7 2.5 0 2.5-0.5 2.5-0.5 2.5-0.1 2.5-0.8 2.5-0.7 2.5-0.3 2.5 0 2.5-0.3 2.5-0.5 2.5-0.4 2.5 0.1 2.5 0.4 2.5 0 2.5-0.2 2.5 0.6 2.5 1.3 2.5 1 2.5-0.2 2.5 0.2 2.5 1.3 2.5 0.7 2.5 0.6 2.5 1.1 2.5 0.6 2.5 0.4 2.5 0.6 2.5 0.9 2.5 0.6 2.5 0.3 2.5 0.7 2.5 0.4 2.5 0.7 2.5 0.3 2.5 0 2.5 0.1 2.5 0.1 2.5 0.3 2.5 0.4 2.5-0.2 2.5 0 2.5-0.1 2.5 0.1 2.5 0.2 2.5-0.3 2.5-0.1 2.5-0.4 2.5 0.1 2.5 0.5 2.5 0.4 2.5-0.1 2.5-0.3 2.5 0 2.5 0 2.5-0.2 2.5 0.5 2.5 0.4 2.5-0.1 2.5-0.5 2.5-0.3 2.5 0 2.5 0.1 2.5 0.2 2.5 0.2 2.5-0.2 2.5-0.1 2.5 0.4 2.5 0 2.5-0.4 2.5 0 2.5-0.2 2.5-0.2 2.5 0.4 2.5 0.6 2.5 0.2 2.5-0.4 2.5-0.4 2.5 0.1 2.5 0.2 2.5-0.1 2.5-0.3 2.5 0.1 2.5-0.1 2.5-0.3 2.5 0.5 2.5 0 2.5 0 2.5-0.2 2.5-0.1 2.5 0 2.5 0.2 2.5 0 2.5-0.4 2.5-0.4 2.5 0 2.5 0.1 2.5 0.2 2.5 0 2.5 0.3 2.5-0.1 2.5-0.1 2.5 0.1 2.5-0.3 2.5-0.1 2.5 0.2 2.5-0.1 2.5-0.1 2.5 0.5 2.5-0.4 2.5-0.6 2.5 0.2 2.5 0.3 2.5 0 2.5 0.3 2.5 0.3 2.5 0 2.5-0.1 2.5-0.4 2.5-0.3 2.5 0.2 2.5-0.1 2.5 0.3 2.5 0 2.5-0.3 2.5 0.1 2.5 0.4 2.5 0.4 2.5 0.3 2.5 0.1 2.5 0.3 2.5-0.2 2.5-0.6 2.5-0.1 2.5 0.2 2.5-0.1 2.5 0.2 2.5 0.3 2.5 0 2.5-0.1 2.5-0.4 2.5-0.3 2.5-0.3 2.5 0 2.5 0.4 2.5 0.3 2.5 0.1 2.5 0.2 2.5 0.2 2.5-0.5 2.5-0.2 2.5 0 2.5 0.2 2.5 0.4 2.5 0 2.5 0 2.5-0.2 2 0.6 M724 1076.1l2.5-0.5 2.5 0.3 2.5 0.3 2.5 0 2.5 0 2.5-0.3 2.5-0.2 2.5-0.3 2.5 0 2.5-0.2 2.5-0.4 2.5-0.1 2.5 0.2 2.5-0.1 2.5-0.5 2.5-0.5 2.5-0.1 2.5 0 2.5-0.4 2.5-0.3 2.5-0.7 2.5-0.1 2.5-0.1 2.5-0.5 2.5-0.8 2.5-0.8 2.5-0.5 2.5 0 2.5-0.4 2.5-0.6 2.5-0.2 2.5-0.1 2.5-0.1 2.5-0.2 2.5-0.5 2.5 0.2 2.5 0.1 2.5 0.2 2.5 0.3 2.5 0.5 2.5 0.6 2.5 0.3 2.5 0.3 2.5 0.8 2.5 0.9 2.5 0.8 2.5 0.7 2.5 0.7 2.5 0.8 2.5 0.5 2.5 0.9 2.5 0.2 2.5 0.3 2.5 0.8 2.5 0.8 2.5 0.4 2.5 0.3 2.5-0.1 2.5 0 2.5 0.2 2.5 0 2.5 0.2 2.5 0.6 2.5 0.2 2.5-0.5 2.5-0.2 2.5-0.3 2.5-0.2 2.5 0.2 2.5 0.2 2.5 0.1 2.5-0.3 2.5 0 2.5 0.6 2.5 0.2 2.5-0.7 2.5 0.2 2.5 0.2 2.5-0.4 2.5-0.1 2.5 0.3 2.5 0.1 2.5 0.1 2.5 0.6 2.5 0.1 2.5-0.3 2.5-0.3 2.5-0.1 2.5 0.2 2.5 0.1 2.5 0.2 2.5 0 2.5-0.4 2.5 0.3 2.5 0.2 2.5-0.3 2.5-0.5 2.5 0 2.5 0.1 2.5 0.1 2.5 0 2.5 0 2.5 0.3 2.5 0.1 2.5-0.6 2.5-0.2 2.5 0.3 2.5 0.1 2.5 0 2.5-0.2 2.5 0 2.5 0.1 2.5 0.4 2.5 0 2.5-0.8 2.5-0.5 2.5 0.3 2.5 0.3 2.5 0.2 2.5 0.1 2.5 0.4 2.5 0.2 2.5-0.6 2.5-0.3 2.5-0.1 2.5-0.2 2.5 0.3 2.5-0.2 2.5-0.3 2.5 0.2 2.5 0.4 2.5 0.3 2.5 0 2.5-0.3 2.5-0.3 2.5 0.2 2.5 0.2 2.5 0.1 2.5-0.5 2.5 0.3 2.5 0.2 2.5-0.3 2.5-0.2 2.5-0.3 2.5-0.2 2.5 0.2 2.5 0.8 2.5 0.2 2.5-0.2 2.5-0.3 2.5-0.4 2.5 0.3 2.5 0.4 2.5 0.2 2.5-0.2 2.5 0 2.5 0.1 2.5-0.1 2.5 0 2.5 0.2 2.5-0.2 2.5-0.1 2.5 0.6 2.5 0.3 2.5-0.4 2.5-0.1 2.5-0.3 2.5 0.1 2.5 0.5 2.5 0 2.5 0.1 2.5-0.1 2.5-0.1 2.5 0 2.5 0.3 2.5 0.1 2.5-0.4 2.5-0.4 2.5-0.2 2.5 0.1 2.5 0.3 2.5 0 2.5-0.1 2 0.1 M724 1086.3l2.5-0.1 2.5 0.3 2.5 0.1 2.5-0.2 2.5-0.1 2.5-0.5 2.5-0.2 2.5-0.2 2.5-0.1 2.5-0.2 2.5 0 2.5-0.1 2.5-0.7 2.5-0.6 2.5 0.2 2.5 0.1 2.5-0.5 2.5-0.5 2.5-0.2 2.5-0.4 2.5-0.4 2.5-0.6 2.5-0.1 2.5-0.2 2.5-0.8 2.5-0.3 2.5 0 2.5-0.2 2.5-0.3 2.5-0.5 2.5-0.4 2.5 0.1 2.5 0 2.5 0.1 2.5 0.2 2.5 1.3 2.5 0.8 2.5 0 2.5 0 2.5 0.7 2.5 1.1 2.5 0.5 2.5 0.5 2.5 1 2.5 0.7 2.5 0.3 2.5 0.3 2.5 0.4 2.5 0.4 2.5 0.5 2.5 0.5 2.5 0.6 2.5 0.2 2.5 0.2 2.5 0.2 2.5 0 2.5 0 2.5 0.5 2.5 0 2.5-0.4 2.5-0.1 2.5 0.1 2.5 0.2 2.5 0.1 2.5 0 2.5 0.2 2.5 0 2.5 0.2 2.5 0.4 2.5-0.2 2.5-0.2 2.5-0.1 2.5 0.1 2.5 0.3 2.5 0.1 2.5-0.5 2.5-0.2 2.5-0.1 2.5-0.3 2.5 0.3 2.5 0.2 2.5-0.1 2.5-0.3 2.5 0 2.5 0 2.5 0.2 2.5 0.3 2.5-0.1 2.5 0 2.5 0.3 2.5-0.4 2.5-0.6 2.5 0.2 2.5 0.6 2.5 0.2 2.5-0.1 2.5-0.2 2.5-0.2 2.5-0.1 2.5-0.2 2.5 0 2.5 0 2.5 0.1 2.5 0.1 2.5 0.1 2.5 0.1 2.5 0.3 2.5 0 2.5 0.3 2.5-0.2 2.5-0.4 2.5 0 2.5 0 2.5 0.4 2.5-0.2 2.5-0.7 2.5-0.4 2.5 0.3 2.5 0.2 2.5 0.4 2.5-0.3 2.5 0.1 2.5 0.3 2.5 0 2.5-0.1 2.5 0 2.5 0 2.5-0.2 2.5 0 2.5-0.2 2.5 0 2.5-0.1 2.5 0.2 2.5 0.4 2.5-0.1 2.5-0.7 2.5-0.1 2.5 0.3 2.5 0.4 2.5-0.1 2.5 0 2.5-0.3 2.5-0.2 2.5 0.2 2.5 0 2.5 0.5 2.5 0.3 2.5-0.1 2.5-0.2 2.5 0.3 2.5-0.1 2.5-0.3 2.5 0.8 2.5 0 2.5-0.7 2.5-0.1 2.5-0.2 2.5 0.2 2.5 0.3 2.5 0 2.5-0.3 2.5 0 2.5 0 2.5 0.3 2.5 0.2 2.5 0 2.5 0.2 2.5 0 2.5-0.1 2.5-0.2 2.5-0.4 2.5-0.2 2.5-0.2 2.5 0.3 2.5 0.2 2.5 0.2 2.5-0.2 2.5-0.2 2.5 0.2 2.5 0.1 2.5 0 2.5-0.4 2.5-0.4 2 0.2 M724 1096.6l2.5-0.1 2.5-0.2 2.5 0.1 2.5 0.1 2.5-0.6 2.5-0.5 2.5-0.3 2.5-0.3 2.5 0.1 2.5 0.2 2.5-0.6 2.5-0.3 2.5 0.1 2.5-0.3 2.5-0.6 2.5-0.6 2.5-0.3 2.5-0.2 2.5-0.2 2.5-0.3 2.5-0.5 2.5-0.6 2.5 0 2.5-0.2 2.5-0.2 2.5 0 2.5 0.1 2.5 0.1 2.5 0 2.5 0 2.5 0.5 2.5 0.7 2.5 0.3 2.5 0.1 2.5 0.4 2.5 0.5 2.5 0.7 2.5 0.8 2.5 0.8 2.5 0.7 2.5 0.7 2.5 0.3 2.5-0.1 2.5 0.5 2.5 0.2 2.5 0 2.5 0.4 2.5 0.8 2.5 0.7 2.5 0 2.5 0 2.5 0 2.5 0.1 2.5 0.2 2.5-0.1 2.5-0.2 2.5 0.6 2.5 0.9 2.5-0.3 2.5-0.4 2.5-0.1 2.5-0.2 2.5 0.2 2.5 0 2.5-0.5 2.5 0 2.5 0.2 2.5 0.1 2.5 0.1 2.5 0.2 2.5 0.3 2.5 0 2.5 0.1 2.5-0.1 2.5-0.4 2.5 0 2.5 0 2.5 0.1 2.5-0.1 2.5 0.1 2.5 0.3 2.5-0.4 2.5-0.4 2.5 0.3 2.5 0.1 2.5-0.1 2.5 0.2 2.5 0.1 2.5-0.2 2.5-0.2 2.5 0 2.5 0.2 2.5-0.1 2.5-0.2 2.5 0.4 2.5 0.2 2.5-0.7 2.5-0.2 2.5 0.3 2.5 0.2 2.5 0.3 2.5-0.6 2.5-0.2 2.5 0.4 2.5 0.5 2.5 0.1 2.5-0.1 2.5 0 2.5-0.1 2.5-0.5 2.5 0.3 2.5 0.3 2.5-0.4 2.5 0.2 2.5 0.4 2.5 0 2.5-0.1 2.5 0.2 2.5-0.1 2.5-0.3 2.5-0.5 2.5-0.2 2.5 0.3 2.5 0.2 2.5-0.7 2.5-0.1 2.5 0.7 2.5-0.3 2.5-0.6 2.5 0.4 2.5 0.5 2.5 0 2.5-0.5 2.5 0.2 2.5 0.6 2.5-0.1 2.5-0.4 2.5-0.2 2.5 0.1 2.5 0.4 2.5 0.1 2.5 0.2 2.5-0.2 2.5-0.4 2.5 0.1 2.5 0.3 2.5 0.2 2.5 0.2 2.5 0 2.5-0.3 2.5-0.1 2.5-0.3 2.5 0 2.5 0.3 2.5-0.1 2.5-0.3 2.5 0 2.5 0 2.5 0.2 2.5 0.3 2.5-0.4 2.5 0 2.5 0.3 2.5 0 2.5-0.2 2.5-0.3 2.5 0.2 2.5 0 2.5-0.1 2.5 0 2.5 0.3 2.5 0.5 2.5 0.2 2.5-0.2 2.5 0 2.5-0.4 2.5-0.4 2.5 0.3 2.5 0.5 2.5 0 2.5-0.3 2.5 0.3 2.5-0.5 2-0.3" fill="none" stroke="#0a0aff" stroke-width="2.25" stroke-linejoin="round"/>
<path d="M724 889.8l2.5 0.1 2.5 0.1 2.5-0.1 2.5 0 2.5-0.1 2.5 0.1 2.5 0.1 2.5-0.1 2.5-0.2 2.5-0.1 2.5 0 2.5 0.2 2.5 0.6 2.5 0.3 2.5-0.4 2.5-0.3 2.5 0 2.5 0.1 2.5-0.1 2.5-0.1 2.5 0 2.5 0.2 2.5-0.5 2.5-0.9 2.5-0.1 2.5-0.4 2.5-0.8 2.5-0.3 2.5-0.2 2.5-0.4 2.5-0.5 2.5-0.7 2.5-0.2 2.5-0.5 2.5-1 2.5-1.1 2.5-0.9 2.5-0.9 2.5-0.7 2.5-0.8 2.5-0.9 2.5-1.3 2.5-1 2.5-1.3 2.5-1.1 2.5-0.8 2.5-0.4 2.5-0.5 2.5-0.2 2.5-0.2 2.5-0.4 2.5-0.1 2.5 0.2 2.5 0.2 2.5 0.4 2.5 1 2.5 1.1 2.5 1.1 2.5 1.1 2.5 1 2.5 1.5 2.5 1.5 2.5 1 2.5 1.2 2.5 1.1 2.5 1.4 2.5 1.3 2.5 0.5 2.5 0.5 2.5 0.8 2.5 0.8 2.5 0.3 2.5-0.2 2.5 0.2 2.5 0.2 2.5 0 2.5 0.2 2.5-0.5 2.5-0.3 2.5-0.1 2.5 0.1 2.5 0.2 2.5-0.1 2.5-0.3 2.5-0.6 2.5-0.7 2.5-0.2 2.5-0.4 2.5 0 2.5 0 2.5-0.1 2.5 0 2.5 0 2.5 0.3 2.5-0.1 2.5 0 2.5-0.1 2.5-0.2 2.5-0.1 2.5 0.1 2.5-0.5 2.5 0 2.5 0 2.5-0.1 2.5 0 2.5-0.1 2.5 0.3 2.5 0.1 2.5-0.1 2.5-0.2 2.5-0.5 2.5-0.3 2.5 0.3 2.5 0.6 2.5 0.4 2.5-0.2 2.5 0 2.5 0.2 2.5 0.1 2.5-0.3 2.5-0.3 2.5-0.2 2.5-0.3 2.5-0.1 2.5 0.3 2.5 0.4 2.5-0.1 2.5-0.2 2.5-0.1 2.5-0.1 2.5 0.1 2.5 0.1 2.5 0.2 2.5-0.1 2.5-0.4 2.5 0.3 2.5 0.2 2.5-0.4 2.5 0 2.5 0.3 2.5 0.2 2.5-0.1 2.5-0.1 2.5 0.2 2.5 0.2 2.5 0.2 2.5 0.3 2.5-0.2 2.5-0.2 2.5 0.3 2.5 0.7 2.5 0.8 2.5 0.9 2.5 0.9 2.5 0.9 2.5 0.6 2.5 0.3 2.5-0.1 2.5 0.2 2.5 0.5 2.5 0.2 2.5 0.1 2.5 0 2.5 0 2.5 0.5 2.5-0.2 2.5-0.7 2.5 0.1 2.5 0.3 2.5 0.2 2.5-0.3 2.5-0.2 2.5 0.4 2.5 0.1 2.5 0.2 2.5 0 2.5 0 2.5 0.1 2.5-0.2 2.5-0.2 2.5 0.1 2.5-0.2 2.5-0.3 2 0" fill="none" stroke="#0a0aff" stroke-width="4" stroke-linejoin="round"/>
<line x1="444.4" y1="668.9" x2="444.4" y2="1111.3" stroke="#111" stroke-width="2.1" stroke-dasharray="6.3,7.9"/>
<rect x="59.5" y="665.3" width="461.5" height="446.0" fill="none" stroke="#111" stroke-width="2"/>
<line x1="59.5" y1="1111.3" x2="59.5" y2="1121.8" stroke="#111" stroke-width="2"/>
<text x="59.8" y="1161.2" font-size="31.5" text-anchor="middle" textLength="44" lengthAdjust="spacingAndGlyphs">1.0</text>
<line x1="251.9" y1="1111.3" x2="251.9" y2="1121.8" stroke="#111" stroke-width="2"/>
<text x="252.2" y="1161.2" font-size="31.5" text-anchor="middle" textLength="44" lengthAdjust="spacingAndGlyphs">0.5</text>
<line x1="444.4" y1="1111.3" x2="444.4" y2="1121.8" stroke="#111" stroke-width="2"/>
<text x="444.7" y="1161.2" font-size="31.5" text-anchor="middle" textLength="44" lengthAdjust="spacingAndGlyphs">0.0</text>
<text x="234.0" y="1195.6" font-size="31" textLength="112" lengthAdjust="spacingAndGlyphs">E<tspan font-size="23.5" dy="8.5">bin</tspan><tspan dy="-8.5"> (eV)</tspan></text>
<line x1="1107.6" y1="668.4" x2="1107.6" y2="1110.9" stroke="#111" stroke-width="2.1" stroke-dasharray="6.3,7.9"/>
<rect x="723.0" y="664.8" width="461.5" height="446.10000000000014" fill="none" stroke="#111" stroke-width="2"/>
<line x1="723.0" y1="1110.9" x2="723.0" y2="1121.4" stroke="#111" stroke-width="2"/>
<text x="723.3" y="1161.2" font-size="31.5" text-anchor="middle" textLength="44" lengthAdjust="spacingAndGlyphs">1.0</text>
<line x1="915.3" y1="1110.9" x2="915.3" y2="1121.4" stroke="#111" stroke-width="2"/>
<text x="915.6" y="1161.2" font-size="31.5" text-anchor="middle" textLength="44" lengthAdjust="spacingAndGlyphs">0.5</text>
<line x1="1107.6" y1="1110.9" x2="1107.6" y2="1121.4" stroke="#111" stroke-width="2"/>
<text x="1107.9" y="1161.2" font-size="31.5" text-anchor="middle" textLength="44" lengthAdjust="spacingAndGlyphs">0.0</text>
<text x="897.0" y="1195.6" font-size="31" textLength="112" lengthAdjust="spacingAndGlyphs">E<tspan font-size="23.5" dy="8.5">bin</tspan><tspan dy="-8.5"> (eV)</tspan></text>
<text x="525.3" y="704.0" font-size="31" textLength="72.5" lengthAdjust="spacingAndGlyphs">0.2 Å</text>
<text x="598.8" y="679.4" font-size="22.5">-1</text>
<text x="523.0" y="1110.0" font-size="31">-</text>
<text x="540.0" y="1110.0" font-size="31" textLength="72.5" lengthAdjust="spacingAndGlyphs">0.2 Å</text>
<text x="613.5" y="1085.3" font-size="22.5">-1</text>
<text x="1187.5" y="694.9" font-size="31" textLength="72.5" lengthAdjust="spacingAndGlyphs">0.2 Å</text>
<text x="1261.0" y="670.3" font-size="22.5">-1</text>
<text x="1186.7" y="1108.6" font-size="31">-</text>
<text x="1203.7" y="1108.6" font-size="31" textLength="72.5" lengthAdjust="spacingAndGlyphs">0.2 Å</text>
<text x="1277.2" y="1083.9" font-size="22.5">-1</text>
<text transform="translate(27.4,988) rotate(-90)" font-size="30.4" textLength="201" lengthAdjust="spacingAndGlyphs">Intensity (a.u.)</text>
<text transform="translate(691.0,988.6) rotate(-90)" font-size="30.4" textLength="201" lengthAdjust="spacingAndGlyphs">Intensity (a.u.)</text>
<text x="532.5" y="909.5" font-size="36.5" text-anchor="start" >Γ</text>
<text x="1192.7" y="906.7" font-size="36.5" text-anchor="start" >Γ</text>
</svg>
</body></html>
